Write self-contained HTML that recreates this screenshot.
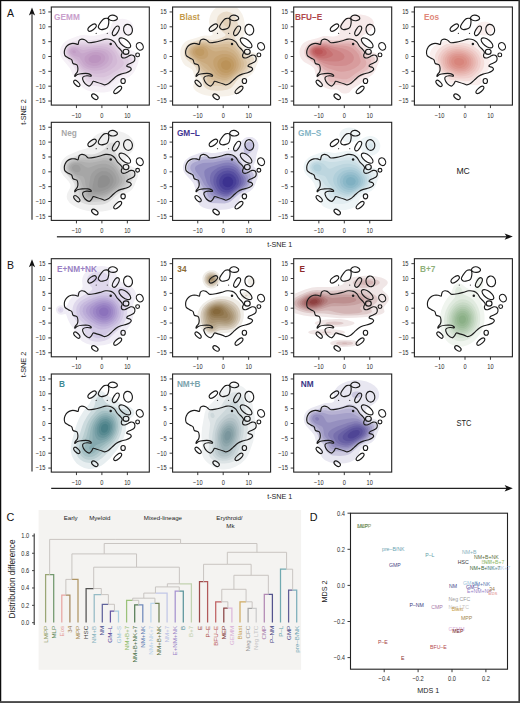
<!DOCTYPE html><html><head><meta charset="utf-8"><style>html,body{margin:0;padding:0;background:#fff;}svg{display:block}text{font-family:"Liberation Sans",sans-serif}</style></head><body>
<svg width="520" height="703" viewBox="0 0 520 703">
<rect width="520" height="703" fill="#fff"/>
<defs><clipPath id="pc"><rect x="0" y="0" width="98" height="98.1"/></clipPath></defs>
<rect x="0" y="0" width="520" height="1.15" fill="#0c0c0c"/><rect x="0" y="0" width="1.25" height="703" fill="#0c0c0c"/><rect x="518.4" y="0" width="1.6" height="703" fill="#383838"/><rect x="0" y="701.1" width="520" height="1.9" fill="#4a4a4a"/>
<g transform="translate(51.30 7.00)"><g clip-path="url(#pc)"><g transform="translate(0.90 0.60)"><path d="M55.0,84.5 52.0,84.9 48.5,84.9 38.5,83.8 34.0,82.5 30.5,80.2 28.5,78.0 25.1,73.0 21.4,69.0 20.3,67.0 18.6,62.5 17.5,60.5 9.7,51.0 8.5,48.5 7.9,46.0 7.8,44.0 8.1,41.5 9.3,38.5 11.0,35.9 13.5,33.6 16.5,31.8 25.0,28.7 28.5,27.7 32.0,27.5 38.5,28.2 42.0,28.1 46.0,27.5 54.0,25.5 56.2,24.5 57.1,23.5 59.2,17.0 60.6,15.0 62.3,13.5 64.5,12.2 67.5,11.4 70.5,11.2 73.5,11.6 77.0,13.0 79.5,15.1 81.1,18.0 81.3,21.0 80.5,23.5 78.4,26.0 76.0,27.6 71.8,29.5 70.3,30.5 69.6,32.0 69.9,33.5 71.7,37.0 74.3,40.0 76.5,41.4 82.0,43.9 83.5,45.1 84.7,46.5 85.8,48.5 86.4,50.5 86.4,52.5 86.1,55.0 85.3,57.5 82.8,63.0 81.6,65.0 79.9,67.0 77.0,69.3 70.0,73.0 67.8,74.5 65.9,76.5 63.1,80.5 61.5,82.0 58.5,83.6 55.0,84.5Z" fill="#f6f1f7" fill-rule="evenodd"/><path d="M54.0,79.0 52.0,79.4 50.0,79.5 43.5,78.3 37.0,78.2 34.5,77.3 32.3,75.5 28.8,70.0 24.4,66.0 23.6,64.5 22.1,60.5 20.9,58.5 13.5,50.5 11.9,48.0 11.2,45.5 11.3,42.5 12.4,39.5 14.4,37.0 16.0,35.8 18.5,34.6 29.5,31.7 32.0,31.6 37.5,32.4 40.0,32.5 52.0,30.7 57.0,30.8 60.5,31.9 63.5,34.1 66.7,37.5 71.5,43.7 72.9,45.0 74.5,45.8 79.0,47.0 81.0,48.4 82.2,50.5 82.4,52.0 82.3,53.5 79.0,61.5 77.3,64.0 74.5,66.2 68.5,69.0 65.1,71.0 57.5,77.1 54.0,79.0Z" fill="#ede3ee" fill-rule="evenodd"/><path d="M54.0,75.5 50.5,76.0 43.5,74.9 37.5,75.0 36.0,74.6 34.4,73.5 33.2,72.0 31.2,68.5 26.2,64.5 23.7,59.5 22.0,57.0 15.2,50.0 13.7,48.0 12.8,45.5 12.7,43.0 13.5,40.5 15.0,38.5 17.0,36.9 19.0,36.0 29.5,34.0 32.0,33.9 39.5,34.5 51.5,32.9 56.0,33.0 59.5,34.2 62.5,36.3 66.4,40.5 70.3,46.0 71.5,47.3 73.0,48.1 77.0,49.1 78.6,50.0 79.5,51.5 79.7,52.5 79.4,54.0 76.5,60.7 75.0,62.8 72.7,64.5 64.8,68.5 57.0,74.0 54.0,75.5Z" fill="#e6d7e8" fill-rule="evenodd"/><path d="M52.0,73.0 49.0,73.0 38.0,71.7 36.5,70.8 33.2,67.0 28.0,63.7 27.0,62.5 25.0,58.7 23.5,56.6 20.7,53.5 16.0,49.2 14.5,47.0 13.8,45.0 13.9,43.0 14.5,41.0 15.5,39.5 18.0,37.6 21.5,36.6 30.0,35.9 39.5,36.2 52.0,34.8 55.0,34.9 57.5,35.5 60.0,36.8 62.0,38.4 65.7,42.5 68.8,47.5 70.0,49.0 71.5,50.0 75.0,51.4 75.9,52.0 76.4,53.0 76.3,54.5 74.0,59.9 72.2,62.0 63.5,66.8 56.0,71.6 54.0,72.5 52.0,73.0Z" fill="#dfcde1" fill-rule="evenodd"/><path d="M51.5,69.6 46.5,69.7 41.0,68.9 29.3,62.5 28.0,61.1 25.8,57.5 24.0,55.2 21.4,52.5 17.2,49.0 15.6,47.0 15.0,45.5 14.8,43.5 15.4,41.5 16.4,40.0 18.5,38.4 21.5,37.6 36.5,37.9 51.0,36.6 54.0,36.9 56.5,37.5 58.5,38.4 60.5,39.8 64.0,43.5 68.0,50.3 71.3,54.0 71.7,55.0 71.5,56.5 70.1,59.0 67.0,61.5 57.0,67.6 54.0,69.0 51.5,69.6Z" fill="#d9c2db" fill-rule="evenodd"/><path d="M48.0,66.0 44.5,66.2 41.5,65.8 33.0,62.6 30.5,61.2 29.0,59.7 24.5,53.7 18.5,48.8 16.8,47.0 16.0,45.5 15.7,44.0 16.0,42.4 17.0,40.7 19.0,39.2 21.5,38.6 24.5,38.7 30.0,39.8 32.5,40.0 44.5,38.7 49.0,38.5 52.0,38.8 54.5,39.3 57.0,40.4 59.0,41.7 62.0,44.9 63.9,48.5 65.1,53.0 65.0,54.5 64.6,56.0 63.7,57.5 62.0,59.5 58.0,62.5 53.0,64.9 48.0,66.0Z" fill="#d3b9d6" fill-rule="evenodd"/><path d="M46.0,63.0 42.5,63.2 39.0,62.6 34.5,61.2 31.5,59.6 30.0,58.1 25.5,52.3 19.5,48.3 17.7,46.5 17.0,45.2 16.8,44.0 17.0,42.6 17.6,41.5 19.5,40.0 21.5,39.6 24.8,40.0 29.5,42.1 31.5,42.4 41.5,40.7 47.5,40.5 52.5,41.3 54.5,42.1 56.5,43.4 59.0,46.0 60.3,49.0 60.5,52.0 59.6,55.0 57.2,58.0 54.0,60.3 50.0,62.1 46.0,63.0Z" fill="#cdafd0" fill-rule="evenodd"/><path d="M45.0,60.5 42.0,60.7 39.0,60.4 36.0,59.6 33.5,58.3 31.0,56.0 28.0,50.8 27.0,49.7 21.5,47.9 19.0,46.2 18.2,45.0 18.0,44.0 18.5,42.3 19.3,41.5 20.5,40.9 22.0,40.8 23.3,41.0 25.5,42.2 28.5,45.3 30.0,45.8 32.0,45.4 38.5,43.2 43.5,42.4 46.5,42.4 49.0,42.8 51.2,43.5 53.2,44.5 55.3,46.5 56.4,48.5 56.7,51.0 56.1,53.5 54.3,56.0 51.8,58.0 48.5,59.6 45.0,60.5Z" fill="#c7a6cb" fill-rule="evenodd"/><path d="M23.0,45.6 21.5,45.6 20.5,45.0 20.0,44.0 20.5,43.0 22.0,42.7 23.3,43.5 23.6,44.5 23.5,45.1 23.0,45.6ZM44.5,58.1 41.5,58.3 39.0,58.0 36.5,57.2 34.6,56.0 32.9,54.0 32.3,52.0 32.5,50.0 33.4,48.5 35.0,47.2 37.1,46.0 39.9,45.0 42.5,44.5 45.0,44.5 47.5,44.9 49.5,45.6 51.0,46.6 52.3,48.0 52.9,49.5 53.0,51.3 52.4,53.0 51.4,54.5 49.5,56.1 47.0,57.4 44.5,58.1Z" fill="#c29dc5" fill-rule="evenodd"/><path d="M43.0,55.5 40.0,55.4 37.5,54.1 36.4,52.5 36.3,51.5 36.6,50.5 38.0,48.8 40.5,47.5 43.5,47.1 46.5,47.6 47.9,48.5 48.6,49.5 48.9,50.5 48.7,52.0 48.0,53.1 46.5,54.3 45.0,55.1 43.0,55.5Z" fill="#bc94c0" fill-rule="evenodd"/><g id="ct" fill="none" stroke="#1c1c1c" stroke-width="1.15"><path d="M25.80,36.90 C26.37,36.73 26.07,35.72 26.30,35.00 C26.53,34.28 26.65,33.18 27.20,32.60 C27.75,32.02 28.72,31.58 29.60,31.50 C30.48,31.42 31.70,31.75 32.50,32.10 C33.30,32.45 33.75,33.10 34.40,33.60 C35.05,34.10 35.12,34.95 36.40,35.10 C37.68,35.25 40.18,34.83 42.10,34.50 C44.02,34.17 46.00,33.60 47.90,33.10 C49.80,32.60 51.68,31.67 53.50,31.50 C55.32,31.33 57.33,31.58 58.80,32.10 C60.27,32.62 61.25,33.47 62.30,34.60 C63.35,35.73 64.12,37.67 65.10,38.90 C66.08,40.13 67.38,41.02 68.20,42.00 C69.02,42.98 69.85,43.88 70.00,44.80 C70.15,45.72 69.17,46.68 69.10,47.50 C69.03,48.32 69.07,49.22 69.60,49.70 C70.13,50.18 71.25,50.55 72.30,50.40 C73.35,50.25 74.85,49.28 75.90,48.80 C76.95,48.32 77.70,47.65 78.60,47.50 C79.50,47.35 80.62,47.38 81.30,47.90 C81.98,48.42 82.62,49.62 82.70,50.60 C82.78,51.58 82.48,52.97 81.80,53.80 C81.12,54.63 79.65,55.07 78.60,55.60 C77.55,56.13 76.17,56.47 75.50,57.00 C74.83,57.53 74.23,58.35 74.60,58.80 C74.97,59.25 76.95,59.25 77.70,59.70 C78.45,60.15 79.17,60.83 79.10,61.50 C79.03,62.17 78.13,63.10 77.30,63.70 C76.47,64.30 75.53,64.63 74.10,65.10 C72.67,65.57 70.35,65.90 68.70,66.50 C67.05,67.10 65.72,67.65 64.20,68.70 C62.68,69.75 60.97,71.60 59.60,72.80 C58.23,74.00 57.20,75.15 56.00,75.90 C54.80,76.65 53.52,77.27 52.40,77.30 C51.28,77.33 50.63,76.55 49.30,76.10 C47.97,75.65 45.77,75.00 44.40,74.60 C43.03,74.20 41.97,73.37 41.10,73.70 C40.23,74.03 39.92,75.80 39.20,76.60 C38.48,77.40 37.85,78.58 36.80,78.50 C35.75,78.42 33.95,77.22 32.90,76.10 C31.85,74.97 30.82,72.88 30.50,71.75 C30.18,70.62 30.28,69.89 31.00,69.30 C31.72,68.71 33.52,68.32 34.80,68.20 C36.08,68.08 38.05,68.73 38.70,68.60 C39.35,68.47 39.18,67.83 38.70,67.40 C38.22,66.97 37.25,66.23 35.80,66.00 C34.35,65.77 31.77,65.85 30.00,66.00 C28.23,66.15 26.40,66.42 25.20,66.90 C24.00,67.38 23.20,68.82 22.80,68.90 C22.40,68.98 22.40,68.20 22.80,67.40 C23.20,66.60 24.72,65.22 25.20,64.10 C25.68,62.98 25.78,61.83 25.70,60.70 C25.62,59.57 25.50,58.10 24.70,57.30 C23.90,56.50 21.70,56.62 20.90,55.90 C20.10,55.18 20.20,53.68 19.90,53.00 C19.60,52.32 19.72,52.23 19.10,51.80 C18.48,51.37 17.25,51.03 16.20,50.40 C15.15,49.77 13.48,48.97 12.80,48.00 C12.12,47.03 12.10,45.72 12.10,44.60 C12.10,43.48 12.28,42.42 12.80,41.30 C13.32,40.18 14.15,38.78 15.20,37.90 C16.25,37.02 17.82,36.32 19.10,36.00 C20.38,35.68 21.78,35.85 22.90,36.00 C24.02,36.15 25.23,37.07 25.80,36.90Z"/><path d="M55.50,10.80 C54.78,10.63 53.03,10.55 52.00,11.00 C50.97,11.45 50.20,12.38 49.30,13.50 C48.40,14.62 47.12,16.62 46.60,17.70 C46.08,18.78 45.88,19.30 46.20,20.00 C46.52,20.70 47.53,21.65 48.50,21.90 C49.47,22.15 50.90,21.82 52.00,21.50 C53.10,21.18 54.40,20.70 55.10,20.00 C55.80,19.30 55.95,18.27 56.20,17.30 C56.45,16.33 56.58,15.08 56.60,14.20 C56.62,13.32 56.48,12.57 56.30,12.00 C56.12,11.43 56.22,10.97 55.50,10.80Z"/><path d="M56.20,10.00 C56.47,9.40 57.48,8.32 58.20,7.90 C58.92,7.48 59.62,7.40 60.50,7.50 C61.38,7.60 62.72,8.02 63.50,8.50 C64.28,8.98 65.07,9.80 65.20,10.40 C65.33,11.00 64.97,11.65 64.30,12.10 C63.63,12.55 62.22,13.00 61.20,13.10 C60.18,13.20 58.97,12.97 58.20,12.70 C57.43,12.43 56.93,11.95 56.60,11.50 C56.27,11.05 55.93,10.60 56.20,10.00Z"/><ellipse cx="24.6" cy="75.8" rx="3.9" ry="1.9" transform="rotate(45 24.6 75.8)"/><ellipse cx="42.6" cy="89.1" rx="3.6" ry="2.1" transform="rotate(35 42.6 89.1)"/><ellipse cx="65.5" cy="82.3" rx="4.9" ry="2.1" transform="rotate(-42 65.5 82.3)"/><ellipse cx="70.9" cy="73.4" rx="2.2" ry="2.5" transform="rotate(0 70.9 73.4)"/><ellipse cx="73.8" cy="44.2" rx="2.9" ry="2.6" transform="rotate(0 73.8 44.2)"/><ellipse cx="85.4" cy="47.3" rx="1.9" ry="1.9" transform="rotate(0 85.4 47.3)"/><ellipse cx="87.6" cy="38.8" rx="3.3" ry="4.0" transform="rotate(-30 87.6 38.8)"/><ellipse cx="72.6" cy="35.3" rx="7.0" ry="3.3" transform="rotate(38 72.6 35.3)"/><ellipse cx="39.9" cy="20.0" rx="4.9" ry="2.4" transform="rotate(-38 39.9 20.0)"/><ellipse cx="63.6" cy="23.2" rx="5.3" ry="2.4" transform="rotate(-60 63.6 23.2)"/><ellipse cx="75.8" cy="22.1" rx="4.4" ry="5.4" transform="rotate(-12 75.8 22.1)"/></g><circle cx="58.5" cy="36.5" r="1.25" fill="#1e1e1e"/><circle cx="44" cy="25.8" r="0.62" fill="#444"/><circle cx="55.1" cy="25.8" r="0.62" fill="#444"/></g></g><rect x="0" y="0" width="98.0" height="98.1" fill="none" stroke="#222" stroke-width="1.1"/><line x1="-3" x2="0" y1="4.95" y2="4.95" stroke="#222" stroke-width="0.9"/><text transform="translate(-5.90 7.35) scale(0.850 1)" text-anchor="end" font-size="6.70" fill="#2a2a2a">15</text><line x1="-3" x2="0" y1="19.80" y2="19.80" stroke="#222" stroke-width="0.9"/><text transform="translate(-5.90 22.20) scale(0.850 1)" text-anchor="end" font-size="6.70" fill="#2a2a2a">10</text><line x1="-3" x2="0" y1="34.65" y2="34.65" stroke="#222" stroke-width="0.9"/><text transform="translate(-5.90 37.05) scale(0.850 1)" text-anchor="end" font-size="6.70" fill="#2a2a2a">5</text><line x1="-3" x2="0" y1="49.50" y2="49.50" stroke="#222" stroke-width="0.9"/><text transform="translate(-5.90 51.90) scale(0.850 1)" text-anchor="end" font-size="6.70" fill="#2a2a2a">0</text><line x1="-3" x2="0" y1="64.35" y2="64.35" stroke="#222" stroke-width="0.9"/><text transform="translate(-5.90 66.75) scale(0.850 1)" text-anchor="end" font-size="6.70" fill="#2a2a2a">−5</text><line x1="-3" x2="0" y1="79.20" y2="79.20" stroke="#222" stroke-width="0.9"/><text transform="translate(-5.90 81.60) scale(0.850 1)" text-anchor="end" font-size="6.70" fill="#2a2a2a">−10</text><line x1="-3" x2="0" y1="94.05" y2="94.05" stroke="#222" stroke-width="0.9"/><text transform="translate(-5.90 96.45) scale(0.850 1)" text-anchor="end" font-size="6.70" fill="#2a2a2a">−15</text><line x1="25.15" x2="25.15" y1="98.1" y2="101.1" stroke="#222" stroke-width="0.9"/><text transform="translate(25.15 110.60) scale(0.850 1)" text-anchor="middle" font-size="6.70" fill="#2a2a2a">−10</text><line x1="50.60" x2="50.60" y1="98.1" y2="101.1" stroke="#222" stroke-width="0.9"/><text transform="translate(50.60 110.60) scale(0.850 1)" text-anchor="middle" font-size="6.70" fill="#2a2a2a">0</text><line x1="76.05" x2="76.05" y1="98.1" y2="101.1" stroke="#222" stroke-width="0.9"/><text transform="translate(76.05 110.60) scale(0.850 1)" text-anchor="middle" font-size="6.70" fill="#2a2a2a">10</text><text x="2.8" y="13.3" font-size="8.25" font-weight="bold" fill="#c9a0cc">GEMM</text></g><g transform="translate(172.60 7.00)"><g clip-path="url(#pc)"><g transform="translate(0.90 0.60)"><path d="M48.5,89.0 39.5,88.9 32.0,87.7 28.5,86.7 25.7,85.5 23.1,84.0 21.3,82.5 20.0,80.5 19.7,78.5 20.2,76.5 21.6,73.5 21.8,72.0 19.4,63.5 18.0,61.3 12.0,58.1 10.5,56.7 9.3,55.0 7.9,52.0 7.1,49.0 6.7,46.0 6.9,43.0 7.7,40.0 9.2,37.0 11.5,34.5 14.0,32.9 17.0,31.8 22.4,30.5 28.5,28.3 31.5,27.9 37.0,28.2 38.8,27.5 39.2,26.5 39.0,25.5 36.9,20.5 35.9,17.0 35.6,14.5 35.8,11.5 36.7,8.0 38.2,5.0 40.0,2.5 42.5,0.2 50.5,-0.2 63.3,0.0 66.5,3.1 68.9,7.0 70.3,11.0 71.8,19.0 72.0,22.0 71.7,24.5 70.8,27.0 68.2,31.5 68.1,33.0 68.5,34.5 72.5,40.8 74.4,43.0 76.0,43.8 80.5,44.9 82.0,45.7 83.4,47.0 84.3,48.5 84.8,50.0 84.8,53.0 84.2,55.0 80.9,63.0 79.8,65.0 77.5,67.4 72.5,71.0 70.6,73.0 70.2,74.5 70.3,79.5 69.8,81.0 68.5,82.7 65.3,85.0 60.5,87.0 55.0,88.3 48.5,89.0Z" fill="#f6f1e9" fill-rule="evenodd"/><path d="M48.5,83.0 42.5,83.1 37.5,82.6 34.0,81.6 31.5,79.9 30.4,78.5 29.7,77.0 28.6,71.5 28.1,70.0 24.3,66.0 22.1,60.0 20.0,57.5 14.0,52.7 12.4,51.0 10.8,48.0 10.4,44.5 11.2,41.0 12.7,38.5 15.0,36.3 18.0,34.7 29.5,31.1 32.5,31.2 38.5,32.4 42.0,32.2 47.7,30.5 51.5,28.5 52.1,27.5 51.7,26.5 46.5,21.9 44.3,19.0 43.2,16.0 43.1,13.0 44.1,9.5 45.0,8.0 46.5,6.4 48.0,5.4 49.9,4.5 53.5,4.0 57.0,4.8 59.6,6.5 61.7,9.0 63.4,13.0 65.2,19.5 65.5,22.5 65.1,24.0 64.5,25.2 61.0,28.9 61.0,30.0 61.5,31.0 68.5,40.5 72.0,46.1 73.5,47.2 77.5,48.2 79.0,48.9 80.3,50.5 80.6,52.0 80.1,54.0 78.5,57.5 77.2,61.5 76.4,63.0 75.1,64.5 73.0,66.1 68.0,69.0 65.4,71.0 63.0,73.5 59.5,78.4 57.5,80.3 55.5,81.5 53.5,82.2 48.5,83.0Z" fill="#e9dcca" fill-rule="evenodd"/><path d="M56.5,19.7 55.0,19.8 53.0,19.1 51.3,18.0 50.0,16.5 49.4,15.0 49.4,13.5 50.0,12.0 51.0,11.0 52.5,10.4 54.0,10.5 55.5,11.2 56.7,12.5 57.5,14.5 57.9,17.0 57.5,18.9 56.5,19.7ZM52.0,78.6 49.0,78.7 43.5,78.2 37.5,78.7 35.0,77.9 33.2,76.5 31.8,74.0 31.0,69.7 30.5,68.5 29.7,67.5 27.0,65.6 26.1,64.5 24.2,60.0 22.9,58.0 20.0,55.2 15.0,50.9 13.8,49.5 12.9,48.0 12.3,45.5 12.6,42.5 13.8,40.0 15.5,38.0 17.5,36.6 19.5,35.8 24.0,34.5 28.0,33.0 30.0,32.7 32.5,32.9 37.5,34.2 40.5,34.3 44.0,33.9 52.0,32.0 55.5,31.8 57.5,32.3 59.0,33.0 62.5,36.0 67.0,41.6 70.7,48.0 72.0,49.1 76.3,51.5 76.8,53.0 76.6,54.5 74.8,60.5 74.1,62.0 73.0,63.3 64.2,69.5 56.5,76.6 54.5,77.8 52.0,78.6Z" fill="#e2d0b7" fill-rule="evenodd"/><path d="M52.5,76.0 49.5,76.2 43.0,75.2 37.5,75.6 36.0,75.2 35.0,74.4 33.9,72.5 33.5,68.5 32.7,67.0 28.0,63.7 24.3,57.5 16.1,50.0 14.6,48.0 13.8,46.0 13.8,43.5 14.7,41.0 16.3,39.0 18.0,37.7 20.0,36.8 28.0,34.3 30.0,34.0 32.5,34.2 37.5,35.7 40.0,35.9 43.5,35.6 51.5,34.1 55.0,34.0 57.0,34.5 58.5,35.2 61.5,37.6 66.0,43.0 69.5,49.4 73.0,53.3 73.4,55.0 72.9,58.5 71.9,61.0 69.8,63.5 63.5,68.3 56.5,74.2 54.5,75.4 52.5,76.0Z" fill="#dbc5a6" fill-rule="evenodd"/><path d="M53.0,74.0 49.5,74.2 43.5,72.9 39.4,72.5 38.0,72.0 37.2,71.0 36.3,67.5 35.3,66.0 29.5,62.3 25.3,56.5 17.9,50.0 16.1,48.0 15.2,46.0 15.0,44.0 15.6,42.0 16.9,40.0 18.5,38.7 20.5,37.7 28.0,35.5 30.0,35.2 32.0,35.4 37.0,37.1 40.0,37.5 43.5,37.4 51.0,36.3 54.5,36.4 57.8,37.5 61.0,40.0 64.9,44.5 69.9,53.5 70.5,56.0 70.3,58.5 68.9,61.5 66.6,64.0 57.5,71.6 55.0,73.2 53.0,74.0Z" fill="#d5bb97" fill-rule="evenodd"/><path d="M53.0,72.1 51.0,72.4 48.5,72.1 44.0,70.8 41.5,69.6 40.5,68.7 37.3,64.5 31.4,60.5 27.0,56.0 19.6,50.0 17.3,47.5 16.4,45.5 16.6,43.0 18.0,40.5 19.5,39.3 21.5,38.3 27.5,36.7 30.0,36.4 32.0,36.8 37.5,39.0 40.5,39.8 43.5,39.8 50.5,39.2 54.0,39.5 57.5,40.8 61.0,43.4 64.0,47.0 67.0,53.0 67.8,56.0 67.5,59.0 66.1,62.0 62.9,65.5 57.0,70.2 55.0,71.4 53.0,72.1Z" fill="#cfb289" fill-rule="evenodd"/><path d="M53.0,70.1 51.0,70.2 49.0,70.0 46.5,69.2 44.5,68.2 42.5,66.6 33.8,57.0 32.0,55.9 25.5,52.8 21.4,50.0 18.9,47.5 17.9,45.5 17.9,43.5 19.0,41.3 20.5,40.0 22.7,39.0 27.5,37.8 30.0,37.8 33.2,39.0 38.5,42.8 40.0,43.5 42.5,43.8 49.0,42.9 52.5,43.0 56.5,44.1 60.0,46.2 62.5,49.0 64.6,53.0 65.3,56.5 64.9,59.5 63.5,62.5 60.5,65.7 56.5,68.7 53.0,70.1Z" fill="#caa97c" fill-rule="evenodd"/><path d="M31.0,51.1 29.0,51.4 26.5,51.1 24.0,50.1 21.8,48.5 20.1,46.5 19.5,45.0 19.6,43.5 20.5,41.8 21.5,40.9 23.0,40.1 27.0,39.2 30.0,39.4 32.0,40.6 33.3,42.0 34.1,43.5 34.7,45.5 34.7,47.0 34.3,48.5 33.6,49.5 32.5,50.4 31.0,51.1ZM54.0,67.6 52.0,67.9 50.0,67.7 48.0,67.1 46.0,66.0 44.2,64.5 42.5,62.5 40.4,58.5 39.9,56.5 39.7,54.5 39.9,53.0 40.5,51.5 41.7,50.0 43.0,49.0 46.5,47.2 49.0,46.5 51.5,46.3 54.0,46.6 56.0,47.2 58.0,48.3 59.5,49.5 61.0,51.2 62.2,53.5 62.8,55.5 62.9,57.5 62.6,59.5 61.8,61.5 60.4,63.5 58.5,65.3 56.5,66.6 54.0,67.6Z" fill="#c5a16f" fill-rule="evenodd"/><path d="M27.5,48.5 26.0,48.5 24.5,48.0 23.1,47.0 22.2,46.0 21.8,45.0 21.7,44.0 22.0,43.0 23.0,42.0 25.0,41.1 27.0,40.9 29.0,41.4 30.2,42.5 30.9,44.5 30.5,46.5 29.0,48.0 27.5,48.5ZM54.5,65.1 51.5,65.3 48.5,64.4 46.0,62.3 44.3,59.5 43.8,56.5 44.5,53.7 46.2,51.5 49.0,49.9 52.5,49.4 55.5,50.1 58.3,52.0 59.4,53.5 60.1,55.0 60.5,58.0 59.6,61.0 57.5,63.5 54.5,65.1Z" fill="#c09a63" fill-rule="evenodd"/><path d="M54.5,62.1 52.5,62.5 50.6,62.0 49.1,61.0 48.0,59.5 47.5,57.5 47.7,56.0 48.5,54.5 50.0,53.3 52.0,52.7 54.0,53.0 55.9,54.0 57.1,55.5 57.6,57.5 57.2,59.5 56.1,61.0 54.5,62.1Z" fill="#bb9258" fill-rule="evenodd"/><g id="ct" fill="none" stroke="#1c1c1c" stroke-width="1.15"><path d="M25.80,36.90 C26.37,36.73 26.07,35.72 26.30,35.00 C26.53,34.28 26.65,33.18 27.20,32.60 C27.75,32.02 28.72,31.58 29.60,31.50 C30.48,31.42 31.70,31.75 32.50,32.10 C33.30,32.45 33.75,33.10 34.40,33.60 C35.05,34.10 35.12,34.95 36.40,35.10 C37.68,35.25 40.18,34.83 42.10,34.50 C44.02,34.17 46.00,33.60 47.90,33.10 C49.80,32.60 51.68,31.67 53.50,31.50 C55.32,31.33 57.33,31.58 58.80,32.10 C60.27,32.62 61.25,33.47 62.30,34.60 C63.35,35.73 64.12,37.67 65.10,38.90 C66.08,40.13 67.38,41.02 68.20,42.00 C69.02,42.98 69.85,43.88 70.00,44.80 C70.15,45.72 69.17,46.68 69.10,47.50 C69.03,48.32 69.07,49.22 69.60,49.70 C70.13,50.18 71.25,50.55 72.30,50.40 C73.35,50.25 74.85,49.28 75.90,48.80 C76.95,48.32 77.70,47.65 78.60,47.50 C79.50,47.35 80.62,47.38 81.30,47.90 C81.98,48.42 82.62,49.62 82.70,50.60 C82.78,51.58 82.48,52.97 81.80,53.80 C81.12,54.63 79.65,55.07 78.60,55.60 C77.55,56.13 76.17,56.47 75.50,57.00 C74.83,57.53 74.23,58.35 74.60,58.80 C74.97,59.25 76.95,59.25 77.70,59.70 C78.45,60.15 79.17,60.83 79.10,61.50 C79.03,62.17 78.13,63.10 77.30,63.70 C76.47,64.30 75.53,64.63 74.10,65.10 C72.67,65.57 70.35,65.90 68.70,66.50 C67.05,67.10 65.72,67.65 64.20,68.70 C62.68,69.75 60.97,71.60 59.60,72.80 C58.23,74.00 57.20,75.15 56.00,75.90 C54.80,76.65 53.52,77.27 52.40,77.30 C51.28,77.33 50.63,76.55 49.30,76.10 C47.97,75.65 45.77,75.00 44.40,74.60 C43.03,74.20 41.97,73.37 41.10,73.70 C40.23,74.03 39.92,75.80 39.20,76.60 C38.48,77.40 37.85,78.58 36.80,78.50 C35.75,78.42 33.95,77.22 32.90,76.10 C31.85,74.97 30.82,72.88 30.50,71.75 C30.18,70.62 30.28,69.89 31.00,69.30 C31.72,68.71 33.52,68.32 34.80,68.20 C36.08,68.08 38.05,68.73 38.70,68.60 C39.35,68.47 39.18,67.83 38.70,67.40 C38.22,66.97 37.25,66.23 35.80,66.00 C34.35,65.77 31.77,65.85 30.00,66.00 C28.23,66.15 26.40,66.42 25.20,66.90 C24.00,67.38 23.20,68.82 22.80,68.90 C22.40,68.98 22.40,68.20 22.80,67.40 C23.20,66.60 24.72,65.22 25.20,64.10 C25.68,62.98 25.78,61.83 25.70,60.70 C25.62,59.57 25.50,58.10 24.70,57.30 C23.90,56.50 21.70,56.62 20.90,55.90 C20.10,55.18 20.20,53.68 19.90,53.00 C19.60,52.32 19.72,52.23 19.10,51.80 C18.48,51.37 17.25,51.03 16.20,50.40 C15.15,49.77 13.48,48.97 12.80,48.00 C12.12,47.03 12.10,45.72 12.10,44.60 C12.10,43.48 12.28,42.42 12.80,41.30 C13.32,40.18 14.15,38.78 15.20,37.90 C16.25,37.02 17.82,36.32 19.10,36.00 C20.38,35.68 21.78,35.85 22.90,36.00 C24.02,36.15 25.23,37.07 25.80,36.90Z"/><path d="M55.50,10.80 C54.78,10.63 53.03,10.55 52.00,11.00 C50.97,11.45 50.20,12.38 49.30,13.50 C48.40,14.62 47.12,16.62 46.60,17.70 C46.08,18.78 45.88,19.30 46.20,20.00 C46.52,20.70 47.53,21.65 48.50,21.90 C49.47,22.15 50.90,21.82 52.00,21.50 C53.10,21.18 54.40,20.70 55.10,20.00 C55.80,19.30 55.95,18.27 56.20,17.30 C56.45,16.33 56.58,15.08 56.60,14.20 C56.62,13.32 56.48,12.57 56.30,12.00 C56.12,11.43 56.22,10.97 55.50,10.80Z"/><path d="M56.20,10.00 C56.47,9.40 57.48,8.32 58.20,7.90 C58.92,7.48 59.62,7.40 60.50,7.50 C61.38,7.60 62.72,8.02 63.50,8.50 C64.28,8.98 65.07,9.80 65.20,10.40 C65.33,11.00 64.97,11.65 64.30,12.10 C63.63,12.55 62.22,13.00 61.20,13.10 C60.18,13.20 58.97,12.97 58.20,12.70 C57.43,12.43 56.93,11.95 56.60,11.50 C56.27,11.05 55.93,10.60 56.20,10.00Z"/><ellipse cx="24.6" cy="75.8" rx="3.9" ry="1.9" transform="rotate(45 24.6 75.8)"/><ellipse cx="42.6" cy="89.1" rx="3.6" ry="2.1" transform="rotate(35 42.6 89.1)"/><ellipse cx="65.5" cy="82.3" rx="4.9" ry="2.1" transform="rotate(-42 65.5 82.3)"/><ellipse cx="70.9" cy="73.4" rx="2.2" ry="2.5" transform="rotate(0 70.9 73.4)"/><ellipse cx="73.8" cy="44.2" rx="2.9" ry="2.6" transform="rotate(0 73.8 44.2)"/><ellipse cx="85.4" cy="47.3" rx="1.9" ry="1.9" transform="rotate(0 85.4 47.3)"/><ellipse cx="87.6" cy="38.8" rx="3.3" ry="4.0" transform="rotate(-30 87.6 38.8)"/><ellipse cx="72.6" cy="35.3" rx="7.0" ry="3.3" transform="rotate(38 72.6 35.3)"/><ellipse cx="39.9" cy="20.0" rx="4.9" ry="2.4" transform="rotate(-38 39.9 20.0)"/><ellipse cx="63.6" cy="23.2" rx="5.3" ry="2.4" transform="rotate(-60 63.6 23.2)"/><ellipse cx="75.8" cy="22.1" rx="4.4" ry="5.4" transform="rotate(-12 75.8 22.1)"/></g><circle cx="58.5" cy="36.5" r="1.25" fill="#1e1e1e"/><circle cx="44" cy="25.8" r="0.62" fill="#444"/><circle cx="55.1" cy="25.8" r="0.62" fill="#444"/></g></g><rect x="0" y="0" width="98.0" height="98.1" fill="none" stroke="#222" stroke-width="1.1"/><line x1="-3" x2="0" y1="4.95" y2="4.95" stroke="#222" stroke-width="0.9"/><text transform="translate(-5.90 7.35) scale(0.850 1)" text-anchor="end" font-size="6.70" fill="#2a2a2a">15</text><line x1="-3" x2="0" y1="19.80" y2="19.80" stroke="#222" stroke-width="0.9"/><text transform="translate(-5.90 22.20) scale(0.850 1)" text-anchor="end" font-size="6.70" fill="#2a2a2a">10</text><line x1="-3" x2="0" y1="34.65" y2="34.65" stroke="#222" stroke-width="0.9"/><text transform="translate(-5.90 37.05) scale(0.850 1)" text-anchor="end" font-size="6.70" fill="#2a2a2a">5</text><line x1="-3" x2="0" y1="49.50" y2="49.50" stroke="#222" stroke-width="0.9"/><text transform="translate(-5.90 51.90) scale(0.850 1)" text-anchor="end" font-size="6.70" fill="#2a2a2a">0</text><line x1="-3" x2="0" y1="64.35" y2="64.35" stroke="#222" stroke-width="0.9"/><text transform="translate(-5.90 66.75) scale(0.850 1)" text-anchor="end" font-size="6.70" fill="#2a2a2a">−5</text><line x1="-3" x2="0" y1="79.20" y2="79.20" stroke="#222" stroke-width="0.9"/><text transform="translate(-5.90 81.60) scale(0.850 1)" text-anchor="end" font-size="6.70" fill="#2a2a2a">−10</text><line x1="-3" x2="0" y1="94.05" y2="94.05" stroke="#222" stroke-width="0.9"/><text transform="translate(-5.90 96.45) scale(0.850 1)" text-anchor="end" font-size="6.70" fill="#2a2a2a">−15</text><line x1="25.15" x2="25.15" y1="98.1" y2="101.1" stroke="#222" stroke-width="0.9"/><text transform="translate(25.15 110.60) scale(0.850 1)" text-anchor="middle" font-size="6.70" fill="#2a2a2a">−10</text><line x1="50.60" x2="50.60" y1="98.1" y2="101.1" stroke="#222" stroke-width="0.9"/><text transform="translate(50.60 110.60) scale(0.850 1)" text-anchor="middle" font-size="6.70" fill="#2a2a2a">0</text><line x1="76.05" x2="76.05" y1="98.1" y2="101.1" stroke="#222" stroke-width="0.9"/><text transform="translate(76.05 110.60) scale(0.850 1)" text-anchor="middle" font-size="6.70" fill="#2a2a2a">10</text><text x="7.0" y="13.3" font-size="8.25" font-weight="bold" fill="#c49a4a">Blast</text></g><g transform="translate(293.70 7.00)"><g clip-path="url(#pc)"><g transform="translate(0.90 0.60)"><path d="M51.5,86.0 49.0,85.9 47.0,85.3 45.7,84.5 43.5,82.5 42.5,82.0 36.0,81.8 32.5,81.0 29.0,79.3 26.2,77.0 24.2,74.5 22.0,70.0 21.1,67.5 20.0,62.5 19.0,60.5 16.0,57.8 9.5,54.3 8.0,53.0 6.5,51.0 5.6,49.0 5.0,46.5 4.9,44.0 5.3,41.5 6.5,38.5 8.4,36.0 10.5,34.3 13.5,32.8 22.5,30.6 29.0,28.5 32.0,28.3 37.4,29.0 39.5,29.0 41.9,28.5 43.8,27.5 44.8,26.5 45.2,25.5 44.6,20.0 44.9,18.0 45.5,16.5 46.7,14.5 48.1,13.0 50.0,11.5 52.5,9.9 57.0,8.1 61.5,7.2 66.0,7.0 70.5,7.6 74.5,9.1 77.5,11.5 79.0,14.0 79.3,17.0 78.5,19.5 76.8,22.0 74.0,24.5 67.5,28.5 66.5,30.0 66.6,31.5 67.5,33.5 69.0,36.0 74.0,42.9 75.5,43.8 81.0,45.3 82.5,46.3 83.5,47.3 84.8,50.0 84.9,51.5 84.7,53.5 80.6,63.5 78.5,66.5 76.5,68.2 70.8,72.0 64.9,77.0 58.0,81.0 55.0,84.6 53.5,85.5 51.5,86.0Z" fill="#f6e9e9" fill-rule="evenodd"/><path d="M54.0,77.5 50.5,78.0 43.5,77.3 37.0,77.8 34.5,77.2 32.0,75.6 30.6,73.5 29.0,69.2 25.5,65.5 23.3,60.5 22.3,59.0 18.7,55.5 12.8,51.0 10.7,48.5 9.8,46.0 9.8,43.0 10.6,40.5 12.4,38.0 14.5,36.2 17.5,34.8 23.0,33.5 29.0,31.7 32.0,31.6 37.0,32.7 40.0,32.9 44.0,32.5 52.0,31.0 56.0,31.0 59.5,32.2 63.0,34.8 67.6,40.0 71.1,45.5 72.5,47.0 74.0,47.7 78.0,48.7 79.4,49.5 80.1,50.5 80.4,51.5 80.2,53.5 78.4,57.5 77.0,61.5 75.7,63.5 73.5,65.3 66.0,69.4 58.5,75.5 56.5,76.6 54.0,77.5Z" fill="#ecd0d0" fill-rule="evenodd"/><path d="M52.0,75.1 49.5,75.1 43.5,74.4 37.5,74.8 36.0,74.4 34.7,73.5 33.8,72.0 33.0,68.5 32.2,67.0 27.5,63.5 24.7,59.0 23.0,57.0 14.5,50.3 12.6,48.0 11.6,45.5 11.7,43.0 12.6,40.5 14.0,38.6 16.0,37.0 18.5,35.9 28.5,33.4 30.5,33.2 32.5,33.4 37.5,34.6 40.0,34.8 43.5,34.6 51.5,33.6 55.0,33.6 57.0,34.0 59.0,34.9 62.5,37.5 66.5,42.0 70.5,48.6 72.0,49.8 75.0,51.2 75.9,52.0 76.4,53.0 76.2,54.5 74.3,60.0 73.5,61.4 72.4,62.5 64.0,67.5 56.5,73.5 54.4,74.5 52.0,75.1Z" fill="#e5bdbe" fill-rule="evenodd"/><path d="M52.0,71.6 48.0,71.7 40.5,70.4 39.3,69.5 37.8,67.0 36.4,65.5 29.5,61.8 24.6,56.5 16.0,50.0 14.0,48.0 13.0,46.0 12.8,43.5 13.4,41.5 14.7,39.5 16.5,37.9 19.0,36.8 30.0,34.6 32.0,34.7 36.5,35.8 39.5,36.2 50.5,35.8 54.0,35.9 57.7,37.0 61.0,39.2 65.0,43.5 68.5,49.8 71.4,53.5 71.8,55.0 71.5,57.0 70.5,59.2 68.7,61.0 61.0,65.9 55.0,70.3 52.0,71.6Z" fill="#deacad" fill-rule="evenodd"/><path d="M50.0,64.0 46.5,64.2 43.0,63.6 33.5,60.6 30.5,59.1 17.5,50.0 15.3,48.0 14.3,46.5 13.8,44.5 14.1,42.5 14.8,41.0 16.5,39.1 19.0,37.7 21.5,37.1 30.0,35.8 39.0,37.6 48.5,38.0 52.0,38.4 55.5,39.4 58.5,41.0 61.9,44.0 64.0,47.0 65.9,52.5 66.1,54.0 65.7,55.5 63.9,58.0 60.0,60.7 55.0,62.9 50.0,64.0Z" fill="#d89c9d" fill-rule="evenodd"/><path d="M47.0,58.5 41.0,58.3 34.0,57.1 29.5,55.6 23.5,52.7 18.0,49.2 15.7,47.0 14.8,44.5 14.9,43.0 15.5,41.5 17.3,39.5 20.0,38.2 29.5,37.0 32.0,37.3 38.5,39.1 47.5,40.7 50.5,41.7 53.4,43.0 56.3,45.0 58.5,47.5 59.3,50.0 59.0,52.5 57.5,54.7 54.9,56.5 51.5,57.8 47.0,58.5Z" fill="#d28d8f" fill-rule="evenodd"/><path d="M44.0,53.6 39.5,53.9 32.5,53.6 28.0,52.9 24.5,51.8 20.0,49.5 17.0,47.1 15.9,45.0 15.8,43.5 16.1,42.5 17.5,40.5 20.0,39.1 22.6,38.5 28.0,38.1 31.5,38.6 41.8,42.5 45.2,44.0 47.5,45.5 49.0,47.0 49.9,49.0 49.6,50.5 48.5,51.8 46.5,52.9 44.0,53.6Z" fill="#cc7f80" fill-rule="evenodd"/><path d="M32.0,50.6 29.0,50.9 26.0,50.7 23.5,50.1 20.5,48.7 18.3,47.0 17.2,45.5 16.9,43.5 17.5,42.0 18.5,40.9 20.0,40.0 24.0,39.2 29.0,39.5 32.6,41.0 34.8,42.5 37.0,44.5 38.0,46.0 38.3,47.0 37.9,48.0 36.8,49.0 34.5,50.0 32.0,50.6Z" fill="#c77172" fill-rule="evenodd"/><path d="M26.0,49.0 22.5,48.3 19.4,46.5 18.5,45.3 18.2,44.0 18.3,43.0 19.0,41.9 20.0,41.2 21.5,40.5 25.0,40.3 28.5,41.0 30.8,42.5 31.8,44.0 32.1,45.0 32.0,46.0 31.5,46.8 30.5,47.7 29.0,48.5 26.0,49.0Z" fill="#c16365" fill-rule="evenodd"/><path d="M25.0,47.0 22.5,46.6 20.7,45.5 20.0,44.0 20.7,42.5 22.0,41.8 24.0,41.6 26.0,42.0 27.6,43.0 28.1,44.0 27.9,45.5 26.8,46.5 25.0,47.0Z" fill="#bc5658" fill-rule="evenodd"/><g id="ct" fill="none" stroke="#1c1c1c" stroke-width="1.15"><path d="M25.80,36.90 C26.37,36.73 26.07,35.72 26.30,35.00 C26.53,34.28 26.65,33.18 27.20,32.60 C27.75,32.02 28.72,31.58 29.60,31.50 C30.48,31.42 31.70,31.75 32.50,32.10 C33.30,32.45 33.75,33.10 34.40,33.60 C35.05,34.10 35.12,34.95 36.40,35.10 C37.68,35.25 40.18,34.83 42.10,34.50 C44.02,34.17 46.00,33.60 47.90,33.10 C49.80,32.60 51.68,31.67 53.50,31.50 C55.32,31.33 57.33,31.58 58.80,32.10 C60.27,32.62 61.25,33.47 62.30,34.60 C63.35,35.73 64.12,37.67 65.10,38.90 C66.08,40.13 67.38,41.02 68.20,42.00 C69.02,42.98 69.85,43.88 70.00,44.80 C70.15,45.72 69.17,46.68 69.10,47.50 C69.03,48.32 69.07,49.22 69.60,49.70 C70.13,50.18 71.25,50.55 72.30,50.40 C73.35,50.25 74.85,49.28 75.90,48.80 C76.95,48.32 77.70,47.65 78.60,47.50 C79.50,47.35 80.62,47.38 81.30,47.90 C81.98,48.42 82.62,49.62 82.70,50.60 C82.78,51.58 82.48,52.97 81.80,53.80 C81.12,54.63 79.65,55.07 78.60,55.60 C77.55,56.13 76.17,56.47 75.50,57.00 C74.83,57.53 74.23,58.35 74.60,58.80 C74.97,59.25 76.95,59.25 77.70,59.70 C78.45,60.15 79.17,60.83 79.10,61.50 C79.03,62.17 78.13,63.10 77.30,63.70 C76.47,64.30 75.53,64.63 74.10,65.10 C72.67,65.57 70.35,65.90 68.70,66.50 C67.05,67.10 65.72,67.65 64.20,68.70 C62.68,69.75 60.97,71.60 59.60,72.80 C58.23,74.00 57.20,75.15 56.00,75.90 C54.80,76.65 53.52,77.27 52.40,77.30 C51.28,77.33 50.63,76.55 49.30,76.10 C47.97,75.65 45.77,75.00 44.40,74.60 C43.03,74.20 41.97,73.37 41.10,73.70 C40.23,74.03 39.92,75.80 39.20,76.60 C38.48,77.40 37.85,78.58 36.80,78.50 C35.75,78.42 33.95,77.22 32.90,76.10 C31.85,74.97 30.82,72.88 30.50,71.75 C30.18,70.62 30.28,69.89 31.00,69.30 C31.72,68.71 33.52,68.32 34.80,68.20 C36.08,68.08 38.05,68.73 38.70,68.60 C39.35,68.47 39.18,67.83 38.70,67.40 C38.22,66.97 37.25,66.23 35.80,66.00 C34.35,65.77 31.77,65.85 30.00,66.00 C28.23,66.15 26.40,66.42 25.20,66.90 C24.00,67.38 23.20,68.82 22.80,68.90 C22.40,68.98 22.40,68.20 22.80,67.40 C23.20,66.60 24.72,65.22 25.20,64.10 C25.68,62.98 25.78,61.83 25.70,60.70 C25.62,59.57 25.50,58.10 24.70,57.30 C23.90,56.50 21.70,56.62 20.90,55.90 C20.10,55.18 20.20,53.68 19.90,53.00 C19.60,52.32 19.72,52.23 19.10,51.80 C18.48,51.37 17.25,51.03 16.20,50.40 C15.15,49.77 13.48,48.97 12.80,48.00 C12.12,47.03 12.10,45.72 12.10,44.60 C12.10,43.48 12.28,42.42 12.80,41.30 C13.32,40.18 14.15,38.78 15.20,37.90 C16.25,37.02 17.82,36.32 19.10,36.00 C20.38,35.68 21.78,35.85 22.90,36.00 C24.02,36.15 25.23,37.07 25.80,36.90Z"/><path d="M55.50,10.80 C54.78,10.63 53.03,10.55 52.00,11.00 C50.97,11.45 50.20,12.38 49.30,13.50 C48.40,14.62 47.12,16.62 46.60,17.70 C46.08,18.78 45.88,19.30 46.20,20.00 C46.52,20.70 47.53,21.65 48.50,21.90 C49.47,22.15 50.90,21.82 52.00,21.50 C53.10,21.18 54.40,20.70 55.10,20.00 C55.80,19.30 55.95,18.27 56.20,17.30 C56.45,16.33 56.58,15.08 56.60,14.20 C56.62,13.32 56.48,12.57 56.30,12.00 C56.12,11.43 56.22,10.97 55.50,10.80Z"/><path d="M56.20,10.00 C56.47,9.40 57.48,8.32 58.20,7.90 C58.92,7.48 59.62,7.40 60.50,7.50 C61.38,7.60 62.72,8.02 63.50,8.50 C64.28,8.98 65.07,9.80 65.20,10.40 C65.33,11.00 64.97,11.65 64.30,12.10 C63.63,12.55 62.22,13.00 61.20,13.10 C60.18,13.20 58.97,12.97 58.20,12.70 C57.43,12.43 56.93,11.95 56.60,11.50 C56.27,11.05 55.93,10.60 56.20,10.00Z"/><ellipse cx="24.6" cy="75.8" rx="3.9" ry="1.9" transform="rotate(45 24.6 75.8)"/><ellipse cx="42.6" cy="89.1" rx="3.6" ry="2.1" transform="rotate(35 42.6 89.1)"/><ellipse cx="65.5" cy="82.3" rx="4.9" ry="2.1" transform="rotate(-42 65.5 82.3)"/><ellipse cx="70.9" cy="73.4" rx="2.2" ry="2.5" transform="rotate(0 70.9 73.4)"/><ellipse cx="73.8" cy="44.2" rx="2.9" ry="2.6" transform="rotate(0 73.8 44.2)"/><ellipse cx="85.4" cy="47.3" rx="1.9" ry="1.9" transform="rotate(0 85.4 47.3)"/><ellipse cx="87.6" cy="38.8" rx="3.3" ry="4.0" transform="rotate(-30 87.6 38.8)"/><ellipse cx="72.6" cy="35.3" rx="7.0" ry="3.3" transform="rotate(38 72.6 35.3)"/><ellipse cx="39.9" cy="20.0" rx="4.9" ry="2.4" transform="rotate(-38 39.9 20.0)"/><ellipse cx="63.6" cy="23.2" rx="5.3" ry="2.4" transform="rotate(-60 63.6 23.2)"/><ellipse cx="75.8" cy="22.1" rx="4.4" ry="5.4" transform="rotate(-12 75.8 22.1)"/></g><circle cx="58.5" cy="36.5" r="1.25" fill="#1e1e1e"/><circle cx="44" cy="25.8" r="0.62" fill="#444"/><circle cx="55.1" cy="25.8" r="0.62" fill="#444"/></g></g><rect x="0" y="0" width="98.0" height="98.1" fill="none" stroke="#222" stroke-width="1.1"/><line x1="-3" x2="0" y1="4.95" y2="4.95" stroke="#222" stroke-width="0.9"/><text transform="translate(-5.90 7.35) scale(0.850 1)" text-anchor="end" font-size="6.70" fill="#2a2a2a">15</text><line x1="-3" x2="0" y1="19.80" y2="19.80" stroke="#222" stroke-width="0.9"/><text transform="translate(-5.90 22.20) scale(0.850 1)" text-anchor="end" font-size="6.70" fill="#2a2a2a">10</text><line x1="-3" x2="0" y1="34.65" y2="34.65" stroke="#222" stroke-width="0.9"/><text transform="translate(-5.90 37.05) scale(0.850 1)" text-anchor="end" font-size="6.70" fill="#2a2a2a">5</text><line x1="-3" x2="0" y1="49.50" y2="49.50" stroke="#222" stroke-width="0.9"/><text transform="translate(-5.90 51.90) scale(0.850 1)" text-anchor="end" font-size="6.70" fill="#2a2a2a">0</text><line x1="-3" x2="0" y1="64.35" y2="64.35" stroke="#222" stroke-width="0.9"/><text transform="translate(-5.90 66.75) scale(0.850 1)" text-anchor="end" font-size="6.70" fill="#2a2a2a">−5</text><line x1="-3" x2="0" y1="79.20" y2="79.20" stroke="#222" stroke-width="0.9"/><text transform="translate(-5.90 81.60) scale(0.850 1)" text-anchor="end" font-size="6.70" fill="#2a2a2a">−10</text><line x1="-3" x2="0" y1="94.05" y2="94.05" stroke="#222" stroke-width="0.9"/><text transform="translate(-5.90 96.45) scale(0.850 1)" text-anchor="end" font-size="6.70" fill="#2a2a2a">−15</text><line x1="25.15" x2="25.15" y1="98.1" y2="101.1" stroke="#222" stroke-width="0.9"/><text transform="translate(25.15 110.60) scale(0.850 1)" text-anchor="middle" font-size="6.70" fill="#2a2a2a">−10</text><line x1="50.60" x2="50.60" y1="98.1" y2="101.1" stroke="#222" stroke-width="0.9"/><text transform="translate(50.60 110.60) scale(0.850 1)" text-anchor="middle" font-size="6.70" fill="#2a2a2a">0</text><line x1="76.05" x2="76.05" y1="98.1" y2="101.1" stroke="#222" stroke-width="0.9"/><text transform="translate(76.05 110.60) scale(0.850 1)" text-anchor="middle" font-size="6.70" fill="#2a2a2a">10</text><text x="1.4" y="13.3" font-size="8.25" font-weight="bold" fill="#b0474b">BFU–E</text></g><g transform="translate(414.40 7.00)"><g clip-path="url(#pc)"><g transform="translate(0.00 0.60)"><path d="M71.5,28.0 68.5,28.0 65.5,27.1 63.4,25.5 61.8,23.0 61.5,20.5 62.2,18.0 64.0,15.9 67.0,14.3 70.5,13.9 74.0,14.7 76.6,16.5 78.2,19.0 78.5,20.5 78.5,22.0 78.0,23.5 77.1,25.0 74.5,27.1 71.5,28.0ZM63.5,77.6 61.0,77.7 57.0,77.1 52.0,76.8 43.0,74.9 41.5,75.0 38.0,76.1 36.5,76.1 35.0,75.7 33.1,74.5 32.0,73.4 31.1,72.0 30.4,69.0 30.0,68.3 29.0,67.8 25.7,67.0 24.5,66.0 24.1,64.5 23.9,61.0 23.4,59.5 20.2,55.5 15.8,48.5 15.5,47.0 15.7,45.0 16.7,42.5 18.1,40.5 19.6,39.0 21.0,38.0 25.0,36.4 29.0,33.6 31.0,33.1 32.5,33.1 36.5,34.0 38.5,34.1 50.0,32.8 53.5,32.7 58.0,33.7 61.5,35.7 68.0,42.5 69.1,44.5 70.0,47.5 70.9,49.0 75.0,51.5 75.7,53.0 74.7,57.5 74.5,60.5 74.1,62.0 72.5,64.0 68.5,67.0 66.6,69.0 66.2,70.5 67.5,73.5 67.3,75.0 66.0,76.6 63.5,77.6Z" fill="#faefee" fill-rule="evenodd"/><path d="M55.0,73.5 51.0,73.7 43.0,72.7 37.0,72.4 35.5,71.8 34.6,71.0 34.2,70.0 33.9,68.0 33.0,67.0 28.0,65.3 26.9,64.5 26.3,63.5 25.0,58.7 21.6,53.5 20.5,49.5 20.8,47.5 21.6,45.5 23.1,43.0 24.9,41.0 29.5,37.7 32.5,36.4 46.0,35.5 49.5,35.5 53.5,36.2 57.5,37.7 61.0,39.9 64.5,43.0 66.5,45.8 69.6,53.0 69.9,56.0 69.3,59.5 68.5,61.5 67.2,63.5 60.5,70.6 58.0,72.5 55.0,73.5Z" fill="#f4ddda" fill-rule="evenodd"/><path d="M49.5,71.0 44.5,70.9 40.0,70.1 38.8,69.5 37.1,67.5 35.9,66.5 29.5,64.1 28.0,62.8 26.1,58.0 23.9,54.0 23.5,52.5 23.5,50.5 24.4,47.5 26.0,44.8 28.0,42.5 31.0,40.3 34.5,38.7 39.0,37.9 45.0,37.5 50.0,38.1 54.5,39.5 58.5,41.7 61.9,44.5 64.2,47.5 65.9,51.5 66.4,55.0 65.8,59.0 64.1,62.5 61.0,66.2 57.5,69.1 54.5,70.3 49.5,71.0Z" fill="#f0cfcc" fill-rule="evenodd"/><path d="M51.0,68.5 46.0,69.0 41.5,68.4 36.8,65.5 31.5,63.4 29.5,61.8 28.5,60.1 26.4,55.0 26.0,52.0 26.3,50.0 27.3,47.5 28.7,45.5 30.7,43.5 34.0,41.4 37.5,40.1 42.0,39.5 46.5,39.6 51.0,40.6 55.0,42.2 58.4,44.5 60.8,47.0 62.7,50.0 63.6,53.5 63.5,57.0 62.5,60.0 60.5,63.1 57.5,65.8 54.5,67.5 51.0,68.5Z" fill="#ecc3bf" fill-rule="evenodd"/><path d="M48.0,67.0 44.0,67.1 41.0,66.4 33.1,62.5 31.5,61.2 30.2,59.5 29.0,57.1 28.4,55.0 28.2,53.0 28.4,51.0 29.1,49.0 30.3,47.0 32.0,45.2 34.0,43.7 37.5,42.1 41.0,41.4 44.5,41.3 48.5,41.8 52.1,43.0 55.5,44.8 58.1,47.0 59.9,49.5 61.0,52.0 61.4,55.0 60.8,58.0 59.5,60.7 57.5,63.0 54.7,65.0 51.5,66.3 48.0,67.0Z" fill="#e8b8b2" fill-rule="evenodd"/><path d="M49.5,65.0 45.0,65.4 41.0,64.7 35.2,62.0 32.5,59.6 31.5,58.0 30.7,56.0 30.3,52.5 30.8,50.5 31.5,49.0 32.5,47.5 34.0,46.0 36.5,44.5 39.0,43.6 42.0,43.0 45.5,43.0 49.0,43.7 52.0,44.8 54.7,46.5 56.8,48.5 58.4,51.0 59.1,53.5 59.1,56.0 58.4,58.5 57.0,60.7 55.0,62.6 52.5,64.0 49.5,65.0Z" fill="#e5ada7" fill-rule="evenodd"/><path d="M48.5,63.5 44.5,63.8 41.0,63.1 37.4,61.5 34.4,59.0 32.8,56.0 32.4,53.0 33.2,50.0 34.2,48.5 35.5,47.3 37.5,46.0 40.0,45.1 42.5,44.6 45.5,44.7 48.5,45.3 51.0,46.2 53.5,47.8 55.2,49.5 56.4,51.5 57.0,53.5 57.0,56.0 56.4,58.0 55.0,60.0 53.3,61.5 51.0,62.8 48.5,63.5Z" fill="#e1a29c" fill-rule="evenodd"/><path d="M47.0,62.0 43.5,62.0 40.5,61.2 37.5,59.5 35.7,57.5 34.6,55.0 34.6,52.5 35.6,50.0 37.7,48.0 39.7,47.0 42.0,46.4 44.0,46.3 46.5,46.5 48.5,47.0 50.6,48.0 52.5,49.4 53.9,51.0 54.6,52.5 55.0,54.5 54.7,56.5 54.0,58.0 52.8,59.5 51.0,60.8 49.0,61.6 47.0,62.0Z" fill="#de9891" fill-rule="evenodd"/><path d="M47.5,60.1 45.0,60.3 42.5,60.0 40.2,59.0 38.3,57.5 37.1,55.5 36.8,53.5 37.4,51.5 38.6,50.0 40.0,49.0 41.5,48.4 45.0,48.1 48.5,49.0 51.2,51.0 52.5,53.5 52.6,55.0 52.2,56.5 50.5,58.7 49.1,59.5 47.5,60.1Z" fill="#db8f86" fill-rule="evenodd"/><path d="M45.5,58.1 44.0,58.0 42.4,57.5 41.0,56.6 40.1,55.5 39.8,54.5 39.9,53.0 40.5,51.9 41.7,51.0 43.5,50.4 46.0,50.6 48.0,51.5 49.4,53.0 49.7,55.0 49.0,56.4 47.5,57.5 45.5,58.1Z" fill="#d8857c" fill-rule="evenodd"/><g id="ct" fill="none" stroke="#1c1c1c" stroke-width="1.15"><path d="M25.80,36.90 C26.37,36.73 26.07,35.72 26.30,35.00 C26.53,34.28 26.65,33.18 27.20,32.60 C27.75,32.02 28.72,31.58 29.60,31.50 C30.48,31.42 31.70,31.75 32.50,32.10 C33.30,32.45 33.75,33.10 34.40,33.60 C35.05,34.10 35.12,34.95 36.40,35.10 C37.68,35.25 40.18,34.83 42.10,34.50 C44.02,34.17 46.00,33.60 47.90,33.10 C49.80,32.60 51.68,31.67 53.50,31.50 C55.32,31.33 57.33,31.58 58.80,32.10 C60.27,32.62 61.25,33.47 62.30,34.60 C63.35,35.73 64.12,37.67 65.10,38.90 C66.08,40.13 67.38,41.02 68.20,42.00 C69.02,42.98 69.85,43.88 70.00,44.80 C70.15,45.72 69.17,46.68 69.10,47.50 C69.03,48.32 69.07,49.22 69.60,49.70 C70.13,50.18 71.25,50.55 72.30,50.40 C73.35,50.25 74.85,49.28 75.90,48.80 C76.95,48.32 77.70,47.65 78.60,47.50 C79.50,47.35 80.62,47.38 81.30,47.90 C81.98,48.42 82.62,49.62 82.70,50.60 C82.78,51.58 82.48,52.97 81.80,53.80 C81.12,54.63 79.65,55.07 78.60,55.60 C77.55,56.13 76.17,56.47 75.50,57.00 C74.83,57.53 74.23,58.35 74.60,58.80 C74.97,59.25 76.95,59.25 77.70,59.70 C78.45,60.15 79.17,60.83 79.10,61.50 C79.03,62.17 78.13,63.10 77.30,63.70 C76.47,64.30 75.53,64.63 74.10,65.10 C72.67,65.57 70.35,65.90 68.70,66.50 C67.05,67.10 65.72,67.65 64.20,68.70 C62.68,69.75 60.97,71.60 59.60,72.80 C58.23,74.00 57.20,75.15 56.00,75.90 C54.80,76.65 53.52,77.27 52.40,77.30 C51.28,77.33 50.63,76.55 49.30,76.10 C47.97,75.65 45.77,75.00 44.40,74.60 C43.03,74.20 41.97,73.37 41.10,73.70 C40.23,74.03 39.92,75.80 39.20,76.60 C38.48,77.40 37.85,78.58 36.80,78.50 C35.75,78.42 33.95,77.22 32.90,76.10 C31.85,74.97 30.82,72.88 30.50,71.75 C30.18,70.62 30.28,69.89 31.00,69.30 C31.72,68.71 33.52,68.32 34.80,68.20 C36.08,68.08 38.05,68.73 38.70,68.60 C39.35,68.47 39.18,67.83 38.70,67.40 C38.22,66.97 37.25,66.23 35.80,66.00 C34.35,65.77 31.77,65.85 30.00,66.00 C28.23,66.15 26.40,66.42 25.20,66.90 C24.00,67.38 23.20,68.82 22.80,68.90 C22.40,68.98 22.40,68.20 22.80,67.40 C23.20,66.60 24.72,65.22 25.20,64.10 C25.68,62.98 25.78,61.83 25.70,60.70 C25.62,59.57 25.50,58.10 24.70,57.30 C23.90,56.50 21.70,56.62 20.90,55.90 C20.10,55.18 20.20,53.68 19.90,53.00 C19.60,52.32 19.72,52.23 19.10,51.80 C18.48,51.37 17.25,51.03 16.20,50.40 C15.15,49.77 13.48,48.97 12.80,48.00 C12.12,47.03 12.10,45.72 12.10,44.60 C12.10,43.48 12.28,42.42 12.80,41.30 C13.32,40.18 14.15,38.78 15.20,37.90 C16.25,37.02 17.82,36.32 19.10,36.00 C20.38,35.68 21.78,35.85 22.90,36.00 C24.02,36.15 25.23,37.07 25.80,36.90Z"/><path d="M55.50,10.80 C54.78,10.63 53.03,10.55 52.00,11.00 C50.97,11.45 50.20,12.38 49.30,13.50 C48.40,14.62 47.12,16.62 46.60,17.70 C46.08,18.78 45.88,19.30 46.20,20.00 C46.52,20.70 47.53,21.65 48.50,21.90 C49.47,22.15 50.90,21.82 52.00,21.50 C53.10,21.18 54.40,20.70 55.10,20.00 C55.80,19.30 55.95,18.27 56.20,17.30 C56.45,16.33 56.58,15.08 56.60,14.20 C56.62,13.32 56.48,12.57 56.30,12.00 C56.12,11.43 56.22,10.97 55.50,10.80Z"/><path d="M56.20,10.00 C56.47,9.40 57.48,8.32 58.20,7.90 C58.92,7.48 59.62,7.40 60.50,7.50 C61.38,7.60 62.72,8.02 63.50,8.50 C64.28,8.98 65.07,9.80 65.20,10.40 C65.33,11.00 64.97,11.65 64.30,12.10 C63.63,12.55 62.22,13.00 61.20,13.10 C60.18,13.20 58.97,12.97 58.20,12.70 C57.43,12.43 56.93,11.95 56.60,11.50 C56.27,11.05 55.93,10.60 56.20,10.00Z"/><ellipse cx="24.6" cy="75.8" rx="3.9" ry="1.9" transform="rotate(45 24.6 75.8)"/><ellipse cx="42.6" cy="89.1" rx="3.6" ry="2.1" transform="rotate(35 42.6 89.1)"/><ellipse cx="65.5" cy="82.3" rx="4.9" ry="2.1" transform="rotate(-42 65.5 82.3)"/><ellipse cx="70.9" cy="73.4" rx="2.2" ry="2.5" transform="rotate(0 70.9 73.4)"/><ellipse cx="73.8" cy="44.2" rx="2.9" ry="2.6" transform="rotate(0 73.8 44.2)"/><ellipse cx="85.4" cy="47.3" rx="1.9" ry="1.9" transform="rotate(0 85.4 47.3)"/><ellipse cx="87.6" cy="38.8" rx="3.3" ry="4.0" transform="rotate(-30 87.6 38.8)"/><ellipse cx="72.6" cy="35.3" rx="7.0" ry="3.3" transform="rotate(38 72.6 35.3)"/><ellipse cx="39.9" cy="20.0" rx="4.9" ry="2.4" transform="rotate(-38 39.9 20.0)"/><ellipse cx="63.6" cy="23.2" rx="5.3" ry="2.4" transform="rotate(-60 63.6 23.2)"/><ellipse cx="75.8" cy="22.1" rx="4.4" ry="5.4" transform="rotate(-12 75.8 22.1)"/></g><circle cx="58.5" cy="36.5" r="1.25" fill="#1e1e1e"/><circle cx="44" cy="25.8" r="0.62" fill="#444"/><circle cx="55.1" cy="25.8" r="0.62" fill="#444"/></g></g><rect x="0" y="0" width="98.0" height="98.1" fill="none" stroke="#222" stroke-width="1.1"/><line x1="-3" x2="0" y1="4.95" y2="4.95" stroke="#222" stroke-width="0.9"/><text transform="translate(-5.90 7.35) scale(0.850 1)" text-anchor="end" font-size="6.70" fill="#2a2a2a">15</text><line x1="-3" x2="0" y1="19.80" y2="19.80" stroke="#222" stroke-width="0.9"/><text transform="translate(-5.90 22.20) scale(0.850 1)" text-anchor="end" font-size="6.70" fill="#2a2a2a">10</text><line x1="-3" x2="0" y1="34.65" y2="34.65" stroke="#222" stroke-width="0.9"/><text transform="translate(-5.90 37.05) scale(0.850 1)" text-anchor="end" font-size="6.70" fill="#2a2a2a">5</text><line x1="-3" x2="0" y1="49.50" y2="49.50" stroke="#222" stroke-width="0.9"/><text transform="translate(-5.90 51.90) scale(0.850 1)" text-anchor="end" font-size="6.70" fill="#2a2a2a">0</text><line x1="-3" x2="0" y1="64.35" y2="64.35" stroke="#222" stroke-width="0.9"/><text transform="translate(-5.90 66.75) scale(0.850 1)" text-anchor="end" font-size="6.70" fill="#2a2a2a">−5</text><line x1="-3" x2="0" y1="79.20" y2="79.20" stroke="#222" stroke-width="0.9"/><text transform="translate(-5.90 81.60) scale(0.850 1)" text-anchor="end" font-size="6.70" fill="#2a2a2a">−10</text><line x1="-3" x2="0" y1="94.05" y2="94.05" stroke="#222" stroke-width="0.9"/><text transform="translate(-5.90 96.45) scale(0.850 1)" text-anchor="end" font-size="6.70" fill="#2a2a2a">−15</text><line x1="25.15" x2="25.15" y1="98.1" y2="101.1" stroke="#222" stroke-width="0.9"/><text transform="translate(25.15 110.60) scale(0.850 1)" text-anchor="middle" font-size="6.70" fill="#2a2a2a">−10</text><line x1="50.60" x2="50.60" y1="98.1" y2="101.1" stroke="#222" stroke-width="0.9"/><text transform="translate(50.60 110.60) scale(0.850 1)" text-anchor="middle" font-size="6.70" fill="#2a2a2a">0</text><line x1="76.05" x2="76.05" y1="98.1" y2="101.1" stroke="#222" stroke-width="0.9"/><text transform="translate(76.05 110.60) scale(0.850 1)" text-anchor="middle" font-size="6.70" fill="#2a2a2a">10</text><text x="9.5" y="13.3" font-size="8.25" font-weight="bold" fill="#e0887a">Eos</text></g><g transform="translate(51.30 122.30)"><g clip-path="url(#pc)"><g transform="translate(0.90 0.60)"><path d="M50.0,88.5 45.0,88.7 40.0,88.5 36.0,88.1 31.5,87.1 27.5,85.8 23.0,83.8 19.5,81.6 17.1,79.5 15.1,76.5 14.7,75.0 14.5,73.0 15.2,70.0 18.1,64.5 18.4,63.0 18.2,61.5 16.5,58.5 11.4,53.0 9.3,50.0 8.5,48.0 8.0,46.0 8.2,42.0 9.2,39.0 10.4,37.0 12.1,35.0 14.5,33.2 17.0,31.9 27.0,27.7 33.5,25.8 35.5,24.8 36.5,23.5 38.2,18.5 39.7,16.0 42.0,13.5 45.0,11.3 50.0,9.1 55.5,7.9 61.5,7.7 67.0,8.3 72.0,9.9 76.5,12.3 79.5,15.0 81.7,18.5 82.2,20.5 82.4,22.5 81.5,26.0 79.5,29.1 74.0,34.5 73.4,36.0 73.4,37.5 74.0,39.5 75.5,41.6 76.8,42.5 81.5,44.4 84.1,46.5 85.0,48.0 85.7,50.0 85.7,53.5 82.2,62.5 80.6,65.5 79.0,67.3 77.0,68.8 70.1,72.5 67.5,74.5 65.8,77.0 64.7,82.0 63.4,84.0 61.0,85.7 58.0,87.0 54.5,87.9 50.0,88.5Z" fill="#f0f0f0" fill-rule="evenodd"/><path d="M43.5,82.0 37.5,82.0 33.0,81.1 26.0,78.2 24.0,76.9 22.6,75.5 21.8,74.0 21.6,72.5 22.5,64.9 22.5,62.5 22.2,61.0 20.5,58.0 14.0,51.2 12.3,49.0 11.6,47.5 11.2,45.5 11.5,42.0 12.3,40.0 13.7,38.0 15.5,36.4 18.0,35.0 24.0,33.0 28.0,31.4 30.0,30.9 32.5,30.8 39.0,31.6 41.5,31.3 44.1,30.5 48.6,28.5 51.7,26.5 53.2,25.0 55.3,21.5 56.5,20.5 59.0,19.6 61.5,19.8 63.1,20.5 64.1,22.0 64.0,23.5 62.7,26.5 62.7,28.0 63.4,30.0 66.5,35.5 71.5,43.8 72.8,45.5 74.5,46.5 79.0,47.6 80.8,49.0 81.8,51.0 81.6,53.5 79.6,58.0 78.1,62.5 77.1,64.0 75.5,65.6 65.8,71.0 62.7,73.5 58.0,78.0 55.0,80.1 53.0,80.9 50.5,81.5 43.5,82.0Z" fill="#dbdbdb" fill-rule="evenodd"/><path d="M42.5,79.0 38.0,79.4 35.0,79.0 31.5,77.6 28.9,75.5 27.7,73.5 26.8,70.0 25.2,66.5 24.4,61.5 23.5,59.0 21.5,56.5 15.4,50.5 13.6,48.0 12.8,45.0 13.3,42.0 15.0,39.1 17.5,37.1 19.5,36.1 24.0,34.9 29.0,33.2 32.0,32.9 37.0,33.7 40.0,33.8 43.5,33.2 52.5,30.8 55.5,30.7 58.0,31.2 60.5,32.5 63.1,35.0 67.6,41.0 70.4,46.0 71.5,47.4 73.0,48.4 76.5,49.5 78.1,50.5 78.9,52.0 78.7,54.0 76.1,61.5 74.7,63.5 72.5,65.2 64.5,69.9 56.5,76.3 54.0,77.7 51.5,78.4 42.5,79.0Z" fill="#cecece" fill-rule="evenodd"/><path d="M40.0,77.5 37.5,77.7 35.0,77.3 32.5,76.0 31.1,74.5 30.2,72.5 29.5,69.0 26.8,64.5 25.9,60.5 25.0,58.5 23.0,56.0 16.6,50.0 14.8,47.5 14.1,45.0 14.7,42.0 16.4,39.5 19.0,37.7 29.5,34.8 32.0,34.7 36.5,35.4 39.5,35.5 43.0,35.1 52.5,32.9 55.5,32.9 58.0,33.6 60.5,35.2 63.5,38.3 66.7,42.5 69.4,47.5 70.5,48.9 72.0,50.1 74.5,51.5 75.5,52.5 75.8,53.5 75.8,54.5 74.3,60.5 73.4,62.0 72.0,63.5 64.5,68.3 57.0,74.1 54.5,75.6 52.5,76.4 50.5,76.8 44.0,77.0 40.0,77.5Z" fill="#c3c3c3" fill-rule="evenodd"/><path d="M39.5,76.1 37.5,76.2 35.5,75.9 34.0,75.1 32.9,74.0 32.0,72.0 31.4,68.0 28.7,64.0 26.9,58.5 25.0,56.0 18.7,50.5 16.4,48.0 15.4,45.5 15.4,44.0 15.8,42.5 17.0,40.5 19.5,38.8 22.0,38.0 28.5,36.8 31.5,36.6 38.5,37.4 42.5,36.9 52.5,34.9 55.0,35.0 57.5,35.7 60.3,37.5 63.5,41.0 65.8,44.0 68.8,49.5 72.5,53.5 72.9,54.5 73.0,56.0 72.2,60.0 71.0,61.8 69.2,63.5 57.0,72.5 54.5,74.0 52.5,74.9 50.5,75.3 43.5,75.4 39.5,76.1Z" fill="#b9b9b9" fill-rule="evenodd"/><path d="M39.5,74.6 36.5,74.6 35.2,74.0 34.2,73.0 33.6,71.5 33.1,67.0 30.6,63.0 28.7,57.5 27.1,55.5 21.0,51.1 17.8,48.0 16.6,45.5 16.6,44.0 17.1,42.5 18.2,41.0 19.6,40.0 21.5,39.3 24.0,38.8 29.0,38.6 34.5,39.6 37.0,39.8 40.5,39.5 51.5,37.4 54.5,37.5 57.0,38.3 60.0,40.3 63.5,44.0 69.4,53.5 70.1,55.0 70.3,56.5 70.0,58.5 69.5,60.0 68.1,62.0 65.4,64.5 58.0,70.2 54.0,72.7 50.5,73.8 43.5,73.9 39.5,74.6Z" fill="#afafaf" fill-rule="evenodd"/><path d="M42.5,72.5 38.0,73.0 37.0,72.7 36.0,72.0 35.4,70.5 35.3,66.5 33.4,62.0 32.8,57.5 32.0,55.0 31.3,54.0 30.0,53.2 25.5,52.0 23.0,50.9 19.5,48.2 18.3,46.5 18.0,44.5 18.5,42.8 19.7,41.5 21.0,40.8 23.0,40.3 27.0,40.4 29.5,41.3 33.5,44.2 35.5,44.8 37.5,44.5 42.6,42.5 46.5,41.4 50.0,40.9 53.0,40.9 56.0,41.7 58.5,42.9 61.0,44.9 63.0,47.1 65.9,52.0 67.2,55.5 67.3,57.5 67.0,59.0 65.4,62.0 63.6,64.0 60.1,67.0 57.0,69.3 54.0,71.0 50.0,72.3 42.5,72.5Z" fill="#a6a6a6" fill-rule="evenodd"/><path d="M26.5,49.2 25.0,49.4 23.5,49.1 20.9,47.5 20.0,46.1 19.8,45.0 20.0,44.0 20.7,43.0 22.0,42.2 24.0,41.9 26.0,42.4 27.5,43.5 28.3,45.0 28.5,46.6 28.0,48.0 26.5,49.2ZM49.5,70.6 41.5,70.9 38.9,70.5 38.3,70.0 37.9,69.0 37.0,63.0 37.0,61.0 38.4,53.0 39.3,51.0 41.0,48.8 43.5,46.8 46.5,45.4 50.0,44.7 53.0,44.7 55.5,45.3 57.5,46.2 59.5,47.6 61.0,49.1 62.5,51.1 63.7,53.5 64.3,56.0 64.3,58.0 63.8,60.0 63.1,61.5 61.6,63.5 59.5,65.5 57.0,67.4 54.5,68.9 52.0,69.9 49.5,70.6Z" fill="#9e9e9e" fill-rule="evenodd"/><path d="M48.5,68.6 45.5,68.9 43.0,68.8 41.5,68.3 40.8,67.5 40.2,65.5 40.3,63.5 42.1,55.5 42.9,53.5 43.9,52.0 45.3,50.5 46.8,49.5 48.5,48.7 50.5,48.3 52.5,48.3 54.5,48.7 57.5,50.2 59.0,51.5 60.1,53.0 61.2,56.0 61.3,58.0 61.0,59.5 59.4,62.5 56.5,65.3 53.0,67.2 48.5,68.6Z" fill="#969696" fill-rule="evenodd"/><path d="M51.0,64.6 48.0,64.9 46.5,64.5 46.0,64.0 45.5,62.1 45.7,58.5 46.5,55.7 48.0,53.7 50.5,52.4 53.0,52.3 55.0,53.0 56.7,54.5 57.6,56.5 57.7,58.5 57.0,60.5 55.5,62.3 53.5,63.6 51.0,64.6Z" fill="#8e8e8e" fill-rule="evenodd"/><g id="ct" fill="none" stroke="#1c1c1c" stroke-width="1.15"><path d="M25.80,36.90 C26.37,36.73 26.07,35.72 26.30,35.00 C26.53,34.28 26.65,33.18 27.20,32.60 C27.75,32.02 28.72,31.58 29.60,31.50 C30.48,31.42 31.70,31.75 32.50,32.10 C33.30,32.45 33.75,33.10 34.40,33.60 C35.05,34.10 35.12,34.95 36.40,35.10 C37.68,35.25 40.18,34.83 42.10,34.50 C44.02,34.17 46.00,33.60 47.90,33.10 C49.80,32.60 51.68,31.67 53.50,31.50 C55.32,31.33 57.33,31.58 58.80,32.10 C60.27,32.62 61.25,33.47 62.30,34.60 C63.35,35.73 64.12,37.67 65.10,38.90 C66.08,40.13 67.38,41.02 68.20,42.00 C69.02,42.98 69.85,43.88 70.00,44.80 C70.15,45.72 69.17,46.68 69.10,47.50 C69.03,48.32 69.07,49.22 69.60,49.70 C70.13,50.18 71.25,50.55 72.30,50.40 C73.35,50.25 74.85,49.28 75.90,48.80 C76.95,48.32 77.70,47.65 78.60,47.50 C79.50,47.35 80.62,47.38 81.30,47.90 C81.98,48.42 82.62,49.62 82.70,50.60 C82.78,51.58 82.48,52.97 81.80,53.80 C81.12,54.63 79.65,55.07 78.60,55.60 C77.55,56.13 76.17,56.47 75.50,57.00 C74.83,57.53 74.23,58.35 74.60,58.80 C74.97,59.25 76.95,59.25 77.70,59.70 C78.45,60.15 79.17,60.83 79.10,61.50 C79.03,62.17 78.13,63.10 77.30,63.70 C76.47,64.30 75.53,64.63 74.10,65.10 C72.67,65.57 70.35,65.90 68.70,66.50 C67.05,67.10 65.72,67.65 64.20,68.70 C62.68,69.75 60.97,71.60 59.60,72.80 C58.23,74.00 57.20,75.15 56.00,75.90 C54.80,76.65 53.52,77.27 52.40,77.30 C51.28,77.33 50.63,76.55 49.30,76.10 C47.97,75.65 45.77,75.00 44.40,74.60 C43.03,74.20 41.97,73.37 41.10,73.70 C40.23,74.03 39.92,75.80 39.20,76.60 C38.48,77.40 37.85,78.58 36.80,78.50 C35.75,78.42 33.95,77.22 32.90,76.10 C31.85,74.97 30.82,72.88 30.50,71.75 C30.18,70.62 30.28,69.89 31.00,69.30 C31.72,68.71 33.52,68.32 34.80,68.20 C36.08,68.08 38.05,68.73 38.70,68.60 C39.35,68.47 39.18,67.83 38.70,67.40 C38.22,66.97 37.25,66.23 35.80,66.00 C34.35,65.77 31.77,65.85 30.00,66.00 C28.23,66.15 26.40,66.42 25.20,66.90 C24.00,67.38 23.20,68.82 22.80,68.90 C22.40,68.98 22.40,68.20 22.80,67.40 C23.20,66.60 24.72,65.22 25.20,64.10 C25.68,62.98 25.78,61.83 25.70,60.70 C25.62,59.57 25.50,58.10 24.70,57.30 C23.90,56.50 21.70,56.62 20.90,55.90 C20.10,55.18 20.20,53.68 19.90,53.00 C19.60,52.32 19.72,52.23 19.10,51.80 C18.48,51.37 17.25,51.03 16.20,50.40 C15.15,49.77 13.48,48.97 12.80,48.00 C12.12,47.03 12.10,45.72 12.10,44.60 C12.10,43.48 12.28,42.42 12.80,41.30 C13.32,40.18 14.15,38.78 15.20,37.90 C16.25,37.02 17.82,36.32 19.10,36.00 C20.38,35.68 21.78,35.85 22.90,36.00 C24.02,36.15 25.23,37.07 25.80,36.90Z"/><path d="M55.50,10.80 C54.78,10.63 53.03,10.55 52.00,11.00 C50.97,11.45 50.20,12.38 49.30,13.50 C48.40,14.62 47.12,16.62 46.60,17.70 C46.08,18.78 45.88,19.30 46.20,20.00 C46.52,20.70 47.53,21.65 48.50,21.90 C49.47,22.15 50.90,21.82 52.00,21.50 C53.10,21.18 54.40,20.70 55.10,20.00 C55.80,19.30 55.95,18.27 56.20,17.30 C56.45,16.33 56.58,15.08 56.60,14.20 C56.62,13.32 56.48,12.57 56.30,12.00 C56.12,11.43 56.22,10.97 55.50,10.80Z"/><path d="M56.20,10.00 C56.47,9.40 57.48,8.32 58.20,7.90 C58.92,7.48 59.62,7.40 60.50,7.50 C61.38,7.60 62.72,8.02 63.50,8.50 C64.28,8.98 65.07,9.80 65.20,10.40 C65.33,11.00 64.97,11.65 64.30,12.10 C63.63,12.55 62.22,13.00 61.20,13.10 C60.18,13.20 58.97,12.97 58.20,12.70 C57.43,12.43 56.93,11.95 56.60,11.50 C56.27,11.05 55.93,10.60 56.20,10.00Z"/><ellipse cx="24.6" cy="75.8" rx="3.9" ry="1.9" transform="rotate(45 24.6 75.8)"/><ellipse cx="42.6" cy="89.1" rx="3.6" ry="2.1" transform="rotate(35 42.6 89.1)"/><ellipse cx="65.5" cy="82.3" rx="4.9" ry="2.1" transform="rotate(-42 65.5 82.3)"/><ellipse cx="70.9" cy="73.4" rx="2.2" ry="2.5" transform="rotate(0 70.9 73.4)"/><ellipse cx="73.8" cy="44.2" rx="2.9" ry="2.6" transform="rotate(0 73.8 44.2)"/><ellipse cx="85.4" cy="47.3" rx="1.9" ry="1.9" transform="rotate(0 85.4 47.3)"/><ellipse cx="87.6" cy="38.8" rx="3.3" ry="4.0" transform="rotate(-30 87.6 38.8)"/><ellipse cx="72.6" cy="35.3" rx="7.0" ry="3.3" transform="rotate(38 72.6 35.3)"/><ellipse cx="39.9" cy="20.0" rx="4.9" ry="2.4" transform="rotate(-38 39.9 20.0)"/><ellipse cx="63.6" cy="23.2" rx="5.3" ry="2.4" transform="rotate(-60 63.6 23.2)"/><ellipse cx="75.8" cy="22.1" rx="4.4" ry="5.4" transform="rotate(-12 75.8 22.1)"/></g><circle cx="58.5" cy="36.5" r="1.25" fill="#1e1e1e"/><circle cx="44" cy="25.8" r="0.62" fill="#444"/><circle cx="55.1" cy="25.8" r="0.62" fill="#444"/></g></g><rect x="0" y="0" width="98.0" height="98.1" fill="none" stroke="#222" stroke-width="1.1"/><line x1="-3" x2="0" y1="4.95" y2="4.95" stroke="#222" stroke-width="0.9"/><text transform="translate(-5.90 7.35) scale(0.850 1)" text-anchor="end" font-size="6.70" fill="#2a2a2a">15</text><line x1="-3" x2="0" y1="19.80" y2="19.80" stroke="#222" stroke-width="0.9"/><text transform="translate(-5.90 22.20) scale(0.850 1)" text-anchor="end" font-size="6.70" fill="#2a2a2a">10</text><line x1="-3" x2="0" y1="34.65" y2="34.65" stroke="#222" stroke-width="0.9"/><text transform="translate(-5.90 37.05) scale(0.850 1)" text-anchor="end" font-size="6.70" fill="#2a2a2a">5</text><line x1="-3" x2="0" y1="49.50" y2="49.50" stroke="#222" stroke-width="0.9"/><text transform="translate(-5.90 51.90) scale(0.850 1)" text-anchor="end" font-size="6.70" fill="#2a2a2a">0</text><line x1="-3" x2="0" y1="64.35" y2="64.35" stroke="#222" stroke-width="0.9"/><text transform="translate(-5.90 66.75) scale(0.850 1)" text-anchor="end" font-size="6.70" fill="#2a2a2a">−5</text><line x1="-3" x2="0" y1="79.20" y2="79.20" stroke="#222" stroke-width="0.9"/><text transform="translate(-5.90 81.60) scale(0.850 1)" text-anchor="end" font-size="6.70" fill="#2a2a2a">−10</text><line x1="-3" x2="0" y1="94.05" y2="94.05" stroke="#222" stroke-width="0.9"/><text transform="translate(-5.90 96.45) scale(0.850 1)" text-anchor="end" font-size="6.70" fill="#2a2a2a">−15</text><line x1="25.15" x2="25.15" y1="98.1" y2="101.1" stroke="#222" stroke-width="0.9"/><text transform="translate(25.15 110.60) scale(0.850 1)" text-anchor="middle" font-size="6.70" fill="#2a2a2a">−10</text><line x1="50.60" x2="50.60" y1="98.1" y2="101.1" stroke="#222" stroke-width="0.9"/><text transform="translate(50.60 110.60) scale(0.850 1)" text-anchor="middle" font-size="6.70" fill="#2a2a2a">0</text><line x1="76.05" x2="76.05" y1="98.1" y2="101.1" stroke="#222" stroke-width="0.9"/><text transform="translate(76.05 110.60) scale(0.850 1)" text-anchor="middle" font-size="6.70" fill="#2a2a2a">10</text><text x="9.9" y="13.3" font-size="8.25" font-weight="bold" fill="#a8a8a8">Neg</text></g><g transform="translate(172.60 122.30)"><g clip-path="url(#pc)"><g transform="translate(0.90 0.60)"><path d="M52.5,86.5 44.0,87.0 35.5,86.3 32.5,85.6 29.5,84.5 27.5,83.4 26.0,82.0 25.3,81.0 24.9,79.5 25.8,74.5 25.5,72.0 22.2,67.0 20.5,61.8 19.5,59.8 17.3,57.0 12.1,51.5 10.5,49.0 9.7,47.0 9.4,45.0 9.6,42.5 10.1,40.5 11.1,38.5 12.2,37.0 15.5,34.3 18.0,33.1 27.5,29.7 31.5,29.2 38.0,30.1 41.5,30.2 59.5,26.9 61.5,25.9 63.5,24.3 65.0,22.6 68.1,18.0 71.0,15.4 73.0,14.4 75.0,14.0 77.0,14.0 79.0,14.4 81.5,15.8 83.2,17.5 84.4,19.5 85.0,22.0 84.9,25.5 83.1,31.5 82.3,37.5 79.8,42.5 80.2,43.5 83.3,47.0 84.3,49.0 84.7,52.0 84.1,55.0 80.7,63.5 79.5,65.5 76.5,68.3 69.7,72.0 67.4,74.0 66.1,76.0 65.1,80.5 64.0,82.1 62.2,83.5 59.5,84.8 56.5,85.8 52.5,86.5Z" fill="#e6e4f1" fill-rule="evenodd"/><path d="M73.5,31.5 72.5,31.5 71.6,31.0 70.7,29.5 70.2,26.5 70.5,23.5 71.5,21.1 73.0,19.5 75.0,18.6 77.0,18.6 78.8,19.5 80.1,21.0 80.6,23.0 80.3,25.0 79.4,27.0 77.5,29.2 75.5,30.7 73.5,31.5ZM51.0,80.5 37.5,80.0 35.0,79.1 33.2,77.5 31.9,75.0 30.0,69.0 26.0,64.5 24.0,59.8 22.6,57.5 15.9,50.0 14.2,47.5 13.6,45.5 13.7,43.0 14.8,40.5 16.5,38.6 20.0,36.7 30.0,33.5 32.0,33.4 37.0,34.2 40.0,34.3 43.0,33.9 52.5,32.2 55.5,32.1 58.0,32.3 61.5,33.4 64.5,35.2 67.5,38.6 72.0,46.1 74.0,47.4 78.0,48.7 79.5,49.9 80.2,51.5 80.2,53.5 78.6,58.0 77.5,62.0 75.9,64.5 73.5,66.5 65.7,71.0 57.0,78.5 54.5,79.8 51.0,80.5Z" fill="#c1bedc" fill-rule="evenodd"/><path d="M53.0,77.5 50.0,77.6 43.0,76.1 38.0,76.0 36.5,75.5 35.5,74.7 34.2,72.5 33.4,69.0 32.7,67.5 28.5,63.1 25.0,56.5 18.6,49.0 17.3,47.0 16.8,45.5 16.8,44.0 17.3,42.5 18.5,40.9 21.5,39.1 30.0,36.5 32.0,36.4 39.5,36.8 52.0,34.7 54.5,34.6 57.0,34.8 60.0,35.8 63.0,37.8 67.0,42.0 71.0,48.2 72.5,49.3 75.0,50.5 76.4,51.5 77.1,53.0 77.1,54.5 75.6,61.0 74.2,63.5 72.0,65.3 64.5,70.0 57.5,75.6 55.5,76.8 53.0,77.5Z" fill="#aaa6cf" fill-rule="evenodd"/><path d="M54.5,75.5 52.0,76.0 49.5,75.7 44.0,74.1 39.5,73.3 37.5,72.1 36.9,71.0 35.3,66.5 30.7,61.5 27.5,55.4 22.1,48.0 21.4,45.5 21.8,44.0 22.5,43.1 25.2,41.5 29.5,40.2 39.5,39.5 49.5,37.5 53.5,37.0 56.5,37.2 59.0,37.9 61.5,39.3 64.5,41.9 66.5,44.2 69.6,49.0 73.5,52.5 74.2,53.5 74.5,56.0 73.8,60.5 72.8,62.5 71.0,64.2 64.5,68.6 58.0,73.7 54.5,75.5Z" fill="#9792c4" fill-rule="evenodd"/><path d="M52.5,74.5 50.0,74.3 47.0,73.5 41.8,71.5 39.8,70.0 37.5,65.6 34.4,61.5 33.3,59.5 31.1,52.5 30.7,49.0 31.2,47.5 32.1,46.5 34.0,45.3 37.0,44.0 48.0,40.5 51.5,39.8 55.0,39.7 57.5,40.1 60.0,41.0 62.5,42.6 64.5,44.4 68.4,50.0 71.7,54.0 72.3,55.5 72.3,58.0 72.0,60.0 71.4,61.5 69.1,64.0 57.5,72.6 55.0,73.9 52.5,74.5Z" fill="#857fba" fill-rule="evenodd"/><path d="M53.0,73.1 50.5,73.0 47.5,72.1 44.1,70.5 42.0,68.9 40.7,67.0 37.2,60.5 36.5,57.5 36.5,54.5 37.0,52.0 38.0,49.9 39.6,48.0 42.3,46.0 45.5,44.3 49.0,43.1 52.5,42.5 55.5,42.5 58.0,43.0 60.0,43.7 62.0,44.8 64.0,46.6 69.3,54.0 70.1,56.0 70.2,58.5 69.9,60.0 69.2,61.5 66.4,64.5 57.5,71.3 55.0,72.6 53.0,73.1Z" fill="#756eb1" fill-rule="evenodd"/><path d="M53.0,71.5 50.5,71.4 48.0,70.5 45.4,69.0 43.8,67.5 42.1,65.0 40.5,61.5 39.9,59.0 39.9,56.5 40.4,54.0 41.2,52.0 42.7,50.0 44.5,48.4 47.0,46.8 50.0,45.7 53.0,45.1 55.5,45.1 58.0,45.6 60.0,46.4 62.0,47.6 63.5,49.0 65.5,51.6 67.2,54.5 67.8,56.5 67.9,58.5 67.7,60.0 67.0,61.5 66.0,63.0 63.9,65.0 57.5,69.9 55.0,71.1 53.0,71.5Z" fill="#665ea8" fill-rule="evenodd"/><path d="M54.5,69.5 52.5,69.7 50.5,69.3 48.5,68.5 46.5,67.0 45.0,65.3 43.7,63.0 43.1,61.0 42.7,58.5 42.9,56.5 43.5,54.5 44.6,52.5 45.9,51.0 47.5,49.8 49.5,48.7 51.5,48.0 54.0,47.7 56.0,47.8 58.0,48.3 60.0,49.2 61.8,50.5 63.2,52.0 64.4,54.0 65.2,56.0 65.5,58.0 65.0,61.0 62.9,64.0 58.5,67.7 56.5,68.8 54.5,69.5Z" fill="#574fa0" fill-rule="evenodd"/><path d="M55.5,67.1 52.5,67.3 51.0,66.9 49.3,66.0 47.0,63.5 46.2,62.0 45.7,60.0 45.8,57.0 47.2,54.0 49.5,51.9 51.2,51.0 53.0,50.5 56.5,50.6 59.5,52.0 61.8,54.5 62.9,57.5 62.7,60.5 61.3,63.0 58.7,65.5 55.5,67.1Z" fill="#494098" fill-rule="evenodd"/><path d="M56.0,64.0 54.0,64.3 52.0,63.8 50.3,62.5 49.2,60.5 49.1,58.5 49.7,56.5 51.0,54.9 53.0,53.9 55.0,53.7 57.0,54.3 58.5,55.5 59.6,57.5 59.7,59.5 59.0,61.5 57.7,63.0 56.0,64.0Z" fill="#3c3290" fill-rule="evenodd"/><g id="ct" fill="none" stroke="#1c1c1c" stroke-width="1.15"><path d="M25.80,36.90 C26.37,36.73 26.07,35.72 26.30,35.00 C26.53,34.28 26.65,33.18 27.20,32.60 C27.75,32.02 28.72,31.58 29.60,31.50 C30.48,31.42 31.70,31.75 32.50,32.10 C33.30,32.45 33.75,33.10 34.40,33.60 C35.05,34.10 35.12,34.95 36.40,35.10 C37.68,35.25 40.18,34.83 42.10,34.50 C44.02,34.17 46.00,33.60 47.90,33.10 C49.80,32.60 51.68,31.67 53.50,31.50 C55.32,31.33 57.33,31.58 58.80,32.10 C60.27,32.62 61.25,33.47 62.30,34.60 C63.35,35.73 64.12,37.67 65.10,38.90 C66.08,40.13 67.38,41.02 68.20,42.00 C69.02,42.98 69.85,43.88 70.00,44.80 C70.15,45.72 69.17,46.68 69.10,47.50 C69.03,48.32 69.07,49.22 69.60,49.70 C70.13,50.18 71.25,50.55 72.30,50.40 C73.35,50.25 74.85,49.28 75.90,48.80 C76.95,48.32 77.70,47.65 78.60,47.50 C79.50,47.35 80.62,47.38 81.30,47.90 C81.98,48.42 82.62,49.62 82.70,50.60 C82.78,51.58 82.48,52.97 81.80,53.80 C81.12,54.63 79.65,55.07 78.60,55.60 C77.55,56.13 76.17,56.47 75.50,57.00 C74.83,57.53 74.23,58.35 74.60,58.80 C74.97,59.25 76.95,59.25 77.70,59.70 C78.45,60.15 79.17,60.83 79.10,61.50 C79.03,62.17 78.13,63.10 77.30,63.70 C76.47,64.30 75.53,64.63 74.10,65.10 C72.67,65.57 70.35,65.90 68.70,66.50 C67.05,67.10 65.72,67.65 64.20,68.70 C62.68,69.75 60.97,71.60 59.60,72.80 C58.23,74.00 57.20,75.15 56.00,75.90 C54.80,76.65 53.52,77.27 52.40,77.30 C51.28,77.33 50.63,76.55 49.30,76.10 C47.97,75.65 45.77,75.00 44.40,74.60 C43.03,74.20 41.97,73.37 41.10,73.70 C40.23,74.03 39.92,75.80 39.20,76.60 C38.48,77.40 37.85,78.58 36.80,78.50 C35.75,78.42 33.95,77.22 32.90,76.10 C31.85,74.97 30.82,72.88 30.50,71.75 C30.18,70.62 30.28,69.89 31.00,69.30 C31.72,68.71 33.52,68.32 34.80,68.20 C36.08,68.08 38.05,68.73 38.70,68.60 C39.35,68.47 39.18,67.83 38.70,67.40 C38.22,66.97 37.25,66.23 35.80,66.00 C34.35,65.77 31.77,65.85 30.00,66.00 C28.23,66.15 26.40,66.42 25.20,66.90 C24.00,67.38 23.20,68.82 22.80,68.90 C22.40,68.98 22.40,68.20 22.80,67.40 C23.20,66.60 24.72,65.22 25.20,64.10 C25.68,62.98 25.78,61.83 25.70,60.70 C25.62,59.57 25.50,58.10 24.70,57.30 C23.90,56.50 21.70,56.62 20.90,55.90 C20.10,55.18 20.20,53.68 19.90,53.00 C19.60,52.32 19.72,52.23 19.10,51.80 C18.48,51.37 17.25,51.03 16.20,50.40 C15.15,49.77 13.48,48.97 12.80,48.00 C12.12,47.03 12.10,45.72 12.10,44.60 C12.10,43.48 12.28,42.42 12.80,41.30 C13.32,40.18 14.15,38.78 15.20,37.90 C16.25,37.02 17.82,36.32 19.10,36.00 C20.38,35.68 21.78,35.85 22.90,36.00 C24.02,36.15 25.23,37.07 25.80,36.90Z"/><path d="M55.50,10.80 C54.78,10.63 53.03,10.55 52.00,11.00 C50.97,11.45 50.20,12.38 49.30,13.50 C48.40,14.62 47.12,16.62 46.60,17.70 C46.08,18.78 45.88,19.30 46.20,20.00 C46.52,20.70 47.53,21.65 48.50,21.90 C49.47,22.15 50.90,21.82 52.00,21.50 C53.10,21.18 54.40,20.70 55.10,20.00 C55.80,19.30 55.95,18.27 56.20,17.30 C56.45,16.33 56.58,15.08 56.60,14.20 C56.62,13.32 56.48,12.57 56.30,12.00 C56.12,11.43 56.22,10.97 55.50,10.80Z"/><path d="M56.20,10.00 C56.47,9.40 57.48,8.32 58.20,7.90 C58.92,7.48 59.62,7.40 60.50,7.50 C61.38,7.60 62.72,8.02 63.50,8.50 C64.28,8.98 65.07,9.80 65.20,10.40 C65.33,11.00 64.97,11.65 64.30,12.10 C63.63,12.55 62.22,13.00 61.20,13.10 C60.18,13.20 58.97,12.97 58.20,12.70 C57.43,12.43 56.93,11.95 56.60,11.50 C56.27,11.05 55.93,10.60 56.20,10.00Z"/><ellipse cx="24.6" cy="75.8" rx="3.9" ry="1.9" transform="rotate(45 24.6 75.8)"/><ellipse cx="42.6" cy="89.1" rx="3.6" ry="2.1" transform="rotate(35 42.6 89.1)"/><ellipse cx="65.5" cy="82.3" rx="4.9" ry="2.1" transform="rotate(-42 65.5 82.3)"/><ellipse cx="70.9" cy="73.4" rx="2.2" ry="2.5" transform="rotate(0 70.9 73.4)"/><ellipse cx="73.8" cy="44.2" rx="2.9" ry="2.6" transform="rotate(0 73.8 44.2)"/><ellipse cx="85.4" cy="47.3" rx="1.9" ry="1.9" transform="rotate(0 85.4 47.3)"/><ellipse cx="87.6" cy="38.8" rx="3.3" ry="4.0" transform="rotate(-30 87.6 38.8)"/><ellipse cx="72.6" cy="35.3" rx="7.0" ry="3.3" transform="rotate(38 72.6 35.3)"/><ellipse cx="39.9" cy="20.0" rx="4.9" ry="2.4" transform="rotate(-38 39.9 20.0)"/><ellipse cx="63.6" cy="23.2" rx="5.3" ry="2.4" transform="rotate(-60 63.6 23.2)"/><ellipse cx="75.8" cy="22.1" rx="4.4" ry="5.4" transform="rotate(-12 75.8 22.1)"/></g><circle cx="58.5" cy="36.5" r="1.25" fill="#1e1e1e"/><circle cx="44" cy="25.8" r="0.62" fill="#444"/><circle cx="55.1" cy="25.8" r="0.62" fill="#444"/></g></g><rect x="0" y="0" width="98.0" height="98.1" fill="none" stroke="#222" stroke-width="1.1"/><line x1="-3" x2="0" y1="4.95" y2="4.95" stroke="#222" stroke-width="0.9"/><text transform="translate(-5.90 7.35) scale(0.850 1)" text-anchor="end" font-size="6.70" fill="#2a2a2a">15</text><line x1="-3" x2="0" y1="19.80" y2="19.80" stroke="#222" stroke-width="0.9"/><text transform="translate(-5.90 22.20) scale(0.850 1)" text-anchor="end" font-size="6.70" fill="#2a2a2a">10</text><line x1="-3" x2="0" y1="34.65" y2="34.65" stroke="#222" stroke-width="0.9"/><text transform="translate(-5.90 37.05) scale(0.850 1)" text-anchor="end" font-size="6.70" fill="#2a2a2a">5</text><line x1="-3" x2="0" y1="49.50" y2="49.50" stroke="#222" stroke-width="0.9"/><text transform="translate(-5.90 51.90) scale(0.850 1)" text-anchor="end" font-size="6.70" fill="#2a2a2a">0</text><line x1="-3" x2="0" y1="64.35" y2="64.35" stroke="#222" stroke-width="0.9"/><text transform="translate(-5.90 66.75) scale(0.850 1)" text-anchor="end" font-size="6.70" fill="#2a2a2a">−5</text><line x1="-3" x2="0" y1="79.20" y2="79.20" stroke="#222" stroke-width="0.9"/><text transform="translate(-5.90 81.60) scale(0.850 1)" text-anchor="end" font-size="6.70" fill="#2a2a2a">−10</text><line x1="-3" x2="0" y1="94.05" y2="94.05" stroke="#222" stroke-width="0.9"/><text transform="translate(-5.90 96.45) scale(0.850 1)" text-anchor="end" font-size="6.70" fill="#2a2a2a">−15</text><line x1="25.15" x2="25.15" y1="98.1" y2="101.1" stroke="#222" stroke-width="0.9"/><text transform="translate(25.15 110.60) scale(0.850 1)" text-anchor="middle" font-size="6.70" fill="#2a2a2a">−10</text><line x1="50.60" x2="50.60" y1="98.1" y2="101.1" stroke="#222" stroke-width="0.9"/><text transform="translate(50.60 110.60) scale(0.850 1)" text-anchor="middle" font-size="6.70" fill="#2a2a2a">0</text><line x1="76.05" x2="76.05" y1="98.1" y2="101.1" stroke="#222" stroke-width="0.9"/><text transform="translate(76.05 110.60) scale(0.850 1)" text-anchor="middle" font-size="6.70" fill="#2a2a2a">10</text><text x="4.3" y="13.3" font-size="8.25" font-weight="bold" fill="#3f3593">GM–L</text></g><g transform="translate(293.70 122.30)"><g clip-path="url(#pc)"><g transform="translate(0.90 0.60)"><path d="M58.0,19.1 55.0,19.4 52.0,19.1 49.0,18.0 46.8,16.5 45.3,14.5 44.7,12.0 45.1,10.0 46.5,7.8 48.0,6.6 50.0,5.6 52.5,4.8 55.0,4.6 57.5,4.8 60.0,5.6 62.0,6.6 63.5,7.8 64.8,9.5 65.5,11.5 65.8,14.0 65.4,15.5 64.4,16.5 62.6,17.5 58.0,19.1ZM78.0,32.5 74.5,32.7 71.5,31.9 69.0,30.3 67.3,28.0 66.1,24.0 66.1,19.0 66.7,16.5 68.7,15.0 71.5,13.8 73.5,13.3 76.0,13.2 78.0,13.4 80.0,14.1 82.0,15.3 83.5,16.8 84.6,18.5 85.4,20.5 85.7,22.5 85.6,24.5 84.9,27.0 83.7,29.0 82.0,30.7 80.0,31.9 78.0,32.5ZM51.0,87.1 43.5,87.4 36.0,86.6 33.0,85.7 30.5,84.7 28.7,83.5 27.2,82.0 26.2,79.5 26.1,74.5 25.7,72.5 25.0,71.3 21.9,67.5 19.5,60.5 17.0,57.2 11.5,51.5 10.1,49.5 9.3,47.5 8.9,44.0 9.6,40.5 11.2,37.5 14.0,34.7 17.5,32.8 27.0,29.4 29.5,28.9 32.5,28.9 38.0,29.9 40.5,30.0 51.5,28.2 54.5,28.0 57.0,28.3 61.5,29.7 65.5,32.3 68.3,35.5 73.0,42.0 74.5,43.4 75.8,44.0 80.5,45.3 82.0,46.1 83.5,47.6 84.3,49.0 84.7,50.5 84.6,53.5 80.9,63.0 79.5,65.5 76.5,68.2 69.2,72.0 66.7,74.0 65.0,76.5 63.4,81.0 61.2,83.5 57.0,85.6 51.0,87.1Z" fill="#eef5f7" fill-rule="evenodd"/><path d="M77.5,28.5 75.0,28.6 73.0,27.9 71.5,26.5 70.5,24.5 70.3,22.0 71.1,20.0 72.5,18.4 74.5,17.4 77.0,17.4 79.0,18.1 80.5,19.5 81.5,21.5 81.6,24.0 80.9,26.0 79.5,27.5 77.5,28.5ZM48.0,81.0 40.5,80.8 37.5,80.4 35.0,79.4 33.0,77.5 31.6,75.0 29.9,69.5 29.0,68.3 26.5,66.3 25.5,65.2 23.5,60.2 22.5,58.5 19.9,55.5 14.5,50.4 12.6,47.5 12.0,45.0 12.4,42.0 13.9,39.0 16.0,37.0 19.5,35.4 29.5,32.7 32.0,32.6 37.0,33.6 40.0,33.8 52.0,31.9 56.5,32.1 60.0,33.3 63.5,35.8 67.8,40.5 71.2,45.5 72.5,46.8 74.0,47.6 78.0,48.7 79.7,50.0 80.4,51.5 80.3,53.5 78.6,58.0 77.5,62.0 75.9,64.5 73.5,66.3 65.1,71.0 57.5,77.5 55.0,79.2 52.0,80.4 48.0,81.0Z" fill="#e2edf1" fill-rule="evenodd"/><path d="M77.0,25.2 76.0,25.4 75.0,25.2 73.8,24.0 73.6,23.0 73.8,22.0 75.0,20.8 76.0,20.6 77.0,20.8 78.2,22.0 78.4,23.0 78.2,24.0 77.0,25.2ZM53.5,76.5 50.0,76.8 43.0,75.5 38.0,75.7 36.5,75.3 35.5,74.6 34.2,72.5 33.4,69.0 32.7,67.5 28.0,63.8 27.0,62.3 25.2,58.5 24.2,57.0 16.5,50.0 14.5,47.5 13.8,45.5 13.9,43.0 14.6,41.0 16.0,39.2 18.0,37.8 20.0,37.0 29.0,35.3 31.5,35.2 36.5,36.1 39.5,36.2 51.5,34.5 56.0,34.6 59.0,35.6 62.0,37.6 66.5,42.1 71.0,48.3 76.5,51.5 77.2,53.0 77.1,54.5 75.6,61.0 74.1,63.5 72.0,65.2 64.0,70.0 57.5,74.6 55.5,75.8 53.5,76.5Z" fill="#d6e5eb" fill-rule="evenodd"/><path d="M53.0,74.6 51.0,74.7 49.0,74.3 40.3,72.0 38.5,71.0 36.0,66.4 34.5,64.9 30.4,62.0 26.3,56.0 18.5,50.0 16.2,47.5 15.5,46.0 15.2,44.0 15.7,42.0 17.0,40.2 19.5,38.6 23.5,37.9 29.0,37.7 35.0,39.0 38.0,39.2 41.5,38.9 50.0,37.4 54.0,37.3 56.5,37.7 59.0,38.6 61.5,40.1 64.5,42.6 66.5,44.9 69.5,49.1 73.5,52.4 74.3,53.5 74.6,56.0 73.8,60.5 72.8,62.5 70.5,64.5 57.5,72.9 55.0,74.1 53.0,74.6Z" fill="#c9dee5" fill-rule="evenodd"/><path d="M54.5,72.5 52.0,72.8 49.0,72.3 44.3,70.5 41.8,69.0 34.2,60.0 31.5,54.5 30.7,53.5 29.5,52.8 25.5,51.9 23.0,51.0 20.0,49.3 18.0,47.5 17.1,46.0 16.7,44.5 17.0,43.0 17.8,41.5 19.5,40.2 21.5,39.5 24.0,39.4 26.5,39.8 29.2,41.0 33.0,45.1 34.5,45.9 36.5,45.5 42.0,43.2 45.5,42.0 49.0,41.2 52.0,40.9 55.0,40.9 58.0,41.5 61.0,42.7 63.5,44.4 65.5,46.3 68.3,50.0 71.9,54.0 72.5,56.5 72.1,60.0 70.7,62.5 68.3,64.5 59.0,70.5 54.5,72.5Z" fill="#bdd6df" fill-rule="evenodd"/><path d="M24.0,48.5 21.5,48.0 20.0,47.0 19.2,46.0 18.8,45.0 18.7,44.0 19.1,43.0 20.0,42.0 22.0,41.3 24.0,41.5 25.5,42.3 26.6,43.5 27.0,45.5 26.5,47.0 25.5,48.0 24.0,48.5ZM55.5,70.6 53.0,71.0 50.5,70.7 47.5,69.6 44.9,68.0 42.7,66.0 40.6,63.0 39.3,60.5 38.6,58.0 38.5,55.5 39.2,53.0 40.2,51.0 41.9,49.0 44.0,47.3 46.5,45.9 49.0,44.9 52.0,44.3 55.0,44.1 57.5,44.3 60.0,45.0 62.5,46.3 65.0,48.4 68.8,53.0 70.0,54.9 70.5,56.5 70.5,58.5 70.2,60.0 69.4,61.5 68.1,63.0 65.7,65.0 61.0,68.1 58.0,69.7 55.5,70.6Z" fill="#b0cfda" fill-rule="evenodd"/><path d="M55.5,69.0 53.5,69.1 51.0,68.7 48.5,67.6 46.5,66.2 44.9,64.5 43.5,62.5 42.7,60.5 42.2,58.0 42.5,55.5 43.2,53.5 44.5,51.5 46.0,50.0 48.0,48.6 50.0,47.7 52.5,47.0 55.0,46.7 57.5,46.9 59.5,47.4 61.5,48.2 63.5,49.6 65.5,51.6 67.3,54.0 68.2,56.0 68.5,58.0 68.3,59.5 67.7,61.0 66.6,62.5 65.0,64.0 60.0,67.3 57.5,68.5 55.5,69.0Z" fill="#a4c7d4" fill-rule="evenodd"/><path d="M57.0,67.0 53.5,67.2 50.0,65.9 47.2,63.5 46.3,62.0 45.5,60.0 45.2,58.0 45.4,56.5 46.7,53.5 48.0,52.0 49.5,50.8 53.0,49.4 57.0,49.2 59.0,49.6 61.0,50.4 62.7,51.5 64.2,53.0 65.5,55.0 66.1,56.5 66.3,58.0 66.1,59.5 65.6,61.0 64.5,62.5 61.0,65.3 57.0,67.0Z" fill="#98bfce" fill-rule="evenodd"/><path d="M57.5,65.0 54.5,65.2 52.0,64.4 50.0,62.9 48.5,60.5 48.1,58.0 48.8,55.5 50.5,53.4 53.0,51.9 56.5,51.5 59.5,52.2 62.1,54.0 63.7,56.5 63.9,59.0 62.9,61.5 60.5,63.7 57.5,65.0Z" fill="#8bb8c8" fill-rule="evenodd"/><path d="M57.5,62.6 55.5,62.7 54.0,62.3 52.5,61.3 51.6,60.0 51.3,58.5 51.6,57.0 52.5,55.6 54.0,54.6 56.0,54.2 58.0,54.5 59.7,55.5 60.8,57.0 61.1,58.5 60.5,60.4 59.0,61.9 57.5,62.6Z" fill="#7fb0c2" fill-rule="evenodd"/><g id="ct" fill="none" stroke="#1c1c1c" stroke-width="1.15"><path d="M25.80,36.90 C26.37,36.73 26.07,35.72 26.30,35.00 C26.53,34.28 26.65,33.18 27.20,32.60 C27.75,32.02 28.72,31.58 29.60,31.50 C30.48,31.42 31.70,31.75 32.50,32.10 C33.30,32.45 33.75,33.10 34.40,33.60 C35.05,34.10 35.12,34.95 36.40,35.10 C37.68,35.25 40.18,34.83 42.10,34.50 C44.02,34.17 46.00,33.60 47.90,33.10 C49.80,32.60 51.68,31.67 53.50,31.50 C55.32,31.33 57.33,31.58 58.80,32.10 C60.27,32.62 61.25,33.47 62.30,34.60 C63.35,35.73 64.12,37.67 65.10,38.90 C66.08,40.13 67.38,41.02 68.20,42.00 C69.02,42.98 69.85,43.88 70.00,44.80 C70.15,45.72 69.17,46.68 69.10,47.50 C69.03,48.32 69.07,49.22 69.60,49.70 C70.13,50.18 71.25,50.55 72.30,50.40 C73.35,50.25 74.85,49.28 75.90,48.80 C76.95,48.32 77.70,47.65 78.60,47.50 C79.50,47.35 80.62,47.38 81.30,47.90 C81.98,48.42 82.62,49.62 82.70,50.60 C82.78,51.58 82.48,52.97 81.80,53.80 C81.12,54.63 79.65,55.07 78.60,55.60 C77.55,56.13 76.17,56.47 75.50,57.00 C74.83,57.53 74.23,58.35 74.60,58.80 C74.97,59.25 76.95,59.25 77.70,59.70 C78.45,60.15 79.17,60.83 79.10,61.50 C79.03,62.17 78.13,63.10 77.30,63.70 C76.47,64.30 75.53,64.63 74.10,65.10 C72.67,65.57 70.35,65.90 68.70,66.50 C67.05,67.10 65.72,67.65 64.20,68.70 C62.68,69.75 60.97,71.60 59.60,72.80 C58.23,74.00 57.20,75.15 56.00,75.90 C54.80,76.65 53.52,77.27 52.40,77.30 C51.28,77.33 50.63,76.55 49.30,76.10 C47.97,75.65 45.77,75.00 44.40,74.60 C43.03,74.20 41.97,73.37 41.10,73.70 C40.23,74.03 39.92,75.80 39.20,76.60 C38.48,77.40 37.85,78.58 36.80,78.50 C35.75,78.42 33.95,77.22 32.90,76.10 C31.85,74.97 30.82,72.88 30.50,71.75 C30.18,70.62 30.28,69.89 31.00,69.30 C31.72,68.71 33.52,68.32 34.80,68.20 C36.08,68.08 38.05,68.73 38.70,68.60 C39.35,68.47 39.18,67.83 38.70,67.40 C38.22,66.97 37.25,66.23 35.80,66.00 C34.35,65.77 31.77,65.85 30.00,66.00 C28.23,66.15 26.40,66.42 25.20,66.90 C24.00,67.38 23.20,68.82 22.80,68.90 C22.40,68.98 22.40,68.20 22.80,67.40 C23.20,66.60 24.72,65.22 25.20,64.10 C25.68,62.98 25.78,61.83 25.70,60.70 C25.62,59.57 25.50,58.10 24.70,57.30 C23.90,56.50 21.70,56.62 20.90,55.90 C20.10,55.18 20.20,53.68 19.90,53.00 C19.60,52.32 19.72,52.23 19.10,51.80 C18.48,51.37 17.25,51.03 16.20,50.40 C15.15,49.77 13.48,48.97 12.80,48.00 C12.12,47.03 12.10,45.72 12.10,44.60 C12.10,43.48 12.28,42.42 12.80,41.30 C13.32,40.18 14.15,38.78 15.20,37.90 C16.25,37.02 17.82,36.32 19.10,36.00 C20.38,35.68 21.78,35.85 22.90,36.00 C24.02,36.15 25.23,37.07 25.80,36.90Z"/><path d="M55.50,10.80 C54.78,10.63 53.03,10.55 52.00,11.00 C50.97,11.45 50.20,12.38 49.30,13.50 C48.40,14.62 47.12,16.62 46.60,17.70 C46.08,18.78 45.88,19.30 46.20,20.00 C46.52,20.70 47.53,21.65 48.50,21.90 C49.47,22.15 50.90,21.82 52.00,21.50 C53.10,21.18 54.40,20.70 55.10,20.00 C55.80,19.30 55.95,18.27 56.20,17.30 C56.45,16.33 56.58,15.08 56.60,14.20 C56.62,13.32 56.48,12.57 56.30,12.00 C56.12,11.43 56.22,10.97 55.50,10.80Z"/><path d="M56.20,10.00 C56.47,9.40 57.48,8.32 58.20,7.90 C58.92,7.48 59.62,7.40 60.50,7.50 C61.38,7.60 62.72,8.02 63.50,8.50 C64.28,8.98 65.07,9.80 65.20,10.40 C65.33,11.00 64.97,11.65 64.30,12.10 C63.63,12.55 62.22,13.00 61.20,13.10 C60.18,13.20 58.97,12.97 58.20,12.70 C57.43,12.43 56.93,11.95 56.60,11.50 C56.27,11.05 55.93,10.60 56.20,10.00Z"/><ellipse cx="24.6" cy="75.8" rx="3.9" ry="1.9" transform="rotate(45 24.6 75.8)"/><ellipse cx="42.6" cy="89.1" rx="3.6" ry="2.1" transform="rotate(35 42.6 89.1)"/><ellipse cx="65.5" cy="82.3" rx="4.9" ry="2.1" transform="rotate(-42 65.5 82.3)"/><ellipse cx="70.9" cy="73.4" rx="2.2" ry="2.5" transform="rotate(0 70.9 73.4)"/><ellipse cx="73.8" cy="44.2" rx="2.9" ry="2.6" transform="rotate(0 73.8 44.2)"/><ellipse cx="85.4" cy="47.3" rx="1.9" ry="1.9" transform="rotate(0 85.4 47.3)"/><ellipse cx="87.6" cy="38.8" rx="3.3" ry="4.0" transform="rotate(-30 87.6 38.8)"/><ellipse cx="72.6" cy="35.3" rx="7.0" ry="3.3" transform="rotate(38 72.6 35.3)"/><ellipse cx="39.9" cy="20.0" rx="4.9" ry="2.4" transform="rotate(-38 39.9 20.0)"/><ellipse cx="63.6" cy="23.2" rx="5.3" ry="2.4" transform="rotate(-60 63.6 23.2)"/><ellipse cx="75.8" cy="22.1" rx="4.4" ry="5.4" transform="rotate(-12 75.8 22.1)"/></g><circle cx="58.5" cy="36.5" r="1.25" fill="#1e1e1e"/><circle cx="44" cy="25.8" r="0.62" fill="#444"/><circle cx="55.1" cy="25.8" r="0.62" fill="#444"/></g></g><rect x="0" y="0" width="98.0" height="98.1" fill="none" stroke="#222" stroke-width="1.1"/><line x1="-3" x2="0" y1="4.95" y2="4.95" stroke="#222" stroke-width="0.9"/><text transform="translate(-5.90 7.35) scale(0.850 1)" text-anchor="end" font-size="6.70" fill="#2a2a2a">15</text><line x1="-3" x2="0" y1="19.80" y2="19.80" stroke="#222" stroke-width="0.9"/><text transform="translate(-5.90 22.20) scale(0.850 1)" text-anchor="end" font-size="6.70" fill="#2a2a2a">10</text><line x1="-3" x2="0" y1="34.65" y2="34.65" stroke="#222" stroke-width="0.9"/><text transform="translate(-5.90 37.05) scale(0.850 1)" text-anchor="end" font-size="6.70" fill="#2a2a2a">5</text><line x1="-3" x2="0" y1="49.50" y2="49.50" stroke="#222" stroke-width="0.9"/><text transform="translate(-5.90 51.90) scale(0.850 1)" text-anchor="end" font-size="6.70" fill="#2a2a2a">0</text><line x1="-3" x2="0" y1="64.35" y2="64.35" stroke="#222" stroke-width="0.9"/><text transform="translate(-5.90 66.75) scale(0.850 1)" text-anchor="end" font-size="6.70" fill="#2a2a2a">−5</text><line x1="-3" x2="0" y1="79.20" y2="79.20" stroke="#222" stroke-width="0.9"/><text transform="translate(-5.90 81.60) scale(0.850 1)" text-anchor="end" font-size="6.70" fill="#2a2a2a">−10</text><line x1="-3" x2="0" y1="94.05" y2="94.05" stroke="#222" stroke-width="0.9"/><text transform="translate(-5.90 96.45) scale(0.850 1)" text-anchor="end" font-size="6.70" fill="#2a2a2a">−15</text><line x1="25.15" x2="25.15" y1="98.1" y2="101.1" stroke="#222" stroke-width="0.9"/><text transform="translate(25.15 110.60) scale(0.850 1)" text-anchor="middle" font-size="6.70" fill="#2a2a2a">−10</text><line x1="50.60" x2="50.60" y1="98.1" y2="101.1" stroke="#222" stroke-width="0.9"/><text transform="translate(50.60 110.60) scale(0.850 1)" text-anchor="middle" font-size="6.70" fill="#2a2a2a">0</text><line x1="76.05" x2="76.05" y1="98.1" y2="101.1" stroke="#222" stroke-width="0.9"/><text transform="translate(76.05 110.60) scale(0.850 1)" text-anchor="middle" font-size="6.70" fill="#2a2a2a">10</text><text x="4.3" y="13.3" font-size="8.25" font-weight="bold" fill="#84b5c6">GM–S</text></g><line x1="32" y1="12.0" x2="32" y2="219.7" stroke="#444" stroke-width="1.3"/><path d="M32,7.6 L28.9,15.5 L32,13.5 L35.1,15.5 Z" fill="#111"/><line x1="56.9" y1="236.8" x2="507" y2="236.8" stroke="#4a4a4a" stroke-width="1.4"/><path d="M512.8,236.6 L504.6,233.4 L506.6,236.6 L504.6,239.8 Z" fill="#111"/><text x="267.2" y="247.2" font-size="7.2" fill="#222" >t-SNE 1</text><text transform="translate(26.2 112.0) rotate(-90)" text-anchor="middle" font-size="7.3" fill="#222">t-SNE 2</text><text x="6.9" y="16.8" font-size="10.5" fill="#111">A</text><text transform="translate(456.40 174.30) scale(0.920 1)" font-size="9.40" fill="#222">MC</text>
<g transform="translate(51.30 258.70)"><g clip-path="url(#pc)"><g transform="translate(0.90 0.60)"><path d="M51.0,86.0 45.0,86.4 39.0,85.8 34.0,84.3 29.8,82.0 26.8,79.0 23.1,72.0 17.8,64.5 15.8,60.5 14.0,55.2 13.0,54.7 9.0,55.5 6.5,54.9 5.2,54.0 4.4,53.0 3.7,50.5 4.0,49.0 4.6,48.0 5.5,47.0 7.0,46.1 9.5,45.9 13.5,47.2 14.2,47.0 15.0,45.9 17.4,41.0 19.6,38.0 22.5,35.1 28.0,31.0 29.5,29.5 30.1,28.5 30.5,27.0 29.9,21.5 30.3,18.5 31.5,15.5 33.5,12.9 36.5,10.6 40.5,8.6 45.0,7.2 49.0,6.7 52.5,6.9 55.5,7.6 58.0,8.7 60.5,10.4 62.1,12.0 63.5,14.0 65.8,19.5 67.0,21.3 69.5,23.0 76.5,25.9 79.7,28.0 81.3,29.5 82.7,31.5 83.5,33.5 83.9,35.5 83.5,38.5 81.5,43.0 80.9,45.0 81.2,53.5 80.7,58.5 79.3,63.0 77.2,67.0 75.0,70.0 72.5,72.8 66.7,78.5 63.8,81.0 61.0,82.8 58.0,84.2 54.5,85.3 51.0,86.0Z" fill="#f0edf6" fill-rule="evenodd"/><path d="M47.5,82.5 43.5,82.5 40.0,81.8 37.0,80.6 35.0,79.0 33.7,77.0 32.5,72.5 31.6,70.5 30.0,68.5 25.0,63.3 22.3,59.5 20.7,55.5 20.2,51.5 20.5,48.5 21.2,46.0 22.4,43.5 24.4,41.0 28.5,37.6 37.7,32.5 39.5,31.0 40.1,30.0 39.9,28.5 36.5,24.7 35.1,22.0 34.9,19.5 35.9,17.0 37.5,15.3 40.0,13.8 43.0,12.9 46.5,12.5 49.5,12.7 52.0,13.4 54.1,14.5 55.6,16.0 56.4,17.5 56.9,19.5 56.5,26.0 56.9,27.0 58.0,28.0 59.5,28.6 61.0,28.9 68.5,28.0 71.0,28.2 73.0,28.7 75.0,29.5 76.9,31.0 78.0,32.5 78.6,34.5 78.0,37.0 75.0,40.5 74.0,42.5 74.0,44.5 75.0,51.5 74.9,55.5 73.8,60.0 71.5,64.5 68.2,68.5 57.0,79.1 54.8,80.5 52.5,81.5 47.5,82.5ZM9.5,53.2 8.0,53.4 7.0,53.0 5.7,51.5 5.6,50.5 5.8,49.5 6.5,48.6 7.5,48.0 8.5,47.8 9.5,48.1 10.5,48.7 11.0,49.5 11.3,50.5 11.1,51.5 10.5,52.5 9.5,53.2Z" fill="#dfd8ec" fill-rule="evenodd"/><path d="M44.0,22.6 42.5,22.6 41.5,22.2 40.1,21.0 39.9,19.5 40.5,18.6 41.3,18.0 42.7,17.5 44.5,17.5 45.9,18.0 46.9,19.0 47.1,20.0 46.5,21.3 45.5,22.1 44.0,22.6ZM48.5,78.6 46.0,78.9 44.0,78.7 42.0,78.0 40.8,77.0 40.1,75.5 39.5,72.0 38.3,70.0 36.3,68.0 29.5,62.3 27.5,60.2 26.0,58.1 24.9,56.0 24.3,54.0 24.0,50.0 24.7,47.0 26.1,44.5 28.4,42.0 31.5,39.9 37.0,37.2 45.0,34.1 49.0,33.2 53.0,33.1 57.0,33.9 62.7,35.5 65.4,36.5 66.7,37.5 68.0,39.8 70.7,47.0 71.5,51.0 71.5,54.5 70.9,57.5 69.8,60.5 68.3,63.0 66.3,65.5 63.0,68.4 56.1,73.0 51.7,77.0 50.1,78.0 48.5,78.6ZM9.0,51.0 8.5,51.3 8.0,51.3 7.6,50.5 8.0,49.9 8.5,49.9 9.0,50.3 9.0,51.0Z" fill="#d2c8e5" fill-rule="evenodd"/><path d="M52.5,70.0 49.0,70.3 46.0,69.6 42.0,67.7 37.0,64.4 32.7,61.0 29.8,58.0 28.0,55.0 27.2,52.0 27.3,49.5 28.2,47.0 29.7,45.0 32.0,43.0 36.0,40.7 42.0,38.1 46.5,36.6 50.0,36.1 53.5,36.1 57.0,36.8 60.5,38.2 63.0,39.8 65.1,42.0 67.0,45.0 68.2,48.0 68.9,51.5 68.8,54.5 68.2,57.5 66.8,60.5 65.0,63.1 62.5,65.5 59.5,67.4 56.0,69.0 52.5,70.0Z" fill="#c7bade" fill-rule="evenodd"/><path d="M53.5,67.1 49.0,67.1 44.5,65.8 39.0,62.7 34.0,58.5 31.4,55.0 30.4,52.0 30.8,49.0 31.5,47.5 32.7,46.0 36.0,43.5 40.9,41.0 45.5,39.2 49.5,38.4 53.0,38.3 56.5,39.0 59.9,40.5 62.5,42.5 65.0,45.9 66.4,49.5 66.7,53.5 65.9,57.5 63.9,61.0 61.0,63.9 57.5,65.9 53.5,67.1Z" fill="#bcadd8" fill-rule="evenodd"/><path d="M52.5,65.0 49.5,65.0 47.0,64.4 44.0,63.2 41.3,61.5 38.2,59.0 35.9,56.5 34.3,54.0 33.8,52.0 34.0,50.0 34.6,48.5 35.8,47.0 37.6,45.5 40.7,43.5 44.0,41.9 47.0,40.8 50.0,40.2 53.0,40.2 55.5,40.7 58.0,41.7 60.0,42.9 62.0,44.9 63.4,47.0 64.2,49.0 64.7,51.5 64.7,54.0 64.1,56.5 63.2,58.5 61.8,60.5 60.0,62.2 57.5,63.7 55.0,64.6 52.5,65.0Z" fill="#b2a0d2" fill-rule="evenodd"/><path d="M53.0,63.1 51.0,63.1 48.5,62.8 46.2,62.0 44.0,60.8 41.5,59.0 39.6,57.0 38.2,55.0 37.4,53.0 37.3,51.5 37.6,50.0 38.4,48.5 39.7,47.0 44.1,44.0 46.5,42.9 49.0,42.2 51.5,42.0 54.0,42.2 56.0,42.8 58.0,43.8 59.6,45.0 61.0,46.6 62.1,48.5 62.7,50.5 62.9,53.0 62.6,55.0 61.9,57.0 60.6,59.0 59.0,60.6 57.0,61.9 55.0,62.7 53.0,63.1Z" fill="#a894cc" fill-rule="evenodd"/><path d="M53.5,61.1 51.5,61.2 49.5,61.0 46.0,59.7 42.7,57.0 40.9,54.0 40.6,51.5 41.5,49.0 44.0,46.5 47.5,44.6 51.5,43.8 53.5,44.0 55.4,44.5 57.0,45.3 58.5,46.5 59.7,48.0 60.4,49.5 60.9,51.5 60.9,53.5 60.4,55.5 59.7,57.0 58.5,58.5 57.0,59.7 55.5,60.5 53.5,61.1Z" fill="#9e88c7" fill-rule="evenodd"/><path d="M53.5,59.0 50.5,59.1 48.0,58.3 45.5,56.6 44.1,54.5 43.6,52.0 44.1,50.0 45.8,48.0 48.0,46.6 51.0,45.8 54.0,46.1 56.6,47.5 57.5,48.5 58.4,50.0 58.9,51.5 58.9,53.0 58.2,55.5 56.5,57.5 55.0,58.5 53.5,59.0Z" fill="#957dc1" fill-rule="evenodd"/><path d="M53.0,56.6 51.0,56.7 49.5,56.2 48.0,55.1 47.2,54.0 46.8,52.5 47.1,51.0 48.0,49.7 49.5,48.7 51.5,48.2 53.4,48.5 55.0,49.5 56.0,50.9 56.3,52.5 55.8,54.5 54.5,55.9 53.0,56.6Z" fill="#8c72bc" fill-rule="evenodd"/><g id="ct" fill="none" stroke="#1c1c1c" stroke-width="1.15"><path d="M25.80,36.90 C26.37,36.73 26.07,35.72 26.30,35.00 C26.53,34.28 26.65,33.18 27.20,32.60 C27.75,32.02 28.72,31.58 29.60,31.50 C30.48,31.42 31.70,31.75 32.50,32.10 C33.30,32.45 33.75,33.10 34.40,33.60 C35.05,34.10 35.12,34.95 36.40,35.10 C37.68,35.25 40.18,34.83 42.10,34.50 C44.02,34.17 46.00,33.60 47.90,33.10 C49.80,32.60 51.68,31.67 53.50,31.50 C55.32,31.33 57.33,31.58 58.80,32.10 C60.27,32.62 61.25,33.47 62.30,34.60 C63.35,35.73 64.12,37.67 65.10,38.90 C66.08,40.13 67.38,41.02 68.20,42.00 C69.02,42.98 69.85,43.88 70.00,44.80 C70.15,45.72 69.17,46.68 69.10,47.50 C69.03,48.32 69.07,49.22 69.60,49.70 C70.13,50.18 71.25,50.55 72.30,50.40 C73.35,50.25 74.85,49.28 75.90,48.80 C76.95,48.32 77.70,47.65 78.60,47.50 C79.50,47.35 80.62,47.38 81.30,47.90 C81.98,48.42 82.62,49.62 82.70,50.60 C82.78,51.58 82.48,52.97 81.80,53.80 C81.12,54.63 79.65,55.07 78.60,55.60 C77.55,56.13 76.17,56.47 75.50,57.00 C74.83,57.53 74.23,58.35 74.60,58.80 C74.97,59.25 76.95,59.25 77.70,59.70 C78.45,60.15 79.17,60.83 79.10,61.50 C79.03,62.17 78.13,63.10 77.30,63.70 C76.47,64.30 75.53,64.63 74.10,65.10 C72.67,65.57 70.35,65.90 68.70,66.50 C67.05,67.10 65.72,67.65 64.20,68.70 C62.68,69.75 60.97,71.60 59.60,72.80 C58.23,74.00 57.20,75.15 56.00,75.90 C54.80,76.65 53.52,77.27 52.40,77.30 C51.28,77.33 50.63,76.55 49.30,76.10 C47.97,75.65 45.77,75.00 44.40,74.60 C43.03,74.20 41.97,73.37 41.10,73.70 C40.23,74.03 39.92,75.80 39.20,76.60 C38.48,77.40 37.85,78.58 36.80,78.50 C35.75,78.42 33.95,77.22 32.90,76.10 C31.85,74.97 30.82,72.88 30.50,71.75 C30.18,70.62 30.28,69.89 31.00,69.30 C31.72,68.71 33.52,68.32 34.80,68.20 C36.08,68.08 38.05,68.73 38.70,68.60 C39.35,68.47 39.18,67.83 38.70,67.40 C38.22,66.97 37.25,66.23 35.80,66.00 C34.35,65.77 31.77,65.85 30.00,66.00 C28.23,66.15 26.40,66.42 25.20,66.90 C24.00,67.38 23.20,68.82 22.80,68.90 C22.40,68.98 22.40,68.20 22.80,67.40 C23.20,66.60 24.72,65.22 25.20,64.10 C25.68,62.98 25.78,61.83 25.70,60.70 C25.62,59.57 25.50,58.10 24.70,57.30 C23.90,56.50 21.70,56.62 20.90,55.90 C20.10,55.18 20.20,53.68 19.90,53.00 C19.60,52.32 19.72,52.23 19.10,51.80 C18.48,51.37 17.25,51.03 16.20,50.40 C15.15,49.77 13.48,48.97 12.80,48.00 C12.12,47.03 12.10,45.72 12.10,44.60 C12.10,43.48 12.28,42.42 12.80,41.30 C13.32,40.18 14.15,38.78 15.20,37.90 C16.25,37.02 17.82,36.32 19.10,36.00 C20.38,35.68 21.78,35.85 22.90,36.00 C24.02,36.15 25.23,37.07 25.80,36.90Z"/><path d="M55.50,10.80 C54.78,10.63 53.03,10.55 52.00,11.00 C50.97,11.45 50.20,12.38 49.30,13.50 C48.40,14.62 47.12,16.62 46.60,17.70 C46.08,18.78 45.88,19.30 46.20,20.00 C46.52,20.70 47.53,21.65 48.50,21.90 C49.47,22.15 50.90,21.82 52.00,21.50 C53.10,21.18 54.40,20.70 55.10,20.00 C55.80,19.30 55.95,18.27 56.20,17.30 C56.45,16.33 56.58,15.08 56.60,14.20 C56.62,13.32 56.48,12.57 56.30,12.00 C56.12,11.43 56.22,10.97 55.50,10.80Z"/><path d="M56.20,10.00 C56.47,9.40 57.48,8.32 58.20,7.90 C58.92,7.48 59.62,7.40 60.50,7.50 C61.38,7.60 62.72,8.02 63.50,8.50 C64.28,8.98 65.07,9.80 65.20,10.40 C65.33,11.00 64.97,11.65 64.30,12.10 C63.63,12.55 62.22,13.00 61.20,13.10 C60.18,13.20 58.97,12.97 58.20,12.70 C57.43,12.43 56.93,11.95 56.60,11.50 C56.27,11.05 55.93,10.60 56.20,10.00Z"/><ellipse cx="24.6" cy="75.8" rx="3.9" ry="1.9" transform="rotate(45 24.6 75.8)"/><ellipse cx="42.6" cy="89.1" rx="3.6" ry="2.1" transform="rotate(35 42.6 89.1)"/><ellipse cx="65.5" cy="82.3" rx="4.9" ry="2.1" transform="rotate(-42 65.5 82.3)"/><ellipse cx="70.9" cy="73.4" rx="2.2" ry="2.5" transform="rotate(0 70.9 73.4)"/><ellipse cx="73.8" cy="44.2" rx="2.9" ry="2.6" transform="rotate(0 73.8 44.2)"/><ellipse cx="85.4" cy="47.3" rx="1.9" ry="1.9" transform="rotate(0 85.4 47.3)"/><ellipse cx="87.6" cy="38.8" rx="3.3" ry="4.0" transform="rotate(-30 87.6 38.8)"/><ellipse cx="72.6" cy="35.3" rx="7.0" ry="3.3" transform="rotate(38 72.6 35.3)"/><ellipse cx="39.9" cy="20.0" rx="4.9" ry="2.4" transform="rotate(-38 39.9 20.0)"/><ellipse cx="63.6" cy="23.2" rx="5.3" ry="2.4" transform="rotate(-60 63.6 23.2)"/><ellipse cx="75.8" cy="22.1" rx="4.4" ry="5.4" transform="rotate(-12 75.8 22.1)"/></g><circle cx="58.5" cy="36.5" r="1.25" fill="#1e1e1e"/><circle cx="44" cy="25.8" r="0.62" fill="#444"/><circle cx="55.1" cy="25.8" r="0.62" fill="#444"/></g></g><rect x="0" y="0" width="98.0" height="98.1" fill="none" stroke="#222" stroke-width="1.1"/><line x1="-3" x2="0" y1="4.95" y2="4.95" stroke="#222" stroke-width="0.9"/><text transform="translate(-5.90 7.35) scale(0.850 1)" text-anchor="end" font-size="6.70" fill="#2a2a2a">15</text><line x1="-3" x2="0" y1="19.80" y2="19.80" stroke="#222" stroke-width="0.9"/><text transform="translate(-5.90 22.20) scale(0.850 1)" text-anchor="end" font-size="6.70" fill="#2a2a2a">10</text><line x1="-3" x2="0" y1="34.65" y2="34.65" stroke="#222" stroke-width="0.9"/><text transform="translate(-5.90 37.05) scale(0.850 1)" text-anchor="end" font-size="6.70" fill="#2a2a2a">5</text><line x1="-3" x2="0" y1="49.50" y2="49.50" stroke="#222" stroke-width="0.9"/><text transform="translate(-5.90 51.90) scale(0.850 1)" text-anchor="end" font-size="6.70" fill="#2a2a2a">0</text><line x1="-3" x2="0" y1="64.35" y2="64.35" stroke="#222" stroke-width="0.9"/><text transform="translate(-5.90 66.75) scale(0.850 1)" text-anchor="end" font-size="6.70" fill="#2a2a2a">−5</text><line x1="-3" x2="0" y1="79.20" y2="79.20" stroke="#222" stroke-width="0.9"/><text transform="translate(-5.90 81.60) scale(0.850 1)" text-anchor="end" font-size="6.70" fill="#2a2a2a">−10</text><line x1="-3" x2="0" y1="94.05" y2="94.05" stroke="#222" stroke-width="0.9"/><text transform="translate(-5.90 96.45) scale(0.850 1)" text-anchor="end" font-size="6.70" fill="#2a2a2a">−15</text><line x1="25.15" x2="25.15" y1="98.1" y2="101.1" stroke="#222" stroke-width="0.9"/><text transform="translate(25.15 110.60) scale(0.850 1)" text-anchor="middle" font-size="6.70" fill="#2a2a2a">−10</text><line x1="50.60" x2="50.60" y1="98.1" y2="101.1" stroke="#222" stroke-width="0.9"/><text transform="translate(50.60 110.60) scale(0.850 1)" text-anchor="middle" font-size="6.70" fill="#2a2a2a">0</text><line x1="76.05" x2="76.05" y1="98.1" y2="101.1" stroke="#222" stroke-width="0.9"/><text transform="translate(76.05 110.60) scale(0.850 1)" text-anchor="middle" font-size="6.70" fill="#2a2a2a">10</text><text x="5.7" y="13.3" font-size="8.25" font-weight="bold" fill="#9a82c4">E+NM+NK</text></g><g transform="translate(172.60 258.70)"><g clip-path="url(#pc)"><g transform="translate(0.90 0.60)"><path d="M40.5,29.0 39.0,29.3 37.0,29.3 35.0,28.8 33.5,28.1 32.0,27.0 30.6,25.5 29.2,22.5 28.9,19.0 29.3,17.0 30.0,15.5 31.1,14.0 32.5,12.7 35.5,11.2 39.0,10.9 41.0,11.3 42.5,12.0 44.0,13.1 45.4,14.5 46.8,17.5 47.1,21.0 46.7,23.0 46.1,24.5 45.0,26.1 43.5,27.5 40.5,29.0ZM79.5,25.7 78.0,26.0 76.5,25.7 75.4,25.0 74.3,23.5 74.0,22.0 74.3,20.5 75.0,19.4 76.5,18.3 78.0,18.0 79.5,18.3 81.0,19.4 81.7,20.5 82.0,22.0 81.7,23.5 80.6,25.0 79.5,25.7ZM73.0,40.0 71.0,40.1 69.0,39.5 67.9,38.5 67.3,37.0 67.6,35.5 68.6,34.0 70.2,33.0 72.0,32.5 74.0,32.5 75.5,33.0 76.9,34.0 77.7,35.5 77.6,37.0 76.6,38.5 75.0,39.5 73.0,40.0ZM41.5,75.0 37.0,75.3 33.0,74.2 31.0,73.0 29.2,71.5 26.3,67.5 25.2,65.0 24.4,62.5 23.8,57.0 24.0,54.5 24.7,52.0 26.6,48.0 29.5,44.5 33.5,41.4 38.5,38.9 43.5,37.5 49.0,36.9 54.0,37.2 59.0,38.5 63.5,40.7 65.7,42.5 67.9,45.5 69.3,48.5 70.2,52.0 70.4,55.5 70.1,59.0 69.1,62.5 67.6,65.5 66.0,67.7 64.0,69.6 61.5,71.3 59.0,72.4 54.5,73.4 46.5,73.9 41.5,75.0Z" fill="#efece6" fill-rule="evenodd"/><path d="M39.5,27.1 36.5,27.1 34.0,26.0 32.0,24.0 30.9,21.5 31.0,18.5 32.0,16.0 34.0,14.0 36.5,13.0 39.5,13.0 42.0,14.0 44.0,16.0 45.1,18.5 45.0,21.5 44.0,24.0 42.0,26.0 39.5,27.1ZM73.0,37.1 72.1,37.0 71.5,36.5 71.5,36.0 72.0,35.4 73.0,35.1 74.0,35.7 74.0,36.5 73.0,37.1ZM41.0,73.0 37.5,73.5 35.5,73.1 34.1,72.5 31.5,70.5 29.2,67.0 27.6,62.5 26.9,57.0 27.4,53.0 29.0,49.0 31.4,46.0 34.5,43.5 38.5,41.4 42.5,40.2 47.0,39.7 51.5,40.0 56.0,41.1 59.5,42.8 62.0,44.6 64.0,46.8 65.7,49.5 66.6,52.0 67.1,55.0 67.1,58.0 66.5,61.0 65.1,64.0 62.5,67.1 60.5,68.6 58.5,69.5 54.5,70.5 46.5,70.9 41.0,73.0Z" fill="#d9cfc1" fill-rule="evenodd"/><path d="M39.0,25.6 36.5,25.5 34.5,24.6 33.0,23.0 32.3,21.0 32.4,18.5 33.5,16.5 35.0,15.1 37.0,14.3 39.5,14.4 41.5,15.3 43.1,17.0 43.7,19.0 43.5,21.5 42.5,23.5 41.0,24.8 39.0,25.6ZM38.5,72.0 36.0,71.7 34.6,71.0 33.5,70.1 31.7,67.5 30.0,63.5 29.2,59.0 29.1,54.5 30.0,51.0 31.8,48.0 34.3,45.5 37.5,43.5 41.0,42.2 45.0,41.5 49.0,41.6 52.5,42.3 56.0,43.7 59.5,45.9 61.5,47.8 63.0,49.9 64.0,52.0 64.7,54.5 64.9,57.0 64.6,59.5 63.8,62.0 62.5,64.1 60.0,66.4 57.0,67.9 53.5,68.5 48.0,68.5 46.0,68.7 44.5,69.3 41.0,71.4 38.5,72.0Z" fill="#cbbeaa" fill-rule="evenodd"/><path d="M39.5,24.1 37.5,24.4 36.0,24.0 34.5,23.0 33.6,21.5 33.3,20.0 33.9,18.0 35.0,16.6 36.5,15.7 38.5,15.4 40.0,15.7 41.5,16.7 42.3,18.0 42.6,19.5 42.2,21.5 41.0,23.2 39.5,24.1ZM38.5,70.5 36.5,70.3 34.5,68.7 32.6,65.5 31.4,62.0 30.7,57.0 30.8,53.5 31.8,50.5 33.5,48.0 36.0,45.8 39.0,44.1 42.0,43.2 45.5,42.8 49.0,43.1 52.0,43.9 55.0,45.3 58.0,47.3 59.7,49.0 61.2,51.0 62.2,53.0 62.8,55.5 62.9,58.0 62.5,60.0 61.7,62.0 60.6,63.5 58.0,65.5 55.0,66.5 52.0,66.8 46.5,66.5 44.5,66.9 43.0,67.7 40.5,69.7 38.5,70.5Z" fill="#beaf97" fill-rule="evenodd"/><path d="M39.0,23.1 37.5,23.3 36.3,23.0 35.0,22.0 34.5,21.0 34.4,19.5 35.0,18.0 36.0,17.0 37.5,16.4 39.0,16.4 40.0,16.7 41.0,17.6 41.6,19.0 41.5,20.5 41.0,21.5 40.1,22.5 39.0,23.1ZM38.5,68.1 37.0,68.0 36.0,67.2 35.0,65.8 33.5,62.8 32.5,58.8 32.1,55.0 32.4,52.5 33.4,50.0 35.0,48.0 37.5,46.1 40.0,44.9 43.0,44.1 46.5,44.0 49.5,44.6 52.5,45.7 55.3,47.5 57.6,49.5 60.1,53.0 61.1,56.5 61.1,58.5 60.7,60.0 59.0,62.6 57.0,64.1 54.0,65.0 51.5,65.1 46.0,64.6 43.5,64.9 42.0,65.6 38.5,68.1Z" fill="#b4a285" fill-rule="evenodd"/><path d="M39.0,22.0 38.0,22.3 37.0,22.2 36.0,21.7 35.5,21.0 35.3,20.0 35.5,19.0 36.2,18.0 37.0,17.4 38.0,17.2 39.0,17.3 40.0,17.8 40.5,18.5 40.7,19.5 40.5,20.5 39.8,21.5 39.0,22.0ZM40.0,63.6 38.5,63.9 37.5,63.8 36.0,62.8 34.5,59.8 33.5,55.5 33.6,53.0 34.4,50.5 36.0,48.5 38.0,46.9 40.5,45.7 43.0,45.1 46.0,45.1 48.5,45.5 51.0,46.6 53.9,48.5 56.5,50.9 58.1,53.0 59.2,56.0 59.2,58.5 58.4,60.5 56.5,62.3 55.0,63.0 53.0,63.4 44.5,62.7 40.0,63.6Z" fill="#aa9575" fill-rule="evenodd"/><path d="M38.5,21.1 37.5,21.2 36.4,20.5 36.5,19.1 37.5,18.2 38.5,18.2 39.6,19.0 39.5,20.2 38.5,21.1ZM54.5,61.0 51.5,61.5 45.5,60.8 40.0,60.9 38.0,60.5 36.4,59.0 35.0,56.0 34.8,53.5 35.4,51.0 36.4,49.5 38.0,48.0 41.5,46.4 43.5,46.1 45.5,46.1 47.5,46.5 49.5,47.3 51.4,48.5 53.7,50.5 55.7,53.0 56.8,55.0 57.2,57.0 56.9,58.5 56.0,60.0 54.5,61.0Z" fill="#a08966" fill-rule="evenodd"/><path d="M51.5,59.0 41.0,58.8 38.5,58.0 37.0,56.5 36.3,55.0 36.1,53.0 36.7,51.0 37.9,49.5 39.0,48.6 42.0,47.3 45.5,47.2 48.5,48.2 50.3,49.5 51.7,51.0 53.1,53.0 54.1,55.0 54.3,56.5 54.0,57.6 53.0,58.6 51.5,59.0Z" fill="#977e57" fill-rule="evenodd"/><path d="M44.0,57.0 41.5,57.0 39.5,56.3 38.1,55.0 37.6,53.5 37.9,51.5 39.0,50.0 40.5,49.0 42.5,48.3 45.0,48.3 47.5,49.3 49.2,51.0 50.3,53.5 50.1,55.0 49.1,56.0 47.0,56.7 44.0,57.0Z" fill="#8e7349" fill-rule="evenodd"/><path d="M44.0,55.0 41.5,55.0 39.9,54.0 39.5,53.0 39.6,52.0 40.7,50.5 42.0,49.8 44.0,49.7 45.5,50.1 46.5,51.0 47.1,52.5 46.8,53.5 45.7,54.5 44.0,55.0Z" fill="#86693c" fill-rule="evenodd"/><g id="ct" fill="none" stroke="#1c1c1c" stroke-width="1.15"><path d="M25.80,36.90 C26.37,36.73 26.07,35.72 26.30,35.00 C26.53,34.28 26.65,33.18 27.20,32.60 C27.75,32.02 28.72,31.58 29.60,31.50 C30.48,31.42 31.70,31.75 32.50,32.10 C33.30,32.45 33.75,33.10 34.40,33.60 C35.05,34.10 35.12,34.95 36.40,35.10 C37.68,35.25 40.18,34.83 42.10,34.50 C44.02,34.17 46.00,33.60 47.90,33.10 C49.80,32.60 51.68,31.67 53.50,31.50 C55.32,31.33 57.33,31.58 58.80,32.10 C60.27,32.62 61.25,33.47 62.30,34.60 C63.35,35.73 64.12,37.67 65.10,38.90 C66.08,40.13 67.38,41.02 68.20,42.00 C69.02,42.98 69.85,43.88 70.00,44.80 C70.15,45.72 69.17,46.68 69.10,47.50 C69.03,48.32 69.07,49.22 69.60,49.70 C70.13,50.18 71.25,50.55 72.30,50.40 C73.35,50.25 74.85,49.28 75.90,48.80 C76.95,48.32 77.70,47.65 78.60,47.50 C79.50,47.35 80.62,47.38 81.30,47.90 C81.98,48.42 82.62,49.62 82.70,50.60 C82.78,51.58 82.48,52.97 81.80,53.80 C81.12,54.63 79.65,55.07 78.60,55.60 C77.55,56.13 76.17,56.47 75.50,57.00 C74.83,57.53 74.23,58.35 74.60,58.80 C74.97,59.25 76.95,59.25 77.70,59.70 C78.45,60.15 79.17,60.83 79.10,61.50 C79.03,62.17 78.13,63.10 77.30,63.70 C76.47,64.30 75.53,64.63 74.10,65.10 C72.67,65.57 70.35,65.90 68.70,66.50 C67.05,67.10 65.72,67.65 64.20,68.70 C62.68,69.75 60.97,71.60 59.60,72.80 C58.23,74.00 57.20,75.15 56.00,75.90 C54.80,76.65 53.52,77.27 52.40,77.30 C51.28,77.33 50.63,76.55 49.30,76.10 C47.97,75.65 45.77,75.00 44.40,74.60 C43.03,74.20 41.97,73.37 41.10,73.70 C40.23,74.03 39.92,75.80 39.20,76.60 C38.48,77.40 37.85,78.58 36.80,78.50 C35.75,78.42 33.95,77.22 32.90,76.10 C31.85,74.97 30.82,72.88 30.50,71.75 C30.18,70.62 30.28,69.89 31.00,69.30 C31.72,68.71 33.52,68.32 34.80,68.20 C36.08,68.08 38.05,68.73 38.70,68.60 C39.35,68.47 39.18,67.83 38.70,67.40 C38.22,66.97 37.25,66.23 35.80,66.00 C34.35,65.77 31.77,65.85 30.00,66.00 C28.23,66.15 26.40,66.42 25.20,66.90 C24.00,67.38 23.20,68.82 22.80,68.90 C22.40,68.98 22.40,68.20 22.80,67.40 C23.20,66.60 24.72,65.22 25.20,64.10 C25.68,62.98 25.78,61.83 25.70,60.70 C25.62,59.57 25.50,58.10 24.70,57.30 C23.90,56.50 21.70,56.62 20.90,55.90 C20.10,55.18 20.20,53.68 19.90,53.00 C19.60,52.32 19.72,52.23 19.10,51.80 C18.48,51.37 17.25,51.03 16.20,50.40 C15.15,49.77 13.48,48.97 12.80,48.00 C12.12,47.03 12.10,45.72 12.10,44.60 C12.10,43.48 12.28,42.42 12.80,41.30 C13.32,40.18 14.15,38.78 15.20,37.90 C16.25,37.02 17.82,36.32 19.10,36.00 C20.38,35.68 21.78,35.85 22.90,36.00 C24.02,36.15 25.23,37.07 25.80,36.90Z"/><path d="M55.50,10.80 C54.78,10.63 53.03,10.55 52.00,11.00 C50.97,11.45 50.20,12.38 49.30,13.50 C48.40,14.62 47.12,16.62 46.60,17.70 C46.08,18.78 45.88,19.30 46.20,20.00 C46.52,20.70 47.53,21.65 48.50,21.90 C49.47,22.15 50.90,21.82 52.00,21.50 C53.10,21.18 54.40,20.70 55.10,20.00 C55.80,19.30 55.95,18.27 56.20,17.30 C56.45,16.33 56.58,15.08 56.60,14.20 C56.62,13.32 56.48,12.57 56.30,12.00 C56.12,11.43 56.22,10.97 55.50,10.80Z"/><path d="M56.20,10.00 C56.47,9.40 57.48,8.32 58.20,7.90 C58.92,7.48 59.62,7.40 60.50,7.50 C61.38,7.60 62.72,8.02 63.50,8.50 C64.28,8.98 65.07,9.80 65.20,10.40 C65.33,11.00 64.97,11.65 64.30,12.10 C63.63,12.55 62.22,13.00 61.20,13.10 C60.18,13.20 58.97,12.97 58.20,12.70 C57.43,12.43 56.93,11.95 56.60,11.50 C56.27,11.05 55.93,10.60 56.20,10.00Z"/><ellipse cx="24.6" cy="75.8" rx="3.9" ry="1.9" transform="rotate(45 24.6 75.8)"/><ellipse cx="42.6" cy="89.1" rx="3.6" ry="2.1" transform="rotate(35 42.6 89.1)"/><ellipse cx="65.5" cy="82.3" rx="4.9" ry="2.1" transform="rotate(-42 65.5 82.3)"/><ellipse cx="70.9" cy="73.4" rx="2.2" ry="2.5" transform="rotate(0 70.9 73.4)"/><ellipse cx="73.8" cy="44.2" rx="2.9" ry="2.6" transform="rotate(0 73.8 44.2)"/><ellipse cx="85.4" cy="47.3" rx="1.9" ry="1.9" transform="rotate(0 85.4 47.3)"/><ellipse cx="87.6" cy="38.8" rx="3.3" ry="4.0" transform="rotate(-30 87.6 38.8)"/><ellipse cx="72.6" cy="35.3" rx="7.0" ry="3.3" transform="rotate(38 72.6 35.3)"/><ellipse cx="39.9" cy="20.0" rx="4.9" ry="2.4" transform="rotate(-38 39.9 20.0)"/><ellipse cx="63.6" cy="23.2" rx="5.3" ry="2.4" transform="rotate(-60 63.6 23.2)"/><ellipse cx="75.8" cy="22.1" rx="4.4" ry="5.4" transform="rotate(-12 75.8 22.1)"/></g><circle cx="58.5" cy="36.5" r="1.25" fill="#1e1e1e"/><circle cx="44" cy="25.8" r="0.62" fill="#444"/><circle cx="55.1" cy="25.8" r="0.62" fill="#444"/></g></g><rect x="0" y="0" width="98.0" height="98.1" fill="none" stroke="#222" stroke-width="1.1"/><line x1="-3" x2="0" y1="4.95" y2="4.95" stroke="#222" stroke-width="0.9"/><text transform="translate(-5.90 7.35) scale(0.850 1)" text-anchor="end" font-size="6.70" fill="#2a2a2a">15</text><line x1="-3" x2="0" y1="19.80" y2="19.80" stroke="#222" stroke-width="0.9"/><text transform="translate(-5.90 22.20) scale(0.850 1)" text-anchor="end" font-size="6.70" fill="#2a2a2a">10</text><line x1="-3" x2="0" y1="34.65" y2="34.65" stroke="#222" stroke-width="0.9"/><text transform="translate(-5.90 37.05) scale(0.850 1)" text-anchor="end" font-size="6.70" fill="#2a2a2a">5</text><line x1="-3" x2="0" y1="49.50" y2="49.50" stroke="#222" stroke-width="0.9"/><text transform="translate(-5.90 51.90) scale(0.850 1)" text-anchor="end" font-size="6.70" fill="#2a2a2a">0</text><line x1="-3" x2="0" y1="64.35" y2="64.35" stroke="#222" stroke-width="0.9"/><text transform="translate(-5.90 66.75) scale(0.850 1)" text-anchor="end" font-size="6.70" fill="#2a2a2a">−5</text><line x1="-3" x2="0" y1="79.20" y2="79.20" stroke="#222" stroke-width="0.9"/><text transform="translate(-5.90 81.60) scale(0.850 1)" text-anchor="end" font-size="6.70" fill="#2a2a2a">−10</text><line x1="-3" x2="0" y1="94.05" y2="94.05" stroke="#222" stroke-width="0.9"/><text transform="translate(-5.90 96.45) scale(0.850 1)" text-anchor="end" font-size="6.70" fill="#2a2a2a">−15</text><line x1="25.15" x2="25.15" y1="98.1" y2="101.1" stroke="#222" stroke-width="0.9"/><text transform="translate(25.15 110.60) scale(0.850 1)" text-anchor="middle" font-size="6.70" fill="#2a2a2a">−10</text><line x1="50.60" x2="50.60" y1="98.1" y2="101.1" stroke="#222" stroke-width="0.9"/><text transform="translate(50.60 110.60) scale(0.850 1)" text-anchor="middle" font-size="6.70" fill="#2a2a2a">0</text><line x1="76.05" x2="76.05" y1="98.1" y2="101.1" stroke="#222" stroke-width="0.9"/><text transform="translate(76.05 110.60) scale(0.850 1)" text-anchor="middle" font-size="6.70" fill="#2a2a2a">10</text><text x="4.7" y="13.3" font-size="8.25" font-weight="bold" fill="#8a6a35">34</text></g><g transform="translate(293.70 258.70)"><g clip-path="url(#pc)"><g transform="translate(0.90 0.60)"><path d="M61.0,58.5 45.0,58.9 28.6,57.5 16.5,57.1 9.0,56.1 0.0,53.9 -0.4,44.0 0.0,34.4 10.5,30.2 17.5,28.3 23.0,27.8 37.0,27.6 45.1,26.5 48.0,25.2 51.1,21.5 53.5,19.8 57.5,18.2 62.5,17.1 70.5,16.4 79.0,16.8 86.5,18.3 89.5,19.4 91.3,20.5 92.4,21.5 93.0,22.5 93.2,23.5 92.9,24.5 91.9,26.0 88.5,29.0 87.9,30.0 87.9,30.5 88.6,31.5 92.0,34.5 93.3,36.0 94.0,37.5 94.3,39.5 94.1,41.0 93.4,42.5 89.1,48.0 89.0,49.0 89.9,52.0 89.7,53.0 88.6,54.0 86.6,55.0 80.5,56.6 72.0,57.8 61.0,58.5ZM46.0,67.5 37.5,67.8 29.5,67.2 22.5,65.7 20.8,65.0 20.0,64.0 20.5,63.1 21.4,62.5 25.5,61.3 32.5,60.2 41.5,59.7 46.0,59.8 52.5,60.8 57.5,62.1 59.0,62.8 59.8,63.5 59.9,64.0 59.7,64.5 59.1,65.0 56.6,66.0 52.0,66.9 46.0,67.5ZM35.5,76.0 27.0,76.0 20.0,75.3 15.5,74.4 13.8,73.5 13.6,73.0 13.8,72.5 15.0,71.8 19.0,70.8 25.0,70.1 33.0,69.8 40.0,70.1 45.0,70.8 49.0,71.8 50.2,72.5 50.4,73.0 50.2,73.5 49.4,74.0 46.0,75.0 41.0,75.7 35.5,76.0ZM53.5,87.5 47.5,87.6 41.0,86.9 36.8,85.5 36.0,85.0 35.5,84.0 36.0,83.0 36.8,82.5 39.5,81.5 43.5,80.7 49.0,80.4 55.0,80.6 59.5,81.2 63.0,82.4 64.4,83.5 64.4,84.5 64.0,85.0 62.0,86.0 58.5,86.9 53.5,87.5Z" fill="#f0e6e6" fill-rule="evenodd"/><path d="M72.0,28.5 67.0,28.7 63.0,27.8 61.0,26.9 59.2,25.5 58.2,24.0 58.3,23.0 59.6,21.5 62.5,20.1 66.5,19.2 71.0,18.9 76.0,19.1 80.0,19.7 83.4,21.0 85.1,22.5 85.2,23.5 84.7,24.5 82.5,26.0 77.5,27.6 72.0,28.5ZM63.0,56.0 55.0,56.3 46.5,56.1 29.5,54.3 16.0,54.0 11.5,53.4 8.0,52.6 3.5,51.1 0.0,49.5 -0.2,44.0 0.0,38.6 5.5,35.7 12.5,32.7 17.5,31.3 22.5,30.8 36.0,31.5 55.5,30.3 65.0,30.2 68.5,30.9 74.5,32.8 78.5,34.6 81.4,36.5 82.9,38.5 83.1,39.5 83.1,41.0 82.3,42.5 81.5,43.5 76.3,48.0 76.1,49.0 77.4,52.0 76.9,53.0 75.2,54.0 72.0,54.9 63.0,56.0ZM43.5,65.5 35.5,65.4 32.5,64.9 31.4,64.5 30.9,64.0 31.3,63.5 33.5,62.8 40.0,62.3 46.5,62.8 48.7,63.5 49.0,64.0 48.6,64.5 47.1,65.0 43.5,65.5ZM36.0,73.5 30.5,73.8 27.7,73.5 26.8,73.0 28.0,72.5 32.0,72.2 36.0,72.5 37.2,73.0 36.0,73.5ZM52.5,86.0 48.5,86.1 45.0,85.7 42.5,85.0 41.7,84.5 41.5,84.0 41.7,83.5 42.5,83.0 44.0,82.5 50.0,81.9 56.0,82.5 57.5,83.0 58.3,83.5 58.5,84.0 58.3,84.5 57.0,85.2 52.5,86.0Z" fill="#dfcaca" fill-rule="evenodd"/><path d="M74.0,25.5 70.5,25.7 67.0,25.1 64.8,24.0 64.6,23.0 65.5,22.1 66.8,21.5 71.0,20.9 76.0,21.2 78.0,21.9 78.8,22.5 79.1,23.5 78.0,24.5 76.5,25.1 74.0,25.5ZM55.5,54.5 50.0,54.4 45.0,53.8 40.8,53.0 36.5,51.6 34.0,51.2 31.0,51.2 20.0,52.4 15.5,52.2 11.5,51.6 5.5,49.7 1.7,47.5 0.0,45.4 0.0,42.6 1.1,41.0 2.8,39.5 9.5,35.8 15.5,33.4 21.0,32.5 25.5,32.6 36.0,33.8 51.5,33.0 61.0,33.3 65.5,34.0 69.5,35.0 73.0,36.5 75.0,38.0 75.7,39.0 76.0,40.0 75.8,41.5 75.1,42.5 73.0,44.2 66.6,47.5 65.5,48.5 65.7,49.5 67.6,51.5 67.7,52.0 67.4,52.5 65.5,53.4 63.0,54.0 55.5,54.5ZM51.5,84.5 48.5,84.5 47.3,84.0 48.2,83.5 50.0,83.4 51.8,83.5 52.7,84.0 51.5,84.5Z" fill="#d3b4b4" fill-rule="evenodd"/><path d="M18.5,51.0 15.0,50.8 12.0,50.3 8.5,49.2 6.0,48.1 4.3,47.0 3.0,45.5 2.5,44.0 2.9,42.5 4.0,41.0 5.8,39.5 11.0,36.5 16.0,34.6 21.0,33.8 26.0,34.1 33.5,35.6 36.5,36.0 51.0,35.2 59.5,35.6 63.5,36.3 66.5,37.3 68.5,38.5 69.5,40.0 69.2,41.5 67.5,43.1 64.4,44.5 60.0,45.7 51.5,46.8 36.5,47.0 33.5,47.6 25.0,50.2 21.5,50.8 18.5,51.0Z" fill="#c7a1a1" fill-rule="evenodd"/><path d="M22.0,49.5 19.0,49.9 15.5,49.7 12.5,49.2 9.5,48.2 7.1,47.0 5.5,45.5 5.0,44.0 5.3,42.5 5.9,41.5 7.5,40.0 12.0,37.3 16.5,35.6 21.0,34.9 23.5,35.0 26.5,35.4 34.5,38.0 37.5,38.6 40.0,38.5 49.5,37.6 56.0,37.8 58.5,38.3 60.5,39.0 61.2,39.5 61.8,40.5 61.3,41.5 59.7,42.5 55.0,43.6 49.0,44.1 39.5,43.8 36.5,44.2 33.5,45.2 26.5,48.3 22.0,49.5Z" fill="#bd8f8f" fill-rule="evenodd"/><path d="M21.5,48.5 19.0,48.8 16.0,48.8 13.5,48.4 10.8,47.5 9.0,46.5 7.5,45.0 7.1,44.0 7.4,42.5 9.0,40.5 12.5,38.2 16.0,36.7 19.5,36.0 23.0,36.0 26.5,36.7 29.6,38.0 32.3,40.0 32.9,41.0 32.9,42.0 32.3,43.0 30.6,44.5 26.4,47.0 21.5,48.5Z" fill="#b37e7e" fill-rule="evenodd"/><path d="M21.5,47.5 17.0,47.9 14.5,47.5 12.5,46.9 10.7,46.0 9.6,45.0 9.1,44.0 9.3,42.5 10.5,40.9 13.0,39.0 15.5,37.9 18.5,37.0 21.0,36.8 23.5,37.1 26.0,37.8 28.2,39.0 29.2,40.0 29.7,41.0 29.7,42.0 29.0,43.5 27.3,45.0 25.7,46.0 21.5,47.5Z" fill="#a96e6e" fill-rule="evenodd"/><path d="M21.5,46.5 17.5,46.9 14.0,46.3 12.4,45.5 11.4,44.5 11.0,43.5 11.2,42.5 12.0,41.2 13.5,40.0 17.0,38.4 21.0,37.8 24.5,38.5 26.0,39.3 27.0,40.3 27.5,41.5 27.3,42.5 26.3,44.0 25.1,45.0 21.5,46.5Z" fill="#a05e5e" fill-rule="evenodd"/><path d="M21.0,45.5 18.0,45.9 15.0,45.3 13.2,44.0 13.1,42.5 14.5,40.8 17.0,39.4 20.0,38.9 23.0,39.3 24.8,40.5 25.3,41.5 25.2,42.5 24.6,43.5 23.5,44.5 21.0,45.5Z" fill="#974f4f" fill-rule="evenodd"/><path d="M19.5,44.5 17.5,44.5 16.1,44.0 15.4,43.0 15.6,42.0 17.0,40.9 19.0,40.3 21.0,40.3 22.5,41.0 23.0,42.0 22.6,43.0 21.3,44.0 19.5,44.5Z" fill="#8e4040" fill-rule="evenodd"/><g id="ct" fill="none" stroke="#1c1c1c" stroke-width="1.15"><path d="M25.80,36.90 C26.37,36.73 26.07,35.72 26.30,35.00 C26.53,34.28 26.65,33.18 27.20,32.60 C27.75,32.02 28.72,31.58 29.60,31.50 C30.48,31.42 31.70,31.75 32.50,32.10 C33.30,32.45 33.75,33.10 34.40,33.60 C35.05,34.10 35.12,34.95 36.40,35.10 C37.68,35.25 40.18,34.83 42.10,34.50 C44.02,34.17 46.00,33.60 47.90,33.10 C49.80,32.60 51.68,31.67 53.50,31.50 C55.32,31.33 57.33,31.58 58.80,32.10 C60.27,32.62 61.25,33.47 62.30,34.60 C63.35,35.73 64.12,37.67 65.10,38.90 C66.08,40.13 67.38,41.02 68.20,42.00 C69.02,42.98 69.85,43.88 70.00,44.80 C70.15,45.72 69.17,46.68 69.10,47.50 C69.03,48.32 69.07,49.22 69.60,49.70 C70.13,50.18 71.25,50.55 72.30,50.40 C73.35,50.25 74.85,49.28 75.90,48.80 C76.95,48.32 77.70,47.65 78.60,47.50 C79.50,47.35 80.62,47.38 81.30,47.90 C81.98,48.42 82.62,49.62 82.70,50.60 C82.78,51.58 82.48,52.97 81.80,53.80 C81.12,54.63 79.65,55.07 78.60,55.60 C77.55,56.13 76.17,56.47 75.50,57.00 C74.83,57.53 74.23,58.35 74.60,58.80 C74.97,59.25 76.95,59.25 77.70,59.70 C78.45,60.15 79.17,60.83 79.10,61.50 C79.03,62.17 78.13,63.10 77.30,63.70 C76.47,64.30 75.53,64.63 74.10,65.10 C72.67,65.57 70.35,65.90 68.70,66.50 C67.05,67.10 65.72,67.65 64.20,68.70 C62.68,69.75 60.97,71.60 59.60,72.80 C58.23,74.00 57.20,75.15 56.00,75.90 C54.80,76.65 53.52,77.27 52.40,77.30 C51.28,77.33 50.63,76.55 49.30,76.10 C47.97,75.65 45.77,75.00 44.40,74.60 C43.03,74.20 41.97,73.37 41.10,73.70 C40.23,74.03 39.92,75.80 39.20,76.60 C38.48,77.40 37.85,78.58 36.80,78.50 C35.75,78.42 33.95,77.22 32.90,76.10 C31.85,74.97 30.82,72.88 30.50,71.75 C30.18,70.62 30.28,69.89 31.00,69.30 C31.72,68.71 33.52,68.32 34.80,68.20 C36.08,68.08 38.05,68.73 38.70,68.60 C39.35,68.47 39.18,67.83 38.70,67.40 C38.22,66.97 37.25,66.23 35.80,66.00 C34.35,65.77 31.77,65.85 30.00,66.00 C28.23,66.15 26.40,66.42 25.20,66.90 C24.00,67.38 23.20,68.82 22.80,68.90 C22.40,68.98 22.40,68.20 22.80,67.40 C23.20,66.60 24.72,65.22 25.20,64.10 C25.68,62.98 25.78,61.83 25.70,60.70 C25.62,59.57 25.50,58.10 24.70,57.30 C23.90,56.50 21.70,56.62 20.90,55.90 C20.10,55.18 20.20,53.68 19.90,53.00 C19.60,52.32 19.72,52.23 19.10,51.80 C18.48,51.37 17.25,51.03 16.20,50.40 C15.15,49.77 13.48,48.97 12.80,48.00 C12.12,47.03 12.10,45.72 12.10,44.60 C12.10,43.48 12.28,42.42 12.80,41.30 C13.32,40.18 14.15,38.78 15.20,37.90 C16.25,37.02 17.82,36.32 19.10,36.00 C20.38,35.68 21.78,35.85 22.90,36.00 C24.02,36.15 25.23,37.07 25.80,36.90Z"/><path d="M55.50,10.80 C54.78,10.63 53.03,10.55 52.00,11.00 C50.97,11.45 50.20,12.38 49.30,13.50 C48.40,14.62 47.12,16.62 46.60,17.70 C46.08,18.78 45.88,19.30 46.20,20.00 C46.52,20.70 47.53,21.65 48.50,21.90 C49.47,22.15 50.90,21.82 52.00,21.50 C53.10,21.18 54.40,20.70 55.10,20.00 C55.80,19.30 55.95,18.27 56.20,17.30 C56.45,16.33 56.58,15.08 56.60,14.20 C56.62,13.32 56.48,12.57 56.30,12.00 C56.12,11.43 56.22,10.97 55.50,10.80Z"/><path d="M56.20,10.00 C56.47,9.40 57.48,8.32 58.20,7.90 C58.92,7.48 59.62,7.40 60.50,7.50 C61.38,7.60 62.72,8.02 63.50,8.50 C64.28,8.98 65.07,9.80 65.20,10.40 C65.33,11.00 64.97,11.65 64.30,12.10 C63.63,12.55 62.22,13.00 61.20,13.10 C60.18,13.20 58.97,12.97 58.20,12.70 C57.43,12.43 56.93,11.95 56.60,11.50 C56.27,11.05 55.93,10.60 56.20,10.00Z"/><ellipse cx="24.6" cy="75.8" rx="3.9" ry="1.9" transform="rotate(45 24.6 75.8)"/><ellipse cx="42.6" cy="89.1" rx="3.6" ry="2.1" transform="rotate(35 42.6 89.1)"/><ellipse cx="65.5" cy="82.3" rx="4.9" ry="2.1" transform="rotate(-42 65.5 82.3)"/><ellipse cx="70.9" cy="73.4" rx="2.2" ry="2.5" transform="rotate(0 70.9 73.4)"/><ellipse cx="73.8" cy="44.2" rx="2.9" ry="2.6" transform="rotate(0 73.8 44.2)"/><ellipse cx="85.4" cy="47.3" rx="1.9" ry="1.9" transform="rotate(0 85.4 47.3)"/><ellipse cx="87.6" cy="38.8" rx="3.3" ry="4.0" transform="rotate(-30 87.6 38.8)"/><ellipse cx="72.6" cy="35.3" rx="7.0" ry="3.3" transform="rotate(38 72.6 35.3)"/><ellipse cx="39.9" cy="20.0" rx="4.9" ry="2.4" transform="rotate(-38 39.9 20.0)"/><ellipse cx="63.6" cy="23.2" rx="5.3" ry="2.4" transform="rotate(-60 63.6 23.2)"/><ellipse cx="75.8" cy="22.1" rx="4.4" ry="5.4" transform="rotate(-12 75.8 22.1)"/></g><circle cx="58.5" cy="36.5" r="1.25" fill="#1e1e1e"/><circle cx="44" cy="25.8" r="0.62" fill="#444"/><circle cx="55.1" cy="25.8" r="0.62" fill="#444"/></g></g><rect x="0" y="0" width="98.0" height="98.1" fill="none" stroke="#222" stroke-width="1.1"/><line x1="-3" x2="0" y1="4.95" y2="4.95" stroke="#222" stroke-width="0.9"/><text transform="translate(-5.90 7.35) scale(0.850 1)" text-anchor="end" font-size="6.70" fill="#2a2a2a">15</text><line x1="-3" x2="0" y1="19.80" y2="19.80" stroke="#222" stroke-width="0.9"/><text transform="translate(-5.90 22.20) scale(0.850 1)" text-anchor="end" font-size="6.70" fill="#2a2a2a">10</text><line x1="-3" x2="0" y1="34.65" y2="34.65" stroke="#222" stroke-width="0.9"/><text transform="translate(-5.90 37.05) scale(0.850 1)" text-anchor="end" font-size="6.70" fill="#2a2a2a">5</text><line x1="-3" x2="0" y1="49.50" y2="49.50" stroke="#222" stroke-width="0.9"/><text transform="translate(-5.90 51.90) scale(0.850 1)" text-anchor="end" font-size="6.70" fill="#2a2a2a">0</text><line x1="-3" x2="0" y1="64.35" y2="64.35" stroke="#222" stroke-width="0.9"/><text transform="translate(-5.90 66.75) scale(0.850 1)" text-anchor="end" font-size="6.70" fill="#2a2a2a">−5</text><line x1="-3" x2="0" y1="79.20" y2="79.20" stroke="#222" stroke-width="0.9"/><text transform="translate(-5.90 81.60) scale(0.850 1)" text-anchor="end" font-size="6.70" fill="#2a2a2a">−10</text><line x1="-3" x2="0" y1="94.05" y2="94.05" stroke="#222" stroke-width="0.9"/><text transform="translate(-5.90 96.45) scale(0.850 1)" text-anchor="end" font-size="6.70" fill="#2a2a2a">−15</text><line x1="25.15" x2="25.15" y1="98.1" y2="101.1" stroke="#222" stroke-width="0.9"/><text transform="translate(25.15 110.60) scale(0.850 1)" text-anchor="middle" font-size="6.70" fill="#2a2a2a">−10</text><line x1="50.60" x2="50.60" y1="98.1" y2="101.1" stroke="#222" stroke-width="0.9"/><text transform="translate(50.60 110.60) scale(0.850 1)" text-anchor="middle" font-size="6.70" fill="#2a2a2a">0</text><line x1="76.05" x2="76.05" y1="98.1" y2="101.1" stroke="#222" stroke-width="0.9"/><text transform="translate(76.05 110.60) scale(0.850 1)" text-anchor="middle" font-size="6.70" fill="#2a2a2a">10</text><text x="5.7" y="13.3" font-size="8.25" font-weight="bold" fill="#8e2a2a">E</text></g><g transform="translate(414.40 258.70)"><g clip-path="url(#pc)"><g transform="translate(0.90 0.60)"><path d="M44.5,87.5 42.0,87.3 39.5,86.8 37.0,85.8 35.0,84.6 33.0,83.1 31.0,81.1 27.9,76.5 25.6,71.0 24.5,64.5 24.5,58.0 25.8,51.5 27.2,47.5 29.1,43.5 31.3,40.0 35.4,34.5 37.9,28.0 38.8,26.5 40.0,25.2 41.5,24.3 42.5,24.0 45.0,24.2 47.0,25.3 50.0,27.8 51.5,28.8 57.0,31.1 59.0,31.3 59.4,30.5 59.4,24.5 60.1,21.0 61.0,19.3 62.0,18.1 63.0,17.6 64.5,17.4 66.0,18.3 67.4,20.5 68.0,23.0 67.9,26.0 67.3,28.5 66.2,30.5 65.0,31.9 62.5,33.5 62.1,34.5 62.7,36.5 66.9,45.5 68.7,52.0 69.2,56.0 69.3,59.5 68.9,63.5 68.1,67.0 66.7,71.0 64.6,75.0 62.0,78.5 59.0,81.6 55.5,84.1 52.0,85.9 48.0,87.2 44.5,87.5Z" fill="#f0f5ef" fill-rule="evenodd"/><path d="M48.5,81.6 45.0,81.9 41.5,81.4 38.5,80.2 35.5,78.0 33.0,75.3 31.0,72.0 29.6,68.0 28.9,64.0 28.7,61.0 29.0,57.5 29.7,54.0 30.7,51.0 32.1,48.0 33.9,45.0 39.5,38.3 40.0,36.5 39.8,32.5 40.1,30.5 41.1,28.5 42.0,27.8 43.0,27.5 44.5,27.8 45.8,29.0 46.6,30.5 47.7,34.0 48.5,35.1 55.0,38.2 57.5,40.2 59.6,42.5 61.6,45.5 63.2,49.0 64.3,52.5 64.9,56.0 65.0,60.5 64.4,65.0 63.0,69.0 61.1,72.5 58.5,75.8 55.5,78.4 52.0,80.4 48.5,81.6Z" fill="#e0eadf" fill-rule="evenodd"/><path d="M48.0,78.5 45.0,78.7 42.0,78.1 39.0,76.8 36.5,74.8 34.3,72.0 32.8,69.0 31.8,65.5 31.4,62.0 31.6,58.0 32.3,54.5 33.6,51.0 35.5,47.7 38.0,44.7 41.0,42.2 44.0,40.5 46.5,40.0 49.5,40.2 52.5,41.1 55.0,42.6 57.5,45.0 59.6,48.0 61.2,51.5 62.2,55.0 62.6,58.5 62.4,62.0 61.6,65.5 60.5,68.5 58.7,71.5 56.5,74.0 54.0,76.1 51.0,77.7 48.0,78.5Z" fill="#d4e2d2" fill-rule="evenodd"/><path d="M48.5,76.0 45.5,76.3 43.0,75.9 40.5,74.9 38.0,73.0 36.0,70.5 34.7,68.0 33.8,65.0 33.4,62.0 33.4,59.0 34.1,55.5 35.2,52.5 37.0,49.4 39.0,47.0 41.5,45.0 44.0,43.7 47.0,43.0 49.5,43.2 52.0,44.0 54.0,45.1 56.1,47.0 57.9,49.5 59.2,52.0 60.1,55.0 60.6,58.5 60.5,61.5 59.9,64.5 58.8,67.5 57.5,69.7 55.6,72.0 53.5,73.8 51.0,75.2 48.5,76.0Z" fill="#c8dac6" fill-rule="evenodd"/><path d="M48.5,74.0 46.0,74.3 43.5,73.9 41.5,73.1 39.5,71.7 37.9,70.0 36.4,67.5 35.6,65.0 35.1,62.0 35.2,59.0 35.8,56.0 36.7,53.5 38.1,51.0 40.0,48.8 42.0,47.1 44.5,45.9 47.0,45.4 49.5,45.6 51.5,46.2 53.5,47.5 55.0,48.8 56.5,50.8 57.7,53.0 58.5,55.5 58.9,58.5 58.8,61.5 58.3,64.0 57.4,66.5 56.2,68.5 54.6,70.5 52.9,72.0 51.0,73.1 48.5,74.0Z" fill="#bdd2bb" fill-rule="evenodd"/><path d="M49.0,72.0 47.0,72.4 45.0,72.3 43.0,71.7 40.9,70.5 39.4,69.0 38.1,67.0 37.1,64.5 36.7,62.0 36.8,59.0 37.3,56.5 38.3,54.0 39.5,52.0 41.0,50.3 43.0,48.8 45.0,47.9 47.0,47.5 49.0,47.6 50.5,48.0 52.5,49.1 54.0,50.4 55.2,52.0 56.3,54.0 57.0,56.0 57.4,58.5 57.3,61.0 57.0,63.0 55.3,67.0 54.0,68.8 52.5,70.2 51.0,71.2 49.0,72.0Z" fill="#b3cbb0" fill-rule="evenodd"/><path d="M48.0,70.5 46.0,70.6 44.5,70.4 43.0,69.8 41.2,68.5 40.0,67.0 39.1,65.5 38.5,63.5 38.2,61.5 38.3,59.0 38.7,57.0 40.5,53.4 42.0,51.7 43.5,50.6 45.0,49.8 47.0,49.4 50.0,49.9 51.5,50.7 53.0,51.9 55.0,55.0 55.6,57.0 55.9,59.0 55.5,63.0 53.8,66.5 51.4,69.0 49.7,70.0 48.0,70.5Z" fill="#a8c4a5" fill-rule="evenodd"/><path d="M48.5,68.6 47.0,68.8 45.5,68.7 44.0,68.3 42.8,67.5 40.7,65.0 40.1,63.5 39.7,61.5 40.1,58.0 41.5,54.8 42.6,53.5 44.0,52.4 45.5,51.7 47.0,51.4 49.5,51.7 52.0,53.4 53.7,56.0 54.4,59.0 54.2,62.0 53.0,65.0 51.0,67.2 48.5,68.6Z" fill="#9ebd9b" fill-rule="evenodd"/><path d="M48.5,66.6 46.0,66.8 44.0,66.0 42.5,64.5 41.5,61.8 41.5,59.0 42.5,56.5 44.3,54.5 46.5,53.5 48.5,53.6 50.5,54.6 51.9,56.5 52.6,58.5 52.7,61.0 51.9,63.5 50.5,65.3 48.5,66.6Z" fill="#95b791" fill-rule="evenodd"/><path d="M48.5,64.0 47.0,64.5 45.5,64.1 44.3,63.0 43.6,61.5 43.6,59.5 44.1,58.0 45.0,56.9 46.5,56.1 48.0,56.1 49.0,56.5 50.0,57.6 50.5,59.0 50.6,60.5 50.2,62.0 49.5,63.2 48.5,64.0Z" fill="#8bb087" fill-rule="evenodd"/><g id="ct" fill="none" stroke="#1c1c1c" stroke-width="1.15"><path d="M25.80,36.90 C26.37,36.73 26.07,35.72 26.30,35.00 C26.53,34.28 26.65,33.18 27.20,32.60 C27.75,32.02 28.72,31.58 29.60,31.50 C30.48,31.42 31.70,31.75 32.50,32.10 C33.30,32.45 33.75,33.10 34.40,33.60 C35.05,34.10 35.12,34.95 36.40,35.10 C37.68,35.25 40.18,34.83 42.10,34.50 C44.02,34.17 46.00,33.60 47.90,33.10 C49.80,32.60 51.68,31.67 53.50,31.50 C55.32,31.33 57.33,31.58 58.80,32.10 C60.27,32.62 61.25,33.47 62.30,34.60 C63.35,35.73 64.12,37.67 65.10,38.90 C66.08,40.13 67.38,41.02 68.20,42.00 C69.02,42.98 69.85,43.88 70.00,44.80 C70.15,45.72 69.17,46.68 69.10,47.50 C69.03,48.32 69.07,49.22 69.60,49.70 C70.13,50.18 71.25,50.55 72.30,50.40 C73.35,50.25 74.85,49.28 75.90,48.80 C76.95,48.32 77.70,47.65 78.60,47.50 C79.50,47.35 80.62,47.38 81.30,47.90 C81.98,48.42 82.62,49.62 82.70,50.60 C82.78,51.58 82.48,52.97 81.80,53.80 C81.12,54.63 79.65,55.07 78.60,55.60 C77.55,56.13 76.17,56.47 75.50,57.00 C74.83,57.53 74.23,58.35 74.60,58.80 C74.97,59.25 76.95,59.25 77.70,59.70 C78.45,60.15 79.17,60.83 79.10,61.50 C79.03,62.17 78.13,63.10 77.30,63.70 C76.47,64.30 75.53,64.63 74.10,65.10 C72.67,65.57 70.35,65.90 68.70,66.50 C67.05,67.10 65.72,67.65 64.20,68.70 C62.68,69.75 60.97,71.60 59.60,72.80 C58.23,74.00 57.20,75.15 56.00,75.90 C54.80,76.65 53.52,77.27 52.40,77.30 C51.28,77.33 50.63,76.55 49.30,76.10 C47.97,75.65 45.77,75.00 44.40,74.60 C43.03,74.20 41.97,73.37 41.10,73.70 C40.23,74.03 39.92,75.80 39.20,76.60 C38.48,77.40 37.85,78.58 36.80,78.50 C35.75,78.42 33.95,77.22 32.90,76.10 C31.85,74.97 30.82,72.88 30.50,71.75 C30.18,70.62 30.28,69.89 31.00,69.30 C31.72,68.71 33.52,68.32 34.80,68.20 C36.08,68.08 38.05,68.73 38.70,68.60 C39.35,68.47 39.18,67.83 38.70,67.40 C38.22,66.97 37.25,66.23 35.80,66.00 C34.35,65.77 31.77,65.85 30.00,66.00 C28.23,66.15 26.40,66.42 25.20,66.90 C24.00,67.38 23.20,68.82 22.80,68.90 C22.40,68.98 22.40,68.20 22.80,67.40 C23.20,66.60 24.72,65.22 25.20,64.10 C25.68,62.98 25.78,61.83 25.70,60.70 C25.62,59.57 25.50,58.10 24.70,57.30 C23.90,56.50 21.70,56.62 20.90,55.90 C20.10,55.18 20.20,53.68 19.90,53.00 C19.60,52.32 19.72,52.23 19.10,51.80 C18.48,51.37 17.25,51.03 16.20,50.40 C15.15,49.77 13.48,48.97 12.80,48.00 C12.12,47.03 12.10,45.72 12.10,44.60 C12.10,43.48 12.28,42.42 12.80,41.30 C13.32,40.18 14.15,38.78 15.20,37.90 C16.25,37.02 17.82,36.32 19.10,36.00 C20.38,35.68 21.78,35.85 22.90,36.00 C24.02,36.15 25.23,37.07 25.80,36.90Z"/><path d="M55.50,10.80 C54.78,10.63 53.03,10.55 52.00,11.00 C50.97,11.45 50.20,12.38 49.30,13.50 C48.40,14.62 47.12,16.62 46.60,17.70 C46.08,18.78 45.88,19.30 46.20,20.00 C46.52,20.70 47.53,21.65 48.50,21.90 C49.47,22.15 50.90,21.82 52.00,21.50 C53.10,21.18 54.40,20.70 55.10,20.00 C55.80,19.30 55.95,18.27 56.20,17.30 C56.45,16.33 56.58,15.08 56.60,14.20 C56.62,13.32 56.48,12.57 56.30,12.00 C56.12,11.43 56.22,10.97 55.50,10.80Z"/><path d="M56.20,10.00 C56.47,9.40 57.48,8.32 58.20,7.90 C58.92,7.48 59.62,7.40 60.50,7.50 C61.38,7.60 62.72,8.02 63.50,8.50 C64.28,8.98 65.07,9.80 65.20,10.40 C65.33,11.00 64.97,11.65 64.30,12.10 C63.63,12.55 62.22,13.00 61.20,13.10 C60.18,13.20 58.97,12.97 58.20,12.70 C57.43,12.43 56.93,11.95 56.60,11.50 C56.27,11.05 55.93,10.60 56.20,10.00Z"/><ellipse cx="24.6" cy="75.8" rx="3.9" ry="1.9" transform="rotate(45 24.6 75.8)"/><ellipse cx="42.6" cy="89.1" rx="3.6" ry="2.1" transform="rotate(35 42.6 89.1)"/><ellipse cx="65.5" cy="82.3" rx="4.9" ry="2.1" transform="rotate(-42 65.5 82.3)"/><ellipse cx="70.9" cy="73.4" rx="2.2" ry="2.5" transform="rotate(0 70.9 73.4)"/><ellipse cx="73.8" cy="44.2" rx="2.9" ry="2.6" transform="rotate(0 73.8 44.2)"/><ellipse cx="85.4" cy="47.3" rx="1.9" ry="1.9" transform="rotate(0 85.4 47.3)"/><ellipse cx="87.6" cy="38.8" rx="3.3" ry="4.0" transform="rotate(-30 87.6 38.8)"/><ellipse cx="72.6" cy="35.3" rx="7.0" ry="3.3" transform="rotate(38 72.6 35.3)"/><ellipse cx="39.9" cy="20.0" rx="4.9" ry="2.4" transform="rotate(-38 39.9 20.0)"/><ellipse cx="63.6" cy="23.2" rx="5.3" ry="2.4" transform="rotate(-60 63.6 23.2)"/><ellipse cx="75.8" cy="22.1" rx="4.4" ry="5.4" transform="rotate(-12 75.8 22.1)"/></g><circle cx="58.5" cy="36.5" r="1.25" fill="#1e1e1e"/><circle cx="44" cy="25.8" r="0.62" fill="#444"/><circle cx="55.1" cy="25.8" r="0.62" fill="#444"/></g></g><rect x="0" y="0" width="98.0" height="98.1" fill="none" stroke="#222" stroke-width="1.1"/><line x1="-3" x2="0" y1="4.95" y2="4.95" stroke="#222" stroke-width="0.9"/><text transform="translate(-5.90 7.35) scale(0.850 1)" text-anchor="end" font-size="6.70" fill="#2a2a2a">15</text><line x1="-3" x2="0" y1="19.80" y2="19.80" stroke="#222" stroke-width="0.9"/><text transform="translate(-5.90 22.20) scale(0.850 1)" text-anchor="end" font-size="6.70" fill="#2a2a2a">10</text><line x1="-3" x2="0" y1="34.65" y2="34.65" stroke="#222" stroke-width="0.9"/><text transform="translate(-5.90 37.05) scale(0.850 1)" text-anchor="end" font-size="6.70" fill="#2a2a2a">5</text><line x1="-3" x2="0" y1="49.50" y2="49.50" stroke="#222" stroke-width="0.9"/><text transform="translate(-5.90 51.90) scale(0.850 1)" text-anchor="end" font-size="6.70" fill="#2a2a2a">0</text><line x1="-3" x2="0" y1="64.35" y2="64.35" stroke="#222" stroke-width="0.9"/><text transform="translate(-5.90 66.75) scale(0.850 1)" text-anchor="end" font-size="6.70" fill="#2a2a2a">−5</text><line x1="-3" x2="0" y1="79.20" y2="79.20" stroke="#222" stroke-width="0.9"/><text transform="translate(-5.90 81.60) scale(0.850 1)" text-anchor="end" font-size="6.70" fill="#2a2a2a">−10</text><line x1="-3" x2="0" y1="94.05" y2="94.05" stroke="#222" stroke-width="0.9"/><text transform="translate(-5.90 96.45) scale(0.850 1)" text-anchor="end" font-size="6.70" fill="#2a2a2a">−15</text><line x1="25.15" x2="25.15" y1="98.1" y2="101.1" stroke="#222" stroke-width="0.9"/><text transform="translate(25.15 110.60) scale(0.850 1)" text-anchor="middle" font-size="6.70" fill="#2a2a2a">−10</text><line x1="50.60" x2="50.60" y1="98.1" y2="101.1" stroke="#222" stroke-width="0.9"/><text transform="translate(50.60 110.60) scale(0.850 1)" text-anchor="middle" font-size="6.70" fill="#2a2a2a">0</text><line x1="76.05" x2="76.05" y1="98.1" y2="101.1" stroke="#222" stroke-width="0.9"/><text transform="translate(76.05 110.60) scale(0.850 1)" text-anchor="middle" font-size="6.70" fill="#2a2a2a">10</text><text x="5.7" y="13.3" font-size="8.25" font-weight="bold" fill="#8fb07a">B+7</text></g><g transform="translate(51.30 374.00)"><g clip-path="url(#pc)"><g transform="translate(0.90 0.60)"><path d="M41.0,94.1 36.5,94.3 32.0,93.4 28.0,91.5 24.5,88.8 21.8,85.5 19.7,81.5 18.6,77.0 18.6,72.5 19.7,66.5 23.2,53.5 25.1,48.0 27.4,43.0 31.1,37.0 37.5,28.7 40.7,21.5 42.2,19.0 43.5,17.6 45.0,16.5 46.5,16.0 48.0,15.9 49.5,16.3 51.0,17.1 56.5,21.6 62.5,24.6 69.0,29.2 77.0,32.2 79.0,33.2 81.5,35.5 82.1,37.0 82.2,38.5 81.8,40.0 80.8,41.5 76.1,45.5 75.0,47.0 74.4,49.0 73.4,57.0 71.8,62.5 68.8,69.0 64.3,76.0 58.0,83.6 52.5,88.7 49.5,90.8 47.0,92.2 44.0,93.4 41.0,94.1Z" fill="#e7eef0" fill-rule="evenodd"/><path d="M41.0,88.1 37.5,88.5 34.0,88.0 31.0,86.9 28.0,85.0 25.7,82.5 24.1,79.5 23.4,76.5 23.4,73.0 24.4,68.5 27.1,61.0 29.9,52.0 31.7,47.5 35.1,41.5 41.5,33.0 42.4,30.5 43.5,25.4 44.5,23.1 46.0,21.6 47.5,21.2 48.5,21.5 49.9,22.5 53.0,27.1 55.0,28.8 66.0,33.7 73.0,34.9 74.9,35.5 76.8,37.0 77.1,38.5 76.3,40.0 72.0,43.0 70.9,44.5 70.4,46.5 69.9,54.0 68.9,58.5 66.8,64.0 63.7,69.0 59.0,74.6 50.0,83.5 45.5,86.5 41.0,88.1Z" fill="#ccdbde" fill-rule="evenodd"/><path d="M39.0,85.1 36.5,85.1 34.5,84.8 32.5,84.1 30.7,83.0 29.0,81.5 27.9,80.0 27.0,78.0 26.5,76.0 26.5,73.5 27.1,70.5 31.0,61.5 34.4,50.5 36.2,46.5 38.7,42.5 47.5,32.2 48.5,31.7 49.5,31.8 58.5,34.3 61.5,35.7 65.5,38.0 66.7,39.0 67.2,40.0 67.6,52.5 67.1,56.0 65.9,60.0 64.0,64.0 61.0,68.1 48.7,80.0 46.3,82.0 44.0,83.5 41.5,84.5 39.0,85.1Z" fill="#b8cdd0" fill-rule="evenodd"/><path d="M40.0,82.1 36.5,82.4 34.5,81.9 33.0,81.3 31.5,80.1 30.5,79.0 29.7,77.5 29.2,75.5 29.3,73.5 29.7,71.5 34.1,62.5 36.2,54.0 37.5,50.0 39.2,46.5 41.5,43.1 44.0,40.3 47.0,37.8 49.5,36.5 52.0,36.1 55.0,36.3 58.0,37.1 60.5,38.4 62.5,40.0 63.9,42.0 64.9,44.5 65.7,48.5 65.8,52.0 65.3,55.5 64.3,59.0 62.0,63.5 58.5,67.6 50.7,74.0 45.0,79.5 42.5,81.1 40.0,82.1Z" fill="#a6c1c5" fill-rule="evenodd"/><path d="M39.0,79.5 36.5,79.6 34.0,78.5 32.5,76.5 32.1,74.0 33.0,71.0 35.8,66.5 36.9,64.0 38.6,54.0 40.6,48.5 42.0,46.0 44.0,43.4 46.0,41.4 48.5,39.8 50.5,38.9 53.0,38.5 55.5,38.7 58.0,39.6 60.0,40.9 61.6,42.5 62.7,44.5 63.7,47.5 64.2,50.5 64.1,53.5 63.5,56.5 62.3,59.5 60.0,63.3 57.0,66.5 48.5,72.2 42.3,78.0 40.6,79.0 39.0,79.5Z" fill="#95b5b9" fill-rule="evenodd"/><path d="M39.0,75.1 37.5,75.0 37.0,74.5 36.8,73.5 37.3,72.0 39.5,69.1 40.2,67.5 40.4,65.5 40.3,59.0 40.5,55.5 41.4,51.5 43.0,48.0 44.3,46.0 46.0,44.0 47.5,42.7 49.5,41.5 51.5,40.9 53.5,40.6 55.5,40.9 57.5,41.6 59.4,43.0 60.7,44.5 61.9,47.0 62.5,49.5 62.7,52.0 62.3,55.0 61.6,57.5 60.5,59.8 58.2,63.0 55.5,65.4 52.0,67.4 44.1,70.5 42.8,71.5 40.5,74.1 39.0,75.1Z" fill="#85a9af" fill-rule="evenodd"/><path d="M50.5,65.5 48.5,65.8 46.5,65.5 45.0,64.7 44.0,63.5 43.1,61.5 42.5,59.0 42.4,56.5 42.8,53.5 43.5,51.0 44.5,48.8 46.0,46.6 47.5,45.0 49.0,43.9 51.0,43.0 53.0,42.6 55.0,42.7 56.5,43.3 58.0,44.2 60.0,46.7 60.7,48.5 61.1,50.5 61.0,54.5 59.6,58.5 57.5,61.5 54.5,63.9 52.5,64.9 50.5,65.5Z" fill="#769fa5" fill-rule="evenodd"/><path d="M51.5,63.1 50.0,63.2 48.5,63.0 47.0,62.3 46.0,61.3 45.2,60.0 44.6,58.0 44.5,54.0 45.8,50.0 48.0,46.9 49.5,45.7 51.0,45.0 52.5,44.6 54.0,44.5 56.5,45.4 58.5,47.5 59.6,50.5 59.7,53.5 58.7,57.0 57.0,59.7 54.5,61.9 51.5,63.1Z" fill="#67949b" fill-rule="evenodd"/><path d="M52.5,60.6 50.0,60.7 48.0,59.7 46.7,57.5 46.4,54.5 47.1,51.5 48.6,49.0 51.0,47.1 53.5,46.6 55.5,47.2 57.0,48.6 57.9,50.5 58.1,53.0 57.6,55.5 56.5,57.6 54.7,59.5 52.5,60.6Z" fill="#588a91" fill-rule="evenodd"/><path d="M52.0,58.1 50.5,57.8 49.5,57.0 48.8,55.5 48.8,53.5 49.5,51.5 50.5,50.2 52.0,49.3 53.5,49.2 54.5,49.6 55.5,50.7 56.0,52.0 56.0,53.8 55.5,55.3 54.5,56.8 53.5,57.6 52.0,58.1Z" fill="#4a8088" fill-rule="evenodd"/><g id="ct" fill="none" stroke="#1c1c1c" stroke-width="1.15"><path d="M25.80,36.90 C26.37,36.73 26.07,35.72 26.30,35.00 C26.53,34.28 26.65,33.18 27.20,32.60 C27.75,32.02 28.72,31.58 29.60,31.50 C30.48,31.42 31.70,31.75 32.50,32.10 C33.30,32.45 33.75,33.10 34.40,33.60 C35.05,34.10 35.12,34.95 36.40,35.10 C37.68,35.25 40.18,34.83 42.10,34.50 C44.02,34.17 46.00,33.60 47.90,33.10 C49.80,32.60 51.68,31.67 53.50,31.50 C55.32,31.33 57.33,31.58 58.80,32.10 C60.27,32.62 61.25,33.47 62.30,34.60 C63.35,35.73 64.12,37.67 65.10,38.90 C66.08,40.13 67.38,41.02 68.20,42.00 C69.02,42.98 69.85,43.88 70.00,44.80 C70.15,45.72 69.17,46.68 69.10,47.50 C69.03,48.32 69.07,49.22 69.60,49.70 C70.13,50.18 71.25,50.55 72.30,50.40 C73.35,50.25 74.85,49.28 75.90,48.80 C76.95,48.32 77.70,47.65 78.60,47.50 C79.50,47.35 80.62,47.38 81.30,47.90 C81.98,48.42 82.62,49.62 82.70,50.60 C82.78,51.58 82.48,52.97 81.80,53.80 C81.12,54.63 79.65,55.07 78.60,55.60 C77.55,56.13 76.17,56.47 75.50,57.00 C74.83,57.53 74.23,58.35 74.60,58.80 C74.97,59.25 76.95,59.25 77.70,59.70 C78.45,60.15 79.17,60.83 79.10,61.50 C79.03,62.17 78.13,63.10 77.30,63.70 C76.47,64.30 75.53,64.63 74.10,65.10 C72.67,65.57 70.35,65.90 68.70,66.50 C67.05,67.10 65.72,67.65 64.20,68.70 C62.68,69.75 60.97,71.60 59.60,72.80 C58.23,74.00 57.20,75.15 56.00,75.90 C54.80,76.65 53.52,77.27 52.40,77.30 C51.28,77.33 50.63,76.55 49.30,76.10 C47.97,75.65 45.77,75.00 44.40,74.60 C43.03,74.20 41.97,73.37 41.10,73.70 C40.23,74.03 39.92,75.80 39.20,76.60 C38.48,77.40 37.85,78.58 36.80,78.50 C35.75,78.42 33.95,77.22 32.90,76.10 C31.85,74.97 30.82,72.88 30.50,71.75 C30.18,70.62 30.28,69.89 31.00,69.30 C31.72,68.71 33.52,68.32 34.80,68.20 C36.08,68.08 38.05,68.73 38.70,68.60 C39.35,68.47 39.18,67.83 38.70,67.40 C38.22,66.97 37.25,66.23 35.80,66.00 C34.35,65.77 31.77,65.85 30.00,66.00 C28.23,66.15 26.40,66.42 25.20,66.90 C24.00,67.38 23.20,68.82 22.80,68.90 C22.40,68.98 22.40,68.20 22.80,67.40 C23.20,66.60 24.72,65.22 25.20,64.10 C25.68,62.98 25.78,61.83 25.70,60.70 C25.62,59.57 25.50,58.10 24.70,57.30 C23.90,56.50 21.70,56.62 20.90,55.90 C20.10,55.18 20.20,53.68 19.90,53.00 C19.60,52.32 19.72,52.23 19.10,51.80 C18.48,51.37 17.25,51.03 16.20,50.40 C15.15,49.77 13.48,48.97 12.80,48.00 C12.12,47.03 12.10,45.72 12.10,44.60 C12.10,43.48 12.28,42.42 12.80,41.30 C13.32,40.18 14.15,38.78 15.20,37.90 C16.25,37.02 17.82,36.32 19.10,36.00 C20.38,35.68 21.78,35.85 22.90,36.00 C24.02,36.15 25.23,37.07 25.80,36.90Z"/><path d="M55.50,10.80 C54.78,10.63 53.03,10.55 52.00,11.00 C50.97,11.45 50.20,12.38 49.30,13.50 C48.40,14.62 47.12,16.62 46.60,17.70 C46.08,18.78 45.88,19.30 46.20,20.00 C46.52,20.70 47.53,21.65 48.50,21.90 C49.47,22.15 50.90,21.82 52.00,21.50 C53.10,21.18 54.40,20.70 55.10,20.00 C55.80,19.30 55.95,18.27 56.20,17.30 C56.45,16.33 56.58,15.08 56.60,14.20 C56.62,13.32 56.48,12.57 56.30,12.00 C56.12,11.43 56.22,10.97 55.50,10.80Z"/><path d="M56.20,10.00 C56.47,9.40 57.48,8.32 58.20,7.90 C58.92,7.48 59.62,7.40 60.50,7.50 C61.38,7.60 62.72,8.02 63.50,8.50 C64.28,8.98 65.07,9.80 65.20,10.40 C65.33,11.00 64.97,11.65 64.30,12.10 C63.63,12.55 62.22,13.00 61.20,13.10 C60.18,13.20 58.97,12.97 58.20,12.70 C57.43,12.43 56.93,11.95 56.60,11.50 C56.27,11.05 55.93,10.60 56.20,10.00Z"/><ellipse cx="24.6" cy="75.8" rx="3.9" ry="1.9" transform="rotate(45 24.6 75.8)"/><ellipse cx="42.6" cy="89.1" rx="3.6" ry="2.1" transform="rotate(35 42.6 89.1)"/><ellipse cx="65.5" cy="82.3" rx="4.9" ry="2.1" transform="rotate(-42 65.5 82.3)"/><ellipse cx="70.9" cy="73.4" rx="2.2" ry="2.5" transform="rotate(0 70.9 73.4)"/><ellipse cx="73.8" cy="44.2" rx="2.9" ry="2.6" transform="rotate(0 73.8 44.2)"/><ellipse cx="85.4" cy="47.3" rx="1.9" ry="1.9" transform="rotate(0 85.4 47.3)"/><ellipse cx="87.6" cy="38.8" rx="3.3" ry="4.0" transform="rotate(-30 87.6 38.8)"/><ellipse cx="72.6" cy="35.3" rx="7.0" ry="3.3" transform="rotate(38 72.6 35.3)"/><ellipse cx="39.9" cy="20.0" rx="4.9" ry="2.4" transform="rotate(-38 39.9 20.0)"/><ellipse cx="63.6" cy="23.2" rx="5.3" ry="2.4" transform="rotate(-60 63.6 23.2)"/><ellipse cx="75.8" cy="22.1" rx="4.4" ry="5.4" transform="rotate(-12 75.8 22.1)"/></g><circle cx="58.5" cy="36.5" r="1.25" fill="#1e1e1e"/><circle cx="44" cy="25.8" r="0.62" fill="#444"/><circle cx="55.1" cy="25.8" r="0.62" fill="#444"/></g></g><rect x="0" y="0" width="98.0" height="98.1" fill="none" stroke="#222" stroke-width="1.1"/><line x1="-3" x2="0" y1="4.95" y2="4.95" stroke="#222" stroke-width="0.9"/><text transform="translate(-5.90 7.35) scale(0.850 1)" text-anchor="end" font-size="6.70" fill="#2a2a2a">15</text><line x1="-3" x2="0" y1="19.80" y2="19.80" stroke="#222" stroke-width="0.9"/><text transform="translate(-5.90 22.20) scale(0.850 1)" text-anchor="end" font-size="6.70" fill="#2a2a2a">10</text><line x1="-3" x2="0" y1="34.65" y2="34.65" stroke="#222" stroke-width="0.9"/><text transform="translate(-5.90 37.05) scale(0.850 1)" text-anchor="end" font-size="6.70" fill="#2a2a2a">5</text><line x1="-3" x2="0" y1="49.50" y2="49.50" stroke="#222" stroke-width="0.9"/><text transform="translate(-5.90 51.90) scale(0.850 1)" text-anchor="end" font-size="6.70" fill="#2a2a2a">0</text><line x1="-3" x2="0" y1="64.35" y2="64.35" stroke="#222" stroke-width="0.9"/><text transform="translate(-5.90 66.75) scale(0.850 1)" text-anchor="end" font-size="6.70" fill="#2a2a2a">−5</text><line x1="-3" x2="0" y1="79.20" y2="79.20" stroke="#222" stroke-width="0.9"/><text transform="translate(-5.90 81.60) scale(0.850 1)" text-anchor="end" font-size="6.70" fill="#2a2a2a">−10</text><line x1="-3" x2="0" y1="94.05" y2="94.05" stroke="#222" stroke-width="0.9"/><text transform="translate(-5.90 96.45) scale(0.850 1)" text-anchor="end" font-size="6.70" fill="#2a2a2a">−15</text><line x1="25.15" x2="25.15" y1="98.1" y2="101.1" stroke="#222" stroke-width="0.9"/><text transform="translate(25.15 110.60) scale(0.850 1)" text-anchor="middle" font-size="6.70" fill="#2a2a2a">−10</text><line x1="50.60" x2="50.60" y1="98.1" y2="101.1" stroke="#222" stroke-width="0.9"/><text transform="translate(50.60 110.60) scale(0.850 1)" text-anchor="middle" font-size="6.70" fill="#2a2a2a">0</text><line x1="76.05" x2="76.05" y1="98.1" y2="101.1" stroke="#222" stroke-width="0.9"/><text transform="translate(76.05 110.60) scale(0.850 1)" text-anchor="middle" font-size="6.70" fill="#2a2a2a">10</text><text x="7.6" y="13.3" font-size="8.25" font-weight="bold" fill="#3f8a93">B</text></g><g transform="translate(172.60 374.00)"><g clip-path="url(#pc)"><g transform="translate(0.90 0.60)"><path d="M51.0,95.0 48.0,94.8 45.0,94.2 39.5,91.9 36.0,89.7 33.5,87.7 31.4,85.5 29.7,83.0 28.7,80.5 28.3,77.5 28.4,71.0 28.0,60.5 28.6,53.0 31.2,38.5 32.2,35.5 34.0,32.6 39.4,27.5 47.0,18.0 51.5,13.7 54.5,11.8 57.5,10.6 60.5,10.0 63.5,10.1 67.5,11.4 69.5,12.5 71.5,14.1 74.7,18.0 77.1,23.0 79.2,31.0 81.6,44.5 82.0,52.0 81.3,59.5 79.7,67.0 76.2,77.0 74.2,81.5 71.8,85.0 67.5,88.9 62.0,92.2 56.5,94.2 51.0,95.0Z" fill="#eef1f2" fill-rule="evenodd"/><path d="M51.0,89.0 48.0,88.8 45.5,88.4 41.0,86.6 37.5,84.0 36.3,82.5 35.3,80.5 34.8,77.5 35.4,71.0 35.3,60.5 36.7,49.5 36.3,47.5 34.6,43.0 34.5,39.5 35.5,36.8 36.5,35.7 37.5,35.1 39.5,34.7 43.0,35.3 44.0,35.1 45.0,34.4 47.5,31.4 52.7,23.0 54.4,21.0 56.0,19.6 59.0,18.0 61.0,17.6 62.5,17.7 65.0,18.4 67.5,20.3 69.4,23.0 70.7,26.5 74.2,49.0 74.3,54.5 73.8,59.5 72.6,65.0 68.3,78.0 66.2,82.0 63.5,84.7 60.0,86.9 55.5,88.4 51.0,89.0Z" fill="#dce3e5" fill-rule="evenodd"/><path d="M53.5,86.0 49.0,86.2 45.0,85.3 41.8,83.5 39.5,81.0 38.9,79.5 38.6,77.5 39.0,71.5 38.7,63.5 39.1,59.0 40.6,52.0 42.4,46.5 43.4,44.5 53.2,34.0 58.0,27.4 59.7,26.0 61.5,25.7 63.2,26.5 64.5,28.7 66.2,36.5 69.2,46.0 70.3,52.5 70.1,59.0 68.5,66.0 64.4,77.5 63.2,80.0 61.7,82.0 59.5,83.8 56.5,85.2 53.5,86.0ZM39.5,43.6 37.9,43.0 37.2,42.0 36.9,41.0 36.9,40.0 37.3,39.0 38.5,38.2 39.5,38.4 40.2,39.0 41.1,41.0 41.1,42.0 40.6,43.0 39.5,43.6Z" fill="#cdd8db" fill-rule="evenodd"/><path d="M52.0,84.1 48.5,83.9 45.6,83.0 43.4,81.5 42.0,79.5 41.5,77.0 41.5,71.8 41.1,65.5 41.4,59.5 42.3,55.5 43.7,51.5 45.5,48.0 47.5,45.3 50.5,42.3 53.5,40.2 56.5,39.0 59.0,38.9 61.0,39.7 63.0,41.5 64.7,44.0 66.2,47.0 67.1,50.0 67.7,53.5 67.8,57.0 67.4,60.5 65.7,67.0 61.6,77.0 60.3,79.5 59.0,81.0 57.0,82.5 54.5,83.6 52.0,84.1Z" fill="#c0cdd1" fill-rule="evenodd"/><path d="M51.5,82.0 49.0,81.9 47.0,81.1 45.5,80.0 44.3,78.0 42.9,65.5 43.3,59.5 44.1,56.0 45.3,53.0 47.0,49.9 49.0,47.3 51.0,45.4 53.5,43.9 56.0,43.1 58.0,43.2 60.0,43.9 61.5,45.0 63.0,46.7 64.3,49.0 65.1,51.5 65.7,54.5 65.8,57.5 65.4,61.0 64.8,64.0 63.5,67.5 58.4,78.0 57.2,79.5 55.5,80.8 53.5,81.7 51.5,82.0Z" fill="#b4c3c7" fill-rule="evenodd"/><path d="M52.0,79.5 50.5,79.6 48.8,79.0 47.6,78.0 46.8,76.5 44.7,66.5 44.5,63.0 44.8,60.0 45.5,57.0 46.5,54.5 47.8,52.0 49.5,49.8 51.5,47.9 53.5,46.7 55.5,46.1 57.5,46.1 59.0,46.6 60.5,47.7 61.7,49.0 62.8,51.0 63.5,53.0 64.0,55.5 64.1,58.0 63.8,61.0 63.1,64.0 62.0,67.0 57.5,75.0 55.0,78.1 53.5,79.1 52.0,79.5Z" fill="#a8babf" fill-rule="evenodd"/><path d="M53.0,75.6 51.5,75.9 50.0,75.3 49.0,74.1 48.0,72.3 46.9,69.5 46.2,66.5 46.0,64.0 46.2,61.0 47.5,56.0 48.5,54.0 50.0,51.9 51.5,50.4 53.0,49.4 55.0,48.7 56.5,48.6 58.0,49.0 59.5,49.9 61.4,52.5 62.4,56.0 62.4,60.5 61.2,65.0 59.2,69.0 56.0,73.2 54.5,74.7 53.0,75.6Z" fill="#9cb1b6" fill-rule="evenodd"/><path d="M52.5,72.0 51.5,71.9 50.5,71.3 49.5,70.2 48.5,68.5 47.5,64.5 47.7,60.5 48.9,56.5 51.0,53.4 53.5,51.5 55.0,51.0 56.5,51.0 58.5,52.0 59.5,53.1 60.2,54.5 61.0,58.0 60.8,61.5 59.5,65.4 57.5,68.7 55.0,71.1 53.5,71.9 52.5,72.0Z" fill="#90a8ad" fill-rule="evenodd"/><path d="M53.5,69.0 52.5,69.1 51.5,68.7 50.0,67.0 49.1,64.0 49.1,61.0 50.0,58.0 51.5,55.5 53.5,53.9 55.0,53.4 56.0,53.5 57.5,54.2 58.7,56.0 59.4,58.5 59.3,61.0 58.5,64.0 57.0,66.5 55.5,68.1 53.5,69.0Z" fill="#859fa5" fill-rule="evenodd"/><path d="M53.5,66.0 52.5,65.8 51.4,64.5 51.0,63.0 51.0,61.0 51.7,59.0 52.7,57.5 54.0,56.5 55.5,56.4 56.5,57.1 57.1,58.0 57.4,59.5 57.3,61.5 56.8,63.0 56.0,64.5 55.0,65.5 53.5,66.0Z" fill="#7a969d" fill-rule="evenodd"/><g id="ct" fill="none" stroke="#1c1c1c" stroke-width="1.15"><path d="M25.80,36.90 C26.37,36.73 26.07,35.72 26.30,35.00 C26.53,34.28 26.65,33.18 27.20,32.60 C27.75,32.02 28.72,31.58 29.60,31.50 C30.48,31.42 31.70,31.75 32.50,32.10 C33.30,32.45 33.75,33.10 34.40,33.60 C35.05,34.10 35.12,34.95 36.40,35.10 C37.68,35.25 40.18,34.83 42.10,34.50 C44.02,34.17 46.00,33.60 47.90,33.10 C49.80,32.60 51.68,31.67 53.50,31.50 C55.32,31.33 57.33,31.58 58.80,32.10 C60.27,32.62 61.25,33.47 62.30,34.60 C63.35,35.73 64.12,37.67 65.10,38.90 C66.08,40.13 67.38,41.02 68.20,42.00 C69.02,42.98 69.85,43.88 70.00,44.80 C70.15,45.72 69.17,46.68 69.10,47.50 C69.03,48.32 69.07,49.22 69.60,49.70 C70.13,50.18 71.25,50.55 72.30,50.40 C73.35,50.25 74.85,49.28 75.90,48.80 C76.95,48.32 77.70,47.65 78.60,47.50 C79.50,47.35 80.62,47.38 81.30,47.90 C81.98,48.42 82.62,49.62 82.70,50.60 C82.78,51.58 82.48,52.97 81.80,53.80 C81.12,54.63 79.65,55.07 78.60,55.60 C77.55,56.13 76.17,56.47 75.50,57.00 C74.83,57.53 74.23,58.35 74.60,58.80 C74.97,59.25 76.95,59.25 77.70,59.70 C78.45,60.15 79.17,60.83 79.10,61.50 C79.03,62.17 78.13,63.10 77.30,63.70 C76.47,64.30 75.53,64.63 74.10,65.10 C72.67,65.57 70.35,65.90 68.70,66.50 C67.05,67.10 65.72,67.65 64.20,68.70 C62.68,69.75 60.97,71.60 59.60,72.80 C58.23,74.00 57.20,75.15 56.00,75.90 C54.80,76.65 53.52,77.27 52.40,77.30 C51.28,77.33 50.63,76.55 49.30,76.10 C47.97,75.65 45.77,75.00 44.40,74.60 C43.03,74.20 41.97,73.37 41.10,73.70 C40.23,74.03 39.92,75.80 39.20,76.60 C38.48,77.40 37.85,78.58 36.80,78.50 C35.75,78.42 33.95,77.22 32.90,76.10 C31.85,74.97 30.82,72.88 30.50,71.75 C30.18,70.62 30.28,69.89 31.00,69.30 C31.72,68.71 33.52,68.32 34.80,68.20 C36.08,68.08 38.05,68.73 38.70,68.60 C39.35,68.47 39.18,67.83 38.70,67.40 C38.22,66.97 37.25,66.23 35.80,66.00 C34.35,65.77 31.77,65.85 30.00,66.00 C28.23,66.15 26.40,66.42 25.20,66.90 C24.00,67.38 23.20,68.82 22.80,68.90 C22.40,68.98 22.40,68.20 22.80,67.40 C23.20,66.60 24.72,65.22 25.20,64.10 C25.68,62.98 25.78,61.83 25.70,60.70 C25.62,59.57 25.50,58.10 24.70,57.30 C23.90,56.50 21.70,56.62 20.90,55.90 C20.10,55.18 20.20,53.68 19.90,53.00 C19.60,52.32 19.72,52.23 19.10,51.80 C18.48,51.37 17.25,51.03 16.20,50.40 C15.15,49.77 13.48,48.97 12.80,48.00 C12.12,47.03 12.10,45.72 12.10,44.60 C12.10,43.48 12.28,42.42 12.80,41.30 C13.32,40.18 14.15,38.78 15.20,37.90 C16.25,37.02 17.82,36.32 19.10,36.00 C20.38,35.68 21.78,35.85 22.90,36.00 C24.02,36.15 25.23,37.07 25.80,36.90Z"/><path d="M55.50,10.80 C54.78,10.63 53.03,10.55 52.00,11.00 C50.97,11.45 50.20,12.38 49.30,13.50 C48.40,14.62 47.12,16.62 46.60,17.70 C46.08,18.78 45.88,19.30 46.20,20.00 C46.52,20.70 47.53,21.65 48.50,21.90 C49.47,22.15 50.90,21.82 52.00,21.50 C53.10,21.18 54.40,20.70 55.10,20.00 C55.80,19.30 55.95,18.27 56.20,17.30 C56.45,16.33 56.58,15.08 56.60,14.20 C56.62,13.32 56.48,12.57 56.30,12.00 C56.12,11.43 56.22,10.97 55.50,10.80Z"/><path d="M56.20,10.00 C56.47,9.40 57.48,8.32 58.20,7.90 C58.92,7.48 59.62,7.40 60.50,7.50 C61.38,7.60 62.72,8.02 63.50,8.50 C64.28,8.98 65.07,9.80 65.20,10.40 C65.33,11.00 64.97,11.65 64.30,12.10 C63.63,12.55 62.22,13.00 61.20,13.10 C60.18,13.20 58.97,12.97 58.20,12.70 C57.43,12.43 56.93,11.95 56.60,11.50 C56.27,11.05 55.93,10.60 56.20,10.00Z"/><ellipse cx="24.6" cy="75.8" rx="3.9" ry="1.9" transform="rotate(45 24.6 75.8)"/><ellipse cx="42.6" cy="89.1" rx="3.6" ry="2.1" transform="rotate(35 42.6 89.1)"/><ellipse cx="65.5" cy="82.3" rx="4.9" ry="2.1" transform="rotate(-42 65.5 82.3)"/><ellipse cx="70.9" cy="73.4" rx="2.2" ry="2.5" transform="rotate(0 70.9 73.4)"/><ellipse cx="73.8" cy="44.2" rx="2.9" ry="2.6" transform="rotate(0 73.8 44.2)"/><ellipse cx="85.4" cy="47.3" rx="1.9" ry="1.9" transform="rotate(0 85.4 47.3)"/><ellipse cx="87.6" cy="38.8" rx="3.3" ry="4.0" transform="rotate(-30 87.6 38.8)"/><ellipse cx="72.6" cy="35.3" rx="7.0" ry="3.3" transform="rotate(38 72.6 35.3)"/><ellipse cx="39.9" cy="20.0" rx="4.9" ry="2.4" transform="rotate(-38 39.9 20.0)"/><ellipse cx="63.6" cy="23.2" rx="5.3" ry="2.4" transform="rotate(-60 63.6 23.2)"/><ellipse cx="75.8" cy="22.1" rx="4.4" ry="5.4" transform="rotate(-12 75.8 22.1)"/></g><circle cx="58.5" cy="36.5" r="1.25" fill="#1e1e1e"/><circle cx="44" cy="25.8" r="0.62" fill="#444"/><circle cx="55.1" cy="25.8" r="0.62" fill="#444"/></g></g><rect x="0" y="0" width="98.0" height="98.1" fill="none" stroke="#222" stroke-width="1.1"/><line x1="-3" x2="0" y1="4.95" y2="4.95" stroke="#222" stroke-width="0.9"/><text transform="translate(-5.90 7.35) scale(0.850 1)" text-anchor="end" font-size="6.70" fill="#2a2a2a">15</text><line x1="-3" x2="0" y1="19.80" y2="19.80" stroke="#222" stroke-width="0.9"/><text transform="translate(-5.90 22.20) scale(0.850 1)" text-anchor="end" font-size="6.70" fill="#2a2a2a">10</text><line x1="-3" x2="0" y1="34.65" y2="34.65" stroke="#222" stroke-width="0.9"/><text transform="translate(-5.90 37.05) scale(0.850 1)" text-anchor="end" font-size="6.70" fill="#2a2a2a">5</text><line x1="-3" x2="0" y1="49.50" y2="49.50" stroke="#222" stroke-width="0.9"/><text transform="translate(-5.90 51.90) scale(0.850 1)" text-anchor="end" font-size="6.70" fill="#2a2a2a">0</text><line x1="-3" x2="0" y1="64.35" y2="64.35" stroke="#222" stroke-width="0.9"/><text transform="translate(-5.90 66.75) scale(0.850 1)" text-anchor="end" font-size="6.70" fill="#2a2a2a">−5</text><line x1="-3" x2="0" y1="79.20" y2="79.20" stroke="#222" stroke-width="0.9"/><text transform="translate(-5.90 81.60) scale(0.850 1)" text-anchor="end" font-size="6.70" fill="#2a2a2a">−10</text><line x1="-3" x2="0" y1="94.05" y2="94.05" stroke="#222" stroke-width="0.9"/><text transform="translate(-5.90 96.45) scale(0.850 1)" text-anchor="end" font-size="6.70" fill="#2a2a2a">−15</text><line x1="25.15" x2="25.15" y1="98.1" y2="101.1" stroke="#222" stroke-width="0.9"/><text transform="translate(25.15 110.60) scale(0.850 1)" text-anchor="middle" font-size="6.70" fill="#2a2a2a">−10</text><line x1="50.60" x2="50.60" y1="98.1" y2="101.1" stroke="#222" stroke-width="0.9"/><text transform="translate(50.60 110.60) scale(0.850 1)" text-anchor="middle" font-size="6.70" fill="#2a2a2a">0</text><line x1="76.05" x2="76.05" y1="98.1" y2="101.1" stroke="#222" stroke-width="0.9"/><text transform="translate(76.05 110.60) scale(0.850 1)" text-anchor="middle" font-size="6.70" fill="#2a2a2a">10</text><text x="4.3" y="13.3" font-size="8.25" font-weight="bold" fill="#7aa3ad">NM+B</text></g><g transform="translate(293.70 374.00)"><g clip-path="url(#pc)"><g transform="translate(0.90 0.60)"><path d="M46.0,89.0 40.5,88.8 35.0,87.6 30.5,85.6 29.0,84.5 27.5,83.0 26.6,81.5 26.1,80.0 25.3,73.0 24.5,71.6 22.3,69.0 21.5,67.5 20.1,62.0 19.5,60.5 17.0,57.1 11.7,51.5 9.9,48.5 9.1,45.0 9.2,43.0 9.6,41.0 10.7,38.5 12.2,36.5 14.0,34.9 16.5,33.4 29.0,28.8 31.5,28.4 37.0,28.2 38.8,27.5 39.8,26.0 39.3,20.0 39.6,18.0 40.2,16.0 41.4,14.0 43.1,12.0 45.0,10.4 47.5,8.8 53.0,6.7 59.5,5.5 66.0,5.7 72.0,7.0 76.5,8.8 80.0,11.2 82.6,14.0 84.3,17.5 84.6,20.0 84.4,22.0 83.8,24.0 82.6,26.0 81.0,27.9 79.1,29.5 72.5,33.6 71.5,34.7 71.1,36.0 71.3,37.5 72.2,39.5 73.5,41.8 74.5,42.8 75.7,43.5 81.0,44.9 82.5,45.9 83.6,47.0 84.6,48.5 85.1,50.5 85.2,52.0 84.8,54.0 82.5,59.2 81.1,63.0 79.6,65.5 77.0,67.9 69.4,72.0 66.9,74.0 65.3,76.5 63.4,81.5 61.5,84.0 58.7,86.0 55.0,87.6 50.5,88.6 46.0,89.0Z" fill="#e8e7f1" fill-rule="evenodd"/><path d="M62.0,23.5 60.5,23.5 59.0,23.1 58.0,22.4 57.3,21.5 57.0,20.5 57.1,19.5 57.7,18.5 59.0,17.5 61.0,16.9 63.5,17.0 65.5,17.8 66.6,19.0 66.8,20.5 66.0,21.9 64.2,23.0 62.0,23.5ZM50.5,81.0 45.5,81.4 38.0,80.8 35.0,79.7 32.4,77.5 30.8,75.0 28.9,70.0 28.0,68.8 25.5,66.6 24.7,65.5 23.2,60.5 22.0,58.1 19.1,54.5 14.6,50.0 13.0,47.5 12.3,45.0 12.6,42.0 13.8,39.5 15.6,37.5 19.0,35.6 29.0,33.0 31.5,32.9 37.5,33.7 40.5,33.7 44.5,32.9 53.0,30.1 55.0,29.7 57.0,29.8 59.5,30.7 62.0,32.9 72.5,45.9 74.0,46.7 78.5,47.6 80.7,49.0 81.7,51.0 81.5,53.5 79.4,58.0 78.1,62.0 76.5,64.3 74.0,66.3 68.5,69.0 65.2,71.0 56.0,78.8 53.5,80.1 50.5,81.0Z" fill="#cbc8df" fill-rule="evenodd"/><path d="M53.0,77.1 49.5,77.4 43.0,76.6 37.5,77.0 35.5,76.4 34.0,75.3 32.5,73.0 30.9,68.5 30.0,67.4 27.5,65.4 26.5,64.1 25.0,59.4 23.8,57.0 21.3,54.0 16.1,49.0 14.8,47.0 14.2,45.0 14.2,43.0 15.0,41.0 16.5,39.0 18.0,37.9 20.0,37.1 28.0,35.8 31.0,35.7 36.5,36.6 39.5,36.6 43.5,36.1 52.0,34.2 56.0,34.2 58.5,35.0 61.5,37.1 67.0,42.2 71.6,47.5 73.5,48.4 77.0,49.2 78.5,50.0 79.4,51.5 79.3,53.5 76.3,61.5 75.0,63.4 72.5,65.3 64.8,69.5 56.5,75.6 53.0,77.1Z" fill="#b7b2d3" fill-rule="evenodd"/><path d="M53.5,75.1 50.5,75.5 43.5,74.5 38.0,74.6 36.5,74.2 35.4,73.5 34.4,72.0 32.9,67.5 32.0,66.4 29.0,64.1 28.2,63.0 26.5,57.9 25.3,55.5 23.1,53.0 17.8,48.5 16.3,46.5 15.8,45.0 15.9,43.0 16.4,41.5 17.5,40.1 20.0,38.6 24.0,38.0 28.5,38.2 34.0,39.8 37.0,40.2 41.0,40.0 51.5,38.3 56.0,38.5 59.0,39.5 63.0,41.6 66.5,44.2 71.0,48.7 72.5,49.5 75.5,50.5 77.0,51.5 77.5,53.0 77.2,54.5 75.2,60.5 73.5,63.0 71.5,64.5 64.4,68.5 57.0,73.5 53.5,75.1Z" fill="#a5a0c9" fill-rule="evenodd"/><path d="M53.5,73.6 51.5,73.9 49.0,73.8 39.0,72.3 37.3,71.5 36.6,70.5 35.8,68.0 35.0,66.5 31.1,63.0 30.0,61.5 29.4,59.5 28.7,54.5 27.8,52.5 26.5,51.5 21.0,48.8 19.3,47.5 18.1,46.0 17.6,44.5 17.6,43.5 18.5,41.5 20.0,40.4 22.0,39.8 24.5,39.9 26.6,40.5 28.2,41.5 29.1,42.5 31.7,47.0 32.5,47.7 33.5,48.0 35.5,47.8 44.0,45.6 51.5,44.3 57.5,43.7 61.5,44.0 63.5,44.5 65.5,45.6 70.0,49.5 74.0,51.6 75.0,52.4 75.5,54.0 75.0,56.5 73.7,60.5 72.2,62.5 70.2,64.0 57.5,71.8 53.5,73.6Z" fill="#958fbf" fill-rule="evenodd"/><path d="M23.0,46.1 21.5,45.6 20.6,44.5 20.6,43.5 21.5,42.7 22.5,42.5 23.5,42.8 24.5,43.9 24.5,45.0 24.2,45.5 23.0,46.1ZM53.5,72.1 51.0,72.4 48.0,72.1 42.0,70.8 40.0,69.8 39.0,68.6 37.2,65.5 34.5,62.5 33.6,61.0 33.4,59.0 34.5,56.8 37.5,54.3 42.5,51.9 53.5,48.1 60.0,46.7 62.5,46.6 65.0,47.3 73.0,53.0 73.7,54.5 73.5,57.0 72.5,60.0 71.0,62.0 68.3,64.0 58.5,69.9 56.0,71.2 53.5,72.1Z" fill="#867fb6" fill-rule="evenodd"/><path d="M53.5,70.6 51.0,70.8 48.0,70.4 44.5,69.4 42.0,68.0 40.5,66.0 38.8,62.5 38.7,60.5 39.5,59.0 42.4,56.5 47.5,53.8 54.5,50.7 60.0,49.0 62.5,48.8 65.0,49.3 67.5,50.7 71.2,53.5 72.0,55.0 72.0,57.0 71.2,59.5 69.7,61.5 67.1,63.5 59.5,68.1 56.0,69.8 53.5,70.6Z" fill="#776fad" fill-rule="evenodd"/><path d="M55.0,68.5 52.0,68.9 49.5,68.6 47.0,67.8 45.0,66.6 43.7,65.0 43.2,63.5 43.4,61.5 44.3,60.0 47.1,57.5 50.9,55.0 55.5,52.6 59.5,51.2 62.0,50.8 64.5,51.0 66.5,51.8 68.9,53.5 70.0,55.0 70.3,57.0 69.7,59.0 68.3,61.0 65.9,63.0 61.9,65.5 58.0,67.5 55.0,68.5Z" fill="#6961a5" fill-rule="evenodd"/><path d="M55.5,66.5 53.5,66.6 51.5,66.3 49.6,65.5 48.5,64.5 48.1,63.5 48.1,62.0 48.7,60.5 49.9,59.0 52.3,57.0 54.5,55.5 57.5,54.0 60.0,53.2 62.0,52.9 64.0,52.9 65.7,53.5 67.1,54.5 68.0,56.0 68.1,57.5 67.5,59.3 66.1,61.0 63.6,63.0 61.0,64.5 58.0,65.9 55.5,66.5Z" fill="#5c539d" fill-rule="evenodd"/><path d="M58.5,63.6 55.5,63.9 54.2,63.5 53.5,63.0 53.0,61.5 53.9,59.5 56.0,57.5 59.0,55.9 62.0,55.3 63.2,55.5 64.3,56.0 65.0,57.0 65.2,58.0 64.2,60.0 61.9,62.0 58.5,63.6Z" fill="#4f4595" fill-rule="evenodd"/><g id="ct" fill="none" stroke="#1c1c1c" stroke-width="1.15"><path d="M25.80,36.90 C26.37,36.73 26.07,35.72 26.30,35.00 C26.53,34.28 26.65,33.18 27.20,32.60 C27.75,32.02 28.72,31.58 29.60,31.50 C30.48,31.42 31.70,31.75 32.50,32.10 C33.30,32.45 33.75,33.10 34.40,33.60 C35.05,34.10 35.12,34.95 36.40,35.10 C37.68,35.25 40.18,34.83 42.10,34.50 C44.02,34.17 46.00,33.60 47.90,33.10 C49.80,32.60 51.68,31.67 53.50,31.50 C55.32,31.33 57.33,31.58 58.80,32.10 C60.27,32.62 61.25,33.47 62.30,34.60 C63.35,35.73 64.12,37.67 65.10,38.90 C66.08,40.13 67.38,41.02 68.20,42.00 C69.02,42.98 69.85,43.88 70.00,44.80 C70.15,45.72 69.17,46.68 69.10,47.50 C69.03,48.32 69.07,49.22 69.60,49.70 C70.13,50.18 71.25,50.55 72.30,50.40 C73.35,50.25 74.85,49.28 75.90,48.80 C76.95,48.32 77.70,47.65 78.60,47.50 C79.50,47.35 80.62,47.38 81.30,47.90 C81.98,48.42 82.62,49.62 82.70,50.60 C82.78,51.58 82.48,52.97 81.80,53.80 C81.12,54.63 79.65,55.07 78.60,55.60 C77.55,56.13 76.17,56.47 75.50,57.00 C74.83,57.53 74.23,58.35 74.60,58.80 C74.97,59.25 76.95,59.25 77.70,59.70 C78.45,60.15 79.17,60.83 79.10,61.50 C79.03,62.17 78.13,63.10 77.30,63.70 C76.47,64.30 75.53,64.63 74.10,65.10 C72.67,65.57 70.35,65.90 68.70,66.50 C67.05,67.10 65.72,67.65 64.20,68.70 C62.68,69.75 60.97,71.60 59.60,72.80 C58.23,74.00 57.20,75.15 56.00,75.90 C54.80,76.65 53.52,77.27 52.40,77.30 C51.28,77.33 50.63,76.55 49.30,76.10 C47.97,75.65 45.77,75.00 44.40,74.60 C43.03,74.20 41.97,73.37 41.10,73.70 C40.23,74.03 39.92,75.80 39.20,76.60 C38.48,77.40 37.85,78.58 36.80,78.50 C35.75,78.42 33.95,77.22 32.90,76.10 C31.85,74.97 30.82,72.88 30.50,71.75 C30.18,70.62 30.28,69.89 31.00,69.30 C31.72,68.71 33.52,68.32 34.80,68.20 C36.08,68.08 38.05,68.73 38.70,68.60 C39.35,68.47 39.18,67.83 38.70,67.40 C38.22,66.97 37.25,66.23 35.80,66.00 C34.35,65.77 31.77,65.85 30.00,66.00 C28.23,66.15 26.40,66.42 25.20,66.90 C24.00,67.38 23.20,68.82 22.80,68.90 C22.40,68.98 22.40,68.20 22.80,67.40 C23.20,66.60 24.72,65.22 25.20,64.10 C25.68,62.98 25.78,61.83 25.70,60.70 C25.62,59.57 25.50,58.10 24.70,57.30 C23.90,56.50 21.70,56.62 20.90,55.90 C20.10,55.18 20.20,53.68 19.90,53.00 C19.60,52.32 19.72,52.23 19.10,51.80 C18.48,51.37 17.25,51.03 16.20,50.40 C15.15,49.77 13.48,48.97 12.80,48.00 C12.12,47.03 12.10,45.72 12.10,44.60 C12.10,43.48 12.28,42.42 12.80,41.30 C13.32,40.18 14.15,38.78 15.20,37.90 C16.25,37.02 17.82,36.32 19.10,36.00 C20.38,35.68 21.78,35.85 22.90,36.00 C24.02,36.15 25.23,37.07 25.80,36.90Z"/><path d="M55.50,10.80 C54.78,10.63 53.03,10.55 52.00,11.00 C50.97,11.45 50.20,12.38 49.30,13.50 C48.40,14.62 47.12,16.62 46.60,17.70 C46.08,18.78 45.88,19.30 46.20,20.00 C46.52,20.70 47.53,21.65 48.50,21.90 C49.47,22.15 50.90,21.82 52.00,21.50 C53.10,21.18 54.40,20.70 55.10,20.00 C55.80,19.30 55.95,18.27 56.20,17.30 C56.45,16.33 56.58,15.08 56.60,14.20 C56.62,13.32 56.48,12.57 56.30,12.00 C56.12,11.43 56.22,10.97 55.50,10.80Z"/><path d="M56.20,10.00 C56.47,9.40 57.48,8.32 58.20,7.90 C58.92,7.48 59.62,7.40 60.50,7.50 C61.38,7.60 62.72,8.02 63.50,8.50 C64.28,8.98 65.07,9.80 65.20,10.40 C65.33,11.00 64.97,11.65 64.30,12.10 C63.63,12.55 62.22,13.00 61.20,13.10 C60.18,13.20 58.97,12.97 58.20,12.70 C57.43,12.43 56.93,11.95 56.60,11.50 C56.27,11.05 55.93,10.60 56.20,10.00Z"/><ellipse cx="24.6" cy="75.8" rx="3.9" ry="1.9" transform="rotate(45 24.6 75.8)"/><ellipse cx="42.6" cy="89.1" rx="3.6" ry="2.1" transform="rotate(35 42.6 89.1)"/><ellipse cx="65.5" cy="82.3" rx="4.9" ry="2.1" transform="rotate(-42 65.5 82.3)"/><ellipse cx="70.9" cy="73.4" rx="2.2" ry="2.5" transform="rotate(0 70.9 73.4)"/><ellipse cx="73.8" cy="44.2" rx="2.9" ry="2.6" transform="rotate(0 73.8 44.2)"/><ellipse cx="85.4" cy="47.3" rx="1.9" ry="1.9" transform="rotate(0 85.4 47.3)"/><ellipse cx="87.6" cy="38.8" rx="3.3" ry="4.0" transform="rotate(-30 87.6 38.8)"/><ellipse cx="72.6" cy="35.3" rx="7.0" ry="3.3" transform="rotate(38 72.6 35.3)"/><ellipse cx="39.9" cy="20.0" rx="4.9" ry="2.4" transform="rotate(-38 39.9 20.0)"/><ellipse cx="63.6" cy="23.2" rx="5.3" ry="2.4" transform="rotate(-60 63.6 23.2)"/><ellipse cx="75.8" cy="22.1" rx="4.4" ry="5.4" transform="rotate(-12 75.8 22.1)"/></g><circle cx="58.5" cy="36.5" r="1.25" fill="#1e1e1e"/><circle cx="44" cy="25.8" r="0.62" fill="#444"/><circle cx="55.1" cy="25.8" r="0.62" fill="#444"/></g></g><rect x="0" y="0" width="98.0" height="98.1" fill="none" stroke="#222" stroke-width="1.1"/><line x1="-3" x2="0" y1="4.95" y2="4.95" stroke="#222" stroke-width="0.9"/><text transform="translate(-5.90 7.35) scale(0.850 1)" text-anchor="end" font-size="6.70" fill="#2a2a2a">15</text><line x1="-3" x2="0" y1="19.80" y2="19.80" stroke="#222" stroke-width="0.9"/><text transform="translate(-5.90 22.20) scale(0.850 1)" text-anchor="end" font-size="6.70" fill="#2a2a2a">10</text><line x1="-3" x2="0" y1="34.65" y2="34.65" stroke="#222" stroke-width="0.9"/><text transform="translate(-5.90 37.05) scale(0.850 1)" text-anchor="end" font-size="6.70" fill="#2a2a2a">5</text><line x1="-3" x2="0" y1="49.50" y2="49.50" stroke="#222" stroke-width="0.9"/><text transform="translate(-5.90 51.90) scale(0.850 1)" text-anchor="end" font-size="6.70" fill="#2a2a2a">0</text><line x1="-3" x2="0" y1="64.35" y2="64.35" stroke="#222" stroke-width="0.9"/><text transform="translate(-5.90 66.75) scale(0.850 1)" text-anchor="end" font-size="6.70" fill="#2a2a2a">−5</text><line x1="-3" x2="0" y1="79.20" y2="79.20" stroke="#222" stroke-width="0.9"/><text transform="translate(-5.90 81.60) scale(0.850 1)" text-anchor="end" font-size="6.70" fill="#2a2a2a">−10</text><line x1="-3" x2="0" y1="94.05" y2="94.05" stroke="#222" stroke-width="0.9"/><text transform="translate(-5.90 96.45) scale(0.850 1)" text-anchor="end" font-size="6.70" fill="#2a2a2a">−15</text><line x1="25.15" x2="25.15" y1="98.1" y2="101.1" stroke="#222" stroke-width="0.9"/><text transform="translate(25.15 110.60) scale(0.850 1)" text-anchor="middle" font-size="6.70" fill="#2a2a2a">−10</text><line x1="50.60" x2="50.60" y1="98.1" y2="101.1" stroke="#222" stroke-width="0.9"/><text transform="translate(50.60 110.60) scale(0.850 1)" text-anchor="middle" font-size="6.70" fill="#2a2a2a">0</text><line x1="76.05" x2="76.05" y1="98.1" y2="101.1" stroke="#222" stroke-width="0.9"/><text transform="translate(76.05 110.60) scale(0.850 1)" text-anchor="middle" font-size="6.70" fill="#2a2a2a">10</text><text x="7.0" y="13.3" font-size="8.25" font-weight="bold" fill="#3a3585">NM</text></g><line x1="32" y1="263.7" x2="32" y2="471.4" stroke="#444" stroke-width="1.3"/><path d="M32,259.3 L28.9,267.2 L32,265.2 L35.1,267.2 Z" fill="#111"/><line x1="51.2" y1="488.4" x2="507" y2="488.4" stroke="#222" stroke-width="1.1"/><path d="M512.8,488.3 L504.6,485.1 L506.6,488.3 L504.6,491.5 Z" fill="#111"/><text x="267.2" y="498.9" font-size="7.2" fill="#222" >t-SNE 1</text><text transform="translate(26.2 364.5) rotate(-90)" text-anchor="middle" font-size="7.3" fill="#222">t-SNE 2</text><text x="6.9" y="268.5" font-size="10.5" fill="#111">B</text><text transform="translate(456.40 426.00) scale(0.800 1)" font-size="9.40" fill="#222">STC</text>
<rect x="38.6" y="510" width="262.5" height="159.8" fill="#f4f3f1"/><text x="6.4" y="521.2" font-size="10.8" fill="#111">C</text><line x1="34.2" y1="533.6" x2="34.2" y2="625" stroke="#333" stroke-width="1.1"/><line x1="32" x2="34.2" y1="535.90" y2="535.90" stroke="#333" stroke-width="0.9"/><text transform="translate(29.20 538.30) scale(0.850 1)" text-anchor="end" font-size="6.70" fill="#2a2a2a">1.0</text><line x1="32" x2="34.2" y1="553.26" y2="553.26" stroke="#333" stroke-width="0.9"/><text transform="translate(29.20 555.66) scale(0.850 1)" text-anchor="end" font-size="6.70" fill="#2a2a2a">0.8</text><line x1="32" x2="34.2" y1="570.62" y2="570.62" stroke="#333" stroke-width="0.9"/><text transform="translate(29.20 573.02) scale(0.850 1)" text-anchor="end" font-size="6.70" fill="#2a2a2a">0.6</text><line x1="32" x2="34.2" y1="587.98" y2="587.98" stroke="#333" stroke-width="0.9"/><text transform="translate(29.20 590.38) scale(0.850 1)" text-anchor="end" font-size="6.70" fill="#2a2a2a">0.4</text><line x1="32" x2="34.2" y1="605.34" y2="605.34" stroke="#333" stroke-width="0.9"/><text transform="translate(29.20 607.74) scale(0.850 1)" text-anchor="end" font-size="6.70" fill="#2a2a2a">0.2</text><line x1="32" x2="34.2" y1="622.70" y2="622.70" stroke="#333" stroke-width="0.9"/><text transform="translate(29.20 625.10) scale(0.850 1)" text-anchor="end" font-size="6.70" fill="#2a2a2a">0.0</text><text transform="translate(15.2 579) rotate(-90)" text-anchor="middle" font-size="8.2" fill="#222">Distribution difference</text><text x="63.7" y="520.3" font-size="6.15" fill="#222">Early</text><text x="89.2" y="520.3" font-size="6.15" fill="#222">Myeloid</text><text x="143.8" y="520.3" font-size="6.15" fill="#222">Mixed-lineage</text><text x="216.3" y="520.3" font-size="6.15" fill="#222">Erythroid/</text><text x="226.3" y="528.2" font-size="6.15" fill="#222">Mk</text><path d="M49.65,574.70 H45.60 V622.60" fill="none" stroke="#9aa675" stroke-width="1.25"/><path d="M49.65,574.70 H53.70 V622.60" fill="none" stroke="#72986e" stroke-width="1.25"/><path d="M65.85,595.00 H61.80 V622.60" fill="none" stroke="#e8a6a3" stroke-width="1.25"/><path d="M65.85,595.00 H69.90 V622.60" fill="none" stroke="#a68a61" stroke-width="1.25"/><path d="M71.92,579.40 H65.85 V595.00" fill="none" stroke="#c6c2bf" stroke-width="0.95"/><path d="M71.92,579.40 H78.00 V622.60" fill="none" stroke="#af9564" stroke-width="1.25"/><path d="M114.45,611.20 H110.40 V622.60" fill="none" stroke="#6456a4" stroke-width="1.25"/><path d="M114.45,611.20 H118.50 V622.60" fill="none" stroke="#a8cde0" stroke-width="1.25"/><path d="M108.38,604.30 H102.30 V622.60" fill="none" stroke="#60639c" stroke-width="1.25"/><path d="M108.38,604.30 H114.45 V611.20" fill="none" stroke="#c6c2bf" stroke-width="0.95"/><path d="M101.29,594.60 H94.20 V622.60" fill="none" stroke="#95bbc5" stroke-width="1.25"/><path d="M101.29,594.60 H108.38 V604.30" fill="none" stroke="#c6c2bf" stroke-width="0.95"/><path d="M93.69,588.50 H86.10 V622.60" fill="none" stroke="#525252" stroke-width="1.25"/><path d="M93.69,588.50 H101.29 V594.60" fill="none" stroke="#c6c2bf" stroke-width="0.95"/><path d="M138.75,604.90 H134.70 V622.60" fill="none" stroke="#567c57" stroke-width="1.25"/><path d="M138.75,604.90 H142.80 V622.60" fill="none" stroke="#708abb" stroke-width="1.25"/><path d="M132.68,600.30 H126.60 V622.60" fill="none" stroke="#9bc27a" stroke-width="1.25"/><path d="M132.68,600.30 H138.75 V604.90" fill="none" stroke="#c6c2bf" stroke-width="0.95"/><path d="M154.95,603.40 H150.90 V622.60" fill="none" stroke="#bdd6ed" stroke-width="1.25"/><path d="M154.95,603.40 H159.00 V622.60" fill="none" stroke="#708157" stroke-width="1.25"/><path d="M143.81,598.20 H132.68 V600.30" fill="none" stroke="#c6c2bf" stroke-width="0.95"/><path d="M143.81,598.20 H154.95 V603.40" fill="none" stroke="#c6c2bf" stroke-width="0.95"/><path d="M155.46,593.10 H143.81 V598.20" fill="none" stroke="#c6c2bf" stroke-width="0.95"/><path d="M155.46,593.10 H167.10 V622.60" fill="none" stroke="#c1c7e7" stroke-width="1.25"/><path d="M179.25,591.20 H175.20 V622.60" fill="none" stroke="#a693cf" stroke-width="1.25"/><path d="M179.25,591.20 H183.30 V622.60" fill="none" stroke="#5b959c" stroke-width="1.25"/><path d="M167.35,586.90 H155.46 V593.10" fill="none" stroke="#c6c2bf" stroke-width="0.95"/><path d="M167.35,586.90 H179.25 V591.20" fill="none" stroke="#c6c2bf" stroke-width="0.95"/><path d="M179.38,583.80 H167.35 V586.90" fill="none" stroke="#c6c2bf" stroke-width="0.95"/><path d="M179.38,583.80 H191.40 V622.60" fill="none" stroke="#c1d2b0" stroke-width="1.25"/><path d="M136.54,567.20 H93.69 V588.50" fill="none" stroke="#c6c2bf" stroke-width="0.95"/><path d="M136.54,567.20 H179.38 V583.80" fill="none" stroke="#c6c2bf" stroke-width="0.95"/><path d="M104.23,553.90 H71.92 V579.40" fill="none" stroke="#c6c2bf" stroke-width="0.95"/><path d="M104.23,553.90 H136.54 V567.20" fill="none" stroke="#c6c2bf" stroke-width="0.95"/><path d="M203.55,581.70 H199.50 V622.60" fill="none" stroke="#9c4949" stroke-width="1.25"/><path d="M203.55,581.70 H207.60 V622.60" fill="none" stroke="#b25a5a" stroke-width="1.25"/><path d="M227.85,608.10 H223.80 V622.60" fill="none" stroke="#8a4444" stroke-width="1.25"/><path d="M227.85,608.10 H231.90 V622.60" fill="none" stroke="#dcb8db" stroke-width="1.25"/><path d="M221.77,601.80 H215.70 V622.60" fill="none" stroke="#bf6163" stroke-width="1.25"/><path d="M221.77,601.80 H227.85 V608.10" fill="none" stroke="#c6c2bf" stroke-width="0.95"/><path d="M252.15,608.30 H248.10 V622.60" fill="none" stroke="#a6a6a6" stroke-width="1.25"/><path d="M252.15,608.30 H256.20 V622.60" fill="none" stroke="#cbcbcb" stroke-width="1.25"/><path d="M246.07,601.80 H240.00 V622.60" fill="none" stroke="#cfab61" stroke-width="1.25"/><path d="M246.07,601.80 H252.15 V608.30" fill="none" stroke="#c6c2bf" stroke-width="0.95"/><path d="M233.92,589.30 H221.77 V601.80" fill="none" stroke="#c6c2bf" stroke-width="0.95"/><path d="M233.92,589.30 H246.07 V601.80" fill="none" stroke="#c6c2bf" stroke-width="0.95"/><path d="M268.35,594.40 H264.30 V622.60" fill="none" stroke="#b289b4" stroke-width="1.25"/><path d="M268.35,594.40 H272.40 V622.60" fill="none" stroke="#54538d" stroke-width="1.25"/><path d="M251.14,575.30 H233.92 V589.30" fill="none" stroke="#c6c2bf" stroke-width="0.95"/><path d="M251.14,575.30 H268.35 V594.40" fill="none" stroke="#c6c2bf" stroke-width="0.95"/><path d="M227.34,564.30 H203.55 V581.70" fill="none" stroke="#c6c2bf" stroke-width="0.95"/><path d="M227.34,564.30 H251.14 V575.30" fill="none" stroke="#c6c2bf" stroke-width="0.95"/><path d="M292.65,590.10 H288.60 V622.60" fill="none" stroke="#605e96" stroke-width="1.25"/><path d="M292.65,590.10 H296.70 V622.60" fill="none" stroke="#7caebb" stroke-width="1.25"/><path d="M286.57,569.20 H280.50 V622.60" fill="none" stroke="#71aab1" stroke-width="1.25"/><path d="M286.57,569.20 H292.65 V590.10" fill="none" stroke="#c6c2bf" stroke-width="0.95"/><path d="M256.96,552.30 H227.34 V564.30" fill="none" stroke="#c6c2bf" stroke-width="0.95"/><path d="M256.96,552.30 H286.57 V569.20" fill="none" stroke="#c6c2bf" stroke-width="0.95"/><path d="M180.59,543.50 H104.23 V553.90" fill="none" stroke="#c6c2bf" stroke-width="0.95"/><path d="M180.59,543.50 H256.96 V552.30" fill="none" stroke="#c6c2bf" stroke-width="0.95"/><path d="M115.12,539.40 H49.65 V574.70" fill="none" stroke="#c6c2bf" stroke-width="0.95"/><path d="M115.12,539.40 H180.59 V543.50" fill="none" stroke="#c6c2bf" stroke-width="0.95"/><text transform="translate(47.60 625.8) rotate(-90)" text-anchor="end" font-size="6.2" fill="#8c9a62">LMPP</text><text transform="translate(55.70 625.8) rotate(-90)" text-anchor="end" font-size="6.2" fill="#5f8a5a">MLP</text><text transform="translate(63.80 625.8) rotate(-90)" text-anchor="end" font-size="6.2" fill="#e59a96">Eos</text><text transform="translate(71.90 625.8) rotate(-90)" text-anchor="end" font-size="6.2" fill="#9a7a4c">34</text><text transform="translate(80.00 625.8) rotate(-90)" text-anchor="end" font-size="6.2" fill="#a4874f">MPP</text><text transform="translate(88.10 625.8) rotate(-90)" text-anchor="end" font-size="6.2" fill="#3a3a3a">HSC</text><text transform="translate(96.20 625.8) rotate(-90)" text-anchor="end" font-size="6.2" fill="#86b2bd">NM+B</text><text transform="translate(104.30 625.8) rotate(-90)" text-anchor="end" font-size="6.2" fill="#4a4e8e">NM</text><text transform="translate(112.40 625.8) rotate(-90)" text-anchor="end" font-size="6.2" fill="#4f3f98">GM–L</text><text transform="translate(120.50 625.8) rotate(-90)" text-anchor="end" font-size="6.2" fill="#9cc6dc">GM–S</text><text transform="translate(128.60 625.8) rotate(-90)" text-anchor="end" font-size="6.2" fill="#8dba68">NM+B+7</text><text transform="translate(136.70 625.8) rotate(-90)" text-anchor="end" font-size="6.2" fill="#3f6a40">NM+B+NK+7</text><text transform="translate(144.80 625.8) rotate(-90)" text-anchor="end" font-size="6.2" fill="#5c7ab2">NM+NK</text><text transform="translate(152.90 625.8) rotate(-90)" text-anchor="end" font-size="6.2" fill="#b4d0ea">NM+NK+7</text><text transform="translate(161.00 625.8) rotate(-90)" text-anchor="end" font-size="6.2" fill="#5d7040">NM+B+NK</text><text transform="translate(169.10 625.8) rotate(-90)" text-anchor="end" font-size="6.2" fill="#b8bfe4">NM+7</text><text transform="translate(177.20 625.8) rotate(-90)" text-anchor="end" font-size="6.2" fill="#9a84c8">E+NM+NK</text><text transform="translate(185.30 625.8) rotate(-90)" text-anchor="end" font-size="6.2" fill="#45868f">B</text><text transform="translate(193.40 625.8) rotate(-90)" text-anchor="end" font-size="6.2" fill="#b9cca5">B+7</text><text transform="translate(201.50 625.8) rotate(-90)" text-anchor="end" font-size="6.2" fill="#8e3030">E</text><text transform="translate(209.60 625.8) rotate(-90)" text-anchor="end" font-size="6.2" fill="#a84444">P–E</text><text transform="translate(217.70 625.8) rotate(-90)" text-anchor="end" font-size="6.2" fill="#b64c4e">BFU–E</text><text transform="translate(225.80 625.8) rotate(-90)" text-anchor="end" font-size="6.2" fill="#7a2a2a">MEP</text><text transform="translate(233.90 625.8) rotate(-90)" text-anchor="end" font-size="6.2" fill="#d7aed6">GEMM</text><text transform="translate(242.00 625.8) rotate(-90)" text-anchor="end" font-size="6.2" fill="#c99f4c">Blast</text><text transform="translate(250.10 625.8) rotate(-90)" text-anchor="end" font-size="6.2" fill="#9a9a9a">Neg CFC</text><text transform="translate(258.20 625.8) rotate(-90)" text-anchor="end" font-size="6.2" fill="#c4c4c4">Neg LTC</text><text transform="translate(266.30 625.8) rotate(-90)" text-anchor="end" font-size="6.2" fill="#a779aa">CMP</text><text transform="translate(274.40 625.8) rotate(-90)" text-anchor="end" font-size="6.2" fill="#3d3b7e">P–NM</text><text transform="translate(282.50 625.8) rotate(-90)" text-anchor="end" font-size="6.2" fill="#5e9ea6">P–L</text><text transform="translate(290.60 625.8) rotate(-90)" text-anchor="end" font-size="6.2" fill="#4a4888">GMP</text><text transform="translate(298.70 625.8) rotate(-90)" text-anchor="end" font-size="6.2" fill="#6aa3b2">pre–B/NK</text><text x="309.8" y="520.8" font-size="10.8" fill="#111">D</text><rect x="350.5" y="513.2" width="157" height="156" fill="none" stroke="#222" stroke-width="1.1"/><line x1="347.5" x2="350.5" y1="513.20" y2="513.20" stroke="#222" stroke-width="0.9"/><text transform="translate(345.00 515.60) scale(0.850 1)" text-anchor="end" font-size="6.70" fill="#2a2a2a">0.4</text><line x1="347.5" x2="350.5" y1="549.30" y2="549.30" stroke="#222" stroke-width="0.9"/><text transform="translate(345.00 551.70) scale(0.850 1)" text-anchor="end" font-size="6.70" fill="#2a2a2a">0.2</text><line x1="347.5" x2="350.5" y1="585.40" y2="585.40" stroke="#222" stroke-width="0.9"/><text transform="translate(345.00 587.80) scale(0.850 1)" text-anchor="end" font-size="6.70" fill="#2a2a2a">0.0</text><line x1="347.5" x2="350.5" y1="621.50" y2="621.50" stroke="#222" stroke-width="0.9"/><text transform="translate(345.00 623.90) scale(0.850 1)" text-anchor="end" font-size="6.70" fill="#2a2a2a">−0.2</text><line x1="347.5" x2="350.5" y1="657.60" y2="657.60" stroke="#222" stroke-width="0.9"/><text transform="translate(345.00 660.00) scale(0.850 1)" text-anchor="end" font-size="6.70" fill="#2a2a2a">−0.4</text><line x1="384.20" x2="384.20" y1="669.2" y2="672.2" stroke="#222" stroke-width="0.9"/><text transform="translate(384.20 681.00) scale(0.850 1)" text-anchor="middle" font-size="6.70" fill="#2a2a2a">−0.4</text><line x1="418.10" x2="418.10" y1="669.2" y2="672.2" stroke="#222" stroke-width="0.9"/><text transform="translate(418.10 681.00) scale(0.850 1)" text-anchor="middle" font-size="6.70" fill="#2a2a2a">−0.2</text><line x1="452.00" x2="452.00" y1="669.2" y2="672.2" stroke="#222" stroke-width="0.9"/><text transform="translate(452.00 681.00) scale(0.850 1)" text-anchor="middle" font-size="6.70" fill="#2a2a2a">0.0</text><line x1="485.90" x2="485.90" y1="669.2" y2="672.2" stroke="#222" stroke-width="0.9"/><text transform="translate(485.90 681.00) scale(0.850 1)" text-anchor="middle" font-size="6.70" fill="#2a2a2a">0.2</text><text x="417.3" y="693" font-size="7.2" fill="#222">MDS 1</text><text transform="translate(326.8 591.5) rotate(-90)" text-anchor="middle" font-size="7.2" fill="#222">MDS 2</text><text x="357.0" y="527.8" font-size="5.2" fill="#8c9a62">LMPP</text><text x="357.5" y="527.8" font-size="5.2" fill="#5f8a5a">MLP</text><text x="382.0" y="550.8" font-size="5.2" fill="#6aa3b2">pre–B/NK</text><text x="389.0" y="567.3" font-size="5.2" fill="#4a4888">GMP</text><text x="425.2" y="556.5" font-size="5.2" fill="#5e9ea6">P–L</text><text x="461.9" y="553.9" font-size="5.2" fill="#86b2bd">NM+B</text><text x="474.0" y="559.1" font-size="5.2" fill="#5d7040">NM+B+NK</text><text x="481.4" y="563.8" font-size="5.2" fill="#b9cca5">B+7</text><text x="484.0" y="563.8" font-size="5.2" fill="#8dba68">NM+B+7</text><text x="457.7" y="564.3" font-size="5.2" fill="#3a3a3a">HSC</text><text x="469.8" y="569.8" font-size="5.2" fill="#3f6a40">NM+B+NK+7</text><text x="486.0" y="569.8" font-size="5.2" fill="#b4d0ea">NM+NK+7</text><text x="449.0" y="587.6" font-size="5.2" fill="#4a4e8e">NM</text><text x="463.0" y="584.8" font-size="5.2" fill="#9cc6dc">GM–S</text><text x="472.0" y="586.4" font-size="5.2" fill="#5c7ab2">NM+NK</text><text x="466.0" y="589.3" font-size="5.2" fill="#4f3f98">GM–L</text><text x="467.0" y="592.8" font-size="5.2" fill="#9a84c8">E+NM+NK</text><text x="489.2" y="590.8" font-size="5.2" fill="#9a7a4c">34</text><text x="488.3" y="594.6" font-size="5.2" fill="#e59a96">Eos</text><text x="448.6" y="601.0" font-size="5.2" fill="#9a9a9a">Neg CFC</text><text x="448.6" y="609.2" font-size="5.2" fill="#c4c4c4">Neg LTC</text><text x="431.2" y="609.3" font-size="5.2" fill="#a779aa">CMP</text><text x="409.4" y="606.6" font-size="5.2" fill="#3d3b7e">P–NM</text><text x="451.7" y="611.0" font-size="5.2" fill="#c99f4c">Blast</text><text x="461.0" y="619.7" font-size="5.2" fill="#a4874f">MPP</text><text x="448.5" y="630.8" font-size="5.2" fill="#d7aed6">GEMM</text><text x="452.3" y="632.8" font-size="5.2" fill="#7a2a2a">MEP</text><text x="378.0" y="643.8" font-size="5.2" fill="#a84444">P–E</text><text x="430.0" y="648.8" font-size="5.2" fill="#b64c4e">BFU–E</text><text x="401.0" y="659.5" font-size="5.2" fill="#8e3030">E</text>
</svg></body></html>
